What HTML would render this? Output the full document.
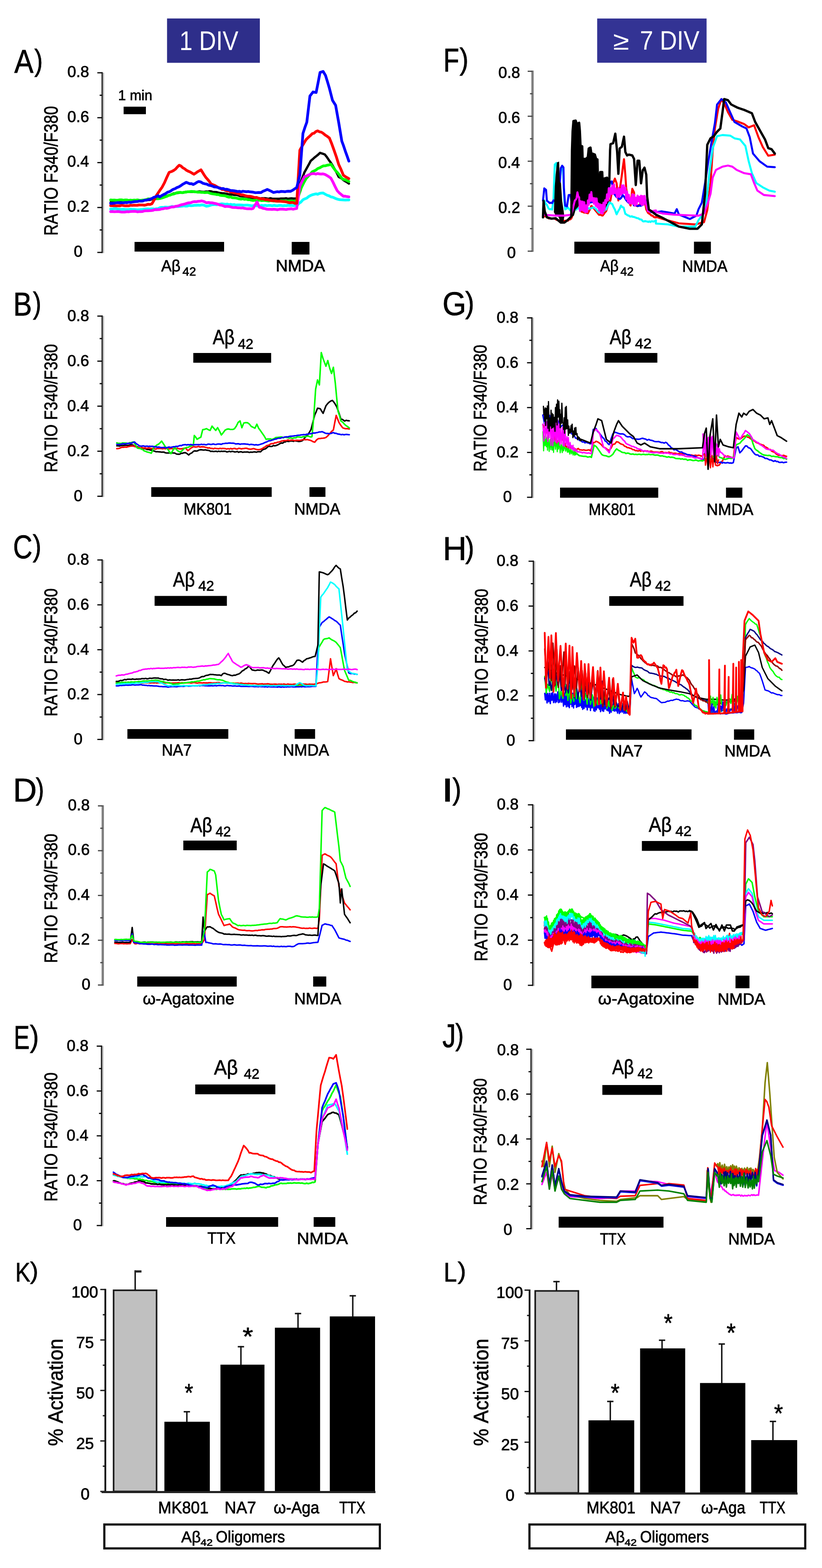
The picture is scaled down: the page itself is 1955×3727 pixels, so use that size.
<!DOCTYPE html>
<html><head><meta charset="utf-8"><title>Figure</title>
<style>html,body{margin:0;padding:0;background:#fff;}svg{display:block;}
text{font-family:"Liberation Sans","DejaVu Sans",sans-serif;font-kerning:none;text-rendering:geometricPrecision;stroke:#000;stroke-width:0.9px;}text[fill="#fff"]{stroke:none;}</style></head>
<body><svg width="1955" height="3727" viewBox="0 0 1955 3727">
<rect width="1955" height="3727" fill="#fff"/>
<polyline points="263.2,480.7 267.5,481.6 271.8,481.2 276.2,480.2 280.5,480.4 284.8,480.1 289.1,480.2 293.4,480.3 297.7,478.9 302.1,478.6 306.2,479.7 310.3,478.9 314.4,479.2 318.5,477.8 322.6,478.3 326.7,478.5 330.8,477.5 335,478.5 339.1,478.2 343.5,476 347.9,475.3 352.4,475.4 356.8,475.3 361.3,473.6 366,472.9 370.6,472.8 375.3,471.7 380,471.5 384.1,470.4 388.2,469.1 392.3,467.2 396.4,465.8 400.6,464.3 404.7,463.3 408.8,461.6 412.9,459.7 417,459.6 421.1,458.7 425.2,458.4 429.3,457.3 433.5,458.2 437.6,457.6 441.7,456 445.8,455.9 449.9,456.1 454,455.7 458,456 462,455.2 466,455.9 470.1,455.6 474.1,455 478.1,455.5 482.1,455.9 486.1,455.9 490.1,455.3 494.1,455.5 498.1,454.6 502.1,454.9 506.4,456.4 510.8,456.4 515.1,456.7 519.4,457.9 523.7,458.7 528,459.3 532.2,459.4 536.3,460.2 540.4,460.9 544.5,461.9 548.6,462.1 552.7,462.6 556.8,463.3 560.9,463.2 565,463.9 569.2,465.5 573.3,466.6 577.4,466.6 581.5,466.9 585.6,467.1 589.7,468.3 593.8,469.7 597.9,469.9 602.1,470.2 606.2,470.9 610.3,470.1 614.4,470.8 618.5,471.7 622.6,471.3 626.7,471.3 630.8,471.2 635,471.9 639.1,472.7 643.2,471.2 647.4,472.4 651.6,472.5 655.7,472.6 659.9,472.4 664,472.5 668.2,472 672.4,472.1 676.5,471.9 680.7,471.3 684.9,472.6 689,472.1 693.2,471.5 697.4,472 701.5,472 705.7,471.8 713.1,438.4 718.6,423.9 724.2,409.3 729.1,400.6 734.1,391.7 739,382.4 743.4,378.7 747.9,374.5 752.3,371.1 756.8,367.5 761.2,363.3 766.8,365.1 772.3,367 777.2,372.9 782.2,380.6 787.1,387.1 791.7,394.5 796.4,402.7 801,411.1 805.6,420.6 809.6,422.5 813.6,425.1 817.6,428.7 821.6,431 825.7,433.4 829.7,436.3" fill="none" stroke="#000000" stroke-width="5.5" stroke-linejoin="round" stroke-linecap="round"/>
<polyline points="263.2,496.8 267.5,497 271.8,495.7 276.2,496 280.5,497.4 284.8,497.4 289.1,497.5 293.4,497.2 297.7,497.9 302.1,498.1 306.2,498 310.3,497.3 314.4,497.8 318.5,497.7 322.6,498.2 326.7,498.7 330.8,498.6 335,498 339.1,497.8 343.2,497.3 347.3,496.7 351.4,496.5 355.5,497 359.6,496.6 363.7,496.5 367.9,497.1 372,496.3 376.1,496.1 380,493.8 384.1,493 388.2,493.1 392.3,492.4 396.4,492.6 400.6,492.9 404.7,492 408.8,490.8 412.9,491.5 417,491 421.1,490.7 425.2,490.7 429.3,490.3 433.5,490.1 437.6,489.2 441.7,490 445.8,489.8 449.9,488.3 454,489 458.2,488.7 462.5,488 466.7,487.9 470.9,487.6 475.2,488 479.4,487.1 483.6,487.3 491,490.3 496.6,489.3 502.1,487.4 506.4,486.4 510.8,486.3 515.1,486.5 519.4,485.9 523.7,485.2 528,484.5 532.2,484.9 536.3,485.7 540.4,485 544.5,486.4 548.6,485.6 552.7,486.8 556.8,486.1 560.9,487.3 565,487.1 569.2,487 573.3,487.2 577.4,487.6 581.5,487.8 585.6,487.5 589.7,487.6 593.8,488.2 597.9,489.1 602.1,488.8 606.2,488 610.3,489.2 614.4,489 618.5,489.3 622.6,488.1 626.7,489 630.8,487.9 635,488.9 639.1,488.3 643.2,488.2 647.4,489.2 651.6,488 655.7,488.7 659.9,489.2 664,488.2 668.2,488.2 672.4,489.2 676.5,488.5 680.7,489 684.9,487.9 689,488.4 693.2,488.1 697.4,488.9 701.5,488 705.7,489.4 710.6,483.6 715.6,480.4 720.5,474.9 724.9,472.7 729.4,471 733.8,467.4 738.3,464.8 742.7,463 747,461.9 751.3,460.8 755.6,461.7 760,459.7 764.3,458.9 768.6,458.8 773.2,461.5 777.9,464 782.5,465.4 787.1,468 791.7,468.9 796.4,471 801,472.9 805.6,474.2 809.6,474.8 813.6,474.9 817.6,475.3 821.6,475.4 825.7,475.3 829.7,475.2" fill="none" stroke="#00ffff" stroke-width="6.5" stroke-linejoin="round" stroke-linecap="round"/>
<polyline points="263.2,475.3 267.5,475.8 271.8,475.5 276.2,475.9 280.5,475.9 284.8,475 289.1,474.9 293.4,476.2 297.7,475.3 302.1,475.3 306.2,476.5 310.3,475.6 314.4,476.2 318.5,475.6 322.6,475.9 326.7,475.1 330.8,475.9 335,476.3 339.1,475.7 343.5,475.3 347.9,474.5 352.4,472.8 356.8,473.1 361.3,472.1 366,471.7 370.6,471.2 375.3,472.6 380,471.9 384.1,470.9 388.2,469.7 392.3,468 396.4,466.9 400.6,464.6 404.7,463.8 408.8,461.8 412.9,461.2 417,459.6 421.1,458 425.2,457.6 429.3,457.3 433.5,458.1 437.6,456.9 441.7,456.8 445.8,455.8 449.9,455.8 454,455.1 458.1,455.3 462.2,455.9 466.4,456.1 470.5,456.8 474.6,456.6 478.7,457.2 482.8,457.3 486.9,457.8 491,457.5 495.1,457.5 499.3,459.4 503.4,460.4 507.5,461.1 511.6,461.4 515.7,462.5 519.8,462.5 523.9,464.3 528,464.7 532.2,465.1 536.3,465.5 540.4,467.6 544.5,468.7 548.6,468 552.7,470 556.8,470.2 560.9,470.6 565,471.7 569.2,472.8 573.3,473.4 577.4,472.5 581.5,473.8 585.6,473.3 589.7,474.8 593.8,474.6 597.9,475.9 602.1,476.5 606.2,475.9 610.3,476.9 614.4,476 618.5,475.8 622.6,476.9 626.7,476.2 630.8,476.6 635,477.2 639.1,477.7 643.2,477 647.4,476.8 651.6,478.1 655.7,477.2 659.9,478.3 664,478.2 668.2,477.3 672.4,477.5 676.5,477.6 680.7,477.8 684.9,477.7 689,477.6 693.2,477.7 697.4,478.2 701.5,477.5 705.7,477.4 711.2,462.2 716.8,445.7 722.3,434.7 727.9,424.6 732.8,419 737.8,414.1 742.7,408.3 747.1,406.3 751.6,404 756,400.5 760.5,398.9 764.9,396.3 769.3,394.3 773.8,394.1 778.2,392.7 782.7,392 787.1,390.3 792.7,398.3 798.2,405.7 803.1,410.8 808.1,417 813,424.2 817.2,426.5 821.3,427.2 825.5,429.4 829.7,431.4" fill="none" stroke="#00ff00" stroke-width="6.5" stroke-linejoin="round" stroke-linecap="round"/>
<polyline points="263.2,503 267.5,502.8 271.8,503.3 276.2,502.9 280.5,502.7 284.8,503.3 289.1,504.1 293.4,503.9 297.7,503.9 302.1,503 306.2,503.4 310.3,502.8 314.4,502.5 318.5,502.3 322.6,502.4 326.7,503.4 330.8,503.1 335,502.9 339.1,502.8 343.2,501.3 347.3,501 351.4,501.1 355.5,500.7 359.6,500.4 363.7,500 367.9,498.2 372,498.6 376.1,498.2 380,497.9 384.1,496.6 388.2,496.2 392.3,494.8 396.4,495.3 400.6,494.4 404.7,493 408.8,491.8 412.9,492 417,490.6 421.1,490.1 425.2,489 429.3,487.4 433.5,486.2 437.6,485.5 441.7,484.2 445.8,482.8 449.9,482 454,481.7 458.3,479.9 462.7,479.3 467,479.6 471.3,478.4 475.6,478.2 479.9,477.5 485.5,479.1 491,482 495.7,481.2 500.3,482 504.9,482.1 509.5,483.3 513.9,484 518.2,485.3 522.5,487.2 526.8,487.7 531.1,489.3 535.4,491.1 539.7,490.4 543.9,490.8 548.1,491.6 552.4,493 556.6,493.3 560.8,493.2 565,493.9 569.2,493.9 573.3,494.5 577.4,494.1 581.5,495.3 585.6,495.9 589.7,496.2 593.8,496 597.9,496.6 602.1,495.3 606.7,487.4 611.3,480.1 616.9,492.8 621.3,493.3 625.7,495.3 630.2,495.9 634.6,497.3 639.1,497.6 643.2,497.4 647.3,497.8 651.4,497.3 655.5,497.7 659.6,498.6 663.7,497.6 667.9,497.1 672,497.2 676.1,497.4 680.3,498.1 684.5,497.1 688.8,496.8 693,496.2 697.2,497.3 701.5,496.2 705.7,495.6 713.1,441.7 718.6,430.6 724.2,419.6 728.8,418.6 733.4,415.9 738.1,413.9 742.7,412.8 746.9,412.5 751.2,413.8 755.4,412.5 759.6,413.2 763.8,413.7 768.1,413.3 772.3,414.3 777.2,416.9 782.2,420 787.1,423.7 792,433 797,443.5 801.9,453.1 806.8,458.4 811.8,462.6 816.7,466.4 821,466.3 825.3,467.3 829.7,467.9" fill="none" stroke="#ff00ff" stroke-width="6.5" stroke-linejoin="round" stroke-linecap="round"/>
<polyline points="263.2,488.8 267.5,489 271.8,489.1 276.2,489.3 280.5,489 284.8,489.3 289.1,487.9 293.4,488.6 297.7,489.3 302.1,488.9 306.2,489.2 310.3,487.8 314.4,488.2 318.5,487.7 322.6,488.1 326.7,488 330.8,487 335,487.2 339.1,487.2 343.5,487.7 347.9,486.9 352.4,485.4 356.8,485.9 361.3,484.4 366.8,474.9 372.4,464 380,452.7 385.6,444.8 391.1,434.5 396.7,421.6 402.2,409.8 407.8,407.8 413.3,405 417.6,401.8 421.9,396.8 426.3,392.7 430.4,394.7 434.6,398.7 438.8,401 442.9,404.3 447.5,406.9 452.2,408.7 456.8,411.6 461.4,414.1 465.6,411.3 469.7,408.4 473.9,406 478.1,403.7 485.5,415.7 489.6,421.8 493.8,426.4 498,431.4 502.1,437.3 506.4,439 510.8,440.8 515.1,443.3 519.4,445.8 523.7,446.9 528,450.5 532.2,450.2 536.3,452.6 540.4,454 544.5,453.9 548.6,456.4 552.7,457 556.8,458.5 560.9,458.9 565,460.2 569.2,461.2 573.3,463.3 577.4,462.9 581.5,464.6 585.6,465.7 589.7,466.5 593.8,466.4 597.9,467.2 602.1,468.3 606.2,469.5 610.3,469.3 614.4,471.1 618.5,472 622.6,473 626.7,472.5 630.8,474.8 635,474.2 639.1,475.4 643.2,476.3 647.4,477.3 651.6,476.8 655.7,478.2 659.9,478.1 664,478.2 668.2,478.6 672.4,478.9 676.5,479.2 680.7,479.7 684.9,481.1 689,482 693.2,481.2 697.4,481.4 701.5,483.4 705.7,483.1 713.1,357.1 718,348.2 723,340.1 727.9,331.9 732.8,327 737.8,322.6 742.7,317.7 747,316.6 751.3,312.7 755.6,311 760,313.4 764.3,314.1 768.6,316.9 773.5,321 778.5,324.2 783.4,328.1 789,341.8 794.5,357.1 800.1,373.3 805.6,391.1 811.2,403.2 816.7,416.4 821,419.7 825.3,422 829.7,424.6" fill="none" stroke="#ff0000" stroke-width="6.5" stroke-linejoin="round" stroke-linecap="round"/>
<polyline points="263.2,483.6 267.5,483.4 271.8,482.7 276.2,482.1 280.5,481.5 284.8,482.3 289.1,481.8 293.4,482.1 297.7,481.2 302.1,481.7 306.2,480.5 310.3,480.9 314.4,480.4 318.5,479.5 322.6,479.2 326.7,479.1 330.8,477.9 335,478 339.1,478 343.5,476 347.9,475.8 352.4,474.5 356.8,473.6 361.3,471.7 366.2,468.9 371.1,467.5 376.1,465.1 380,468.2 384.6,464.9 389.3,462.2 393.9,460.2 398.5,456.8 402.9,455.7 407.4,452.9 411.8,450 416.3,448.5 420.7,445.9 425.2,444.2 429.6,441.6 434,438.3 438.5,435.9 442.9,433.4 447.1,435 451.2,436.7 455.4,436.5 459.6,438.5 463.9,436.4 468.2,433.4 472.5,431.4 477.5,432.5 482.4,435.6 487.3,436.9 491.8,437.7 496.2,440 500.7,441 505.1,442.3 509.5,444.2 513.9,444.6 518.2,445.6 522.5,447.6 526.8,448.2 531.1,448.1 535.4,450.2 539.7,449.8 543.9,451.1 548.1,452.8 552.4,453.1 556.6,453.4 560.8,454.3 565,455.2 569.3,454.7 573.5,456.1 577.7,454.6 582,455.2 586.2,455.7 590.4,455.2 594.7,456.1 602.1,456.8 606.7,457.9 611.3,457.8 615.9,457.5 620.6,457.8 625.5,454.6 630.4,452.8 635.4,450.3 640.3,452.3 645.2,454.7 650.2,457.5 654.8,456.6 659.4,455.6 664,456.2 668.7,455 673.1,455.3 677.6,455.8 682,454.8 686.4,454.6 690.9,454.7 695.8,452.4 700.8,448.9 705.7,445.7 713.1,416.4 720.5,317.2 725.1,303.2 729.7,290.5 737.1,228.3 744.5,218.6 751.9,219.9 756.6,196.2 761.2,172.2 768.6,169.8 774.2,179.4 778.8,194.1 783.4,209.7 790.8,238.5 798.2,250.2 805.6,291.4 813,335.7 817.2,346.9 821.3,359.3 825.5,370.8 829.7,383" fill="none" stroke="#0000ff" stroke-width="6.5" stroke-linejoin="round" stroke-linecap="round"/>
<polyline points="277.8,1059.7 281,1059.7 284.2,1060.3 287.5,1059.1 290.7,1059 293.9,1059 297.1,1058 300.4,1058.4 303.6,1058.5 306.8,1058.6 310.1,1057 313.3,1057.2 316.8,1058.1 320.4,1060.9 324,1062 327.5,1062 331.1,1065.2 334.1,1065.9 337.2,1065.9 340.3,1066.5 343.4,1066.3 346.4,1066.7 349.5,1068.4 352.6,1068.2 355.7,1069.1 358.7,1069.9 361.8,1070.1 364.9,1071.7 368,1072.3 371,1073.8 374.2,1073.5 377.4,1074 380.5,1074.1 383.7,1074.7 386.9,1074.6 390.1,1074.6 393.2,1076.3 396.4,1076.7 399.6,1076.7 402.8,1076.7 405.9,1076.3 409.1,1076.4 412.3,1076.8 415.4,1076.7 419.9,1079.2 424.3,1079.6 427.7,1079.4 431,1077.3 434.3,1077.4 437.6,1076 441.3,1076.1 445,1078.3 448.7,1081.5 452.5,1078.1 456.2,1076.6 459.9,1072.9 463,1071.6 466.2,1072.1 469.4,1071.8 472.5,1070.1 475.7,1069.1 478.9,1069 482.1,1069.6 485.2,1069.8 488.4,1069.2 491.6,1070.1 494.7,1070.4 497.9,1071 501.1,1073.1 504.3,1072.5 507.4,1073.2 510.6,1073 513.8,1072.5 517,1073.6 520.1,1072.4 523.3,1073.4 526.5,1072.4 529.6,1073 532.8,1072.6 536,1072.7 539.2,1074.1 542.3,1073.7 545.5,1072.7 548.7,1073.9 551.8,1072.7 555,1073.2 558.2,1074.3 561.4,1074 564.5,1073.1 567.7,1075.1 570.9,1073.7 574.1,1073.9 577.2,1075.1 580.4,1074.4 583.6,1074.5 586.7,1074.2 589.9,1074.4 593.1,1075.5 596.4,1074.6 599.7,1075 603.1,1074.3 606.4,1074.1 609.7,1074.9 613.1,1073.7 616.4,1073.6 619.7,1073.9 623.3,1070.3 626.8,1068 630.4,1067.3 633.9,1064.9 637.5,1061.5 640.7,1060.8 643.8,1061.2 647,1061 650.2,1058.9 653.4,1059.8 656.5,1059 659.7,1057.8 662.9,1056.2 666,1054.3 669.2,1052.9 672.4,1053.4 675.6,1050.7 678.7,1050.4 681.9,1048.2 685.1,1049.4 688.3,1048.9 691.4,1048.3 694.6,1048.1 697.8,1049.1 700.9,1047.8 704.1,1048.2 707.4,1048.8 710.8,1049.4 714.1,1048.9 717.4,1048.3 720.8,1046.2 724.1,1041.5 727.4,1037.7 730.8,1034.9 735.2,1028.6 739.6,1021.2 744.1,1003.6 748.5,986.3 751.9,978.9 755.2,970.2 758.5,970.7 761.9,971.8 765.2,977.5 768.5,982.4 771.8,973.6 775.2,964.5 778.5,960.3 781.8,956.7 786.3,953.4 790.7,951.8 794,955.8 797.4,960.8 800.7,966.7 804,975.7 807.4,985.4 810.7,995.9 815.1,997.3 819.6,1000.9 823.3,999 827,999.9 830.7,1000.3" fill="none" stroke="#000000" stroke-width="3.6" stroke-linejoin="round" stroke-linecap="round"/>
<polyline points="277.8,1066.4 281,1066.2 284.2,1065.6 287.5,1063.9 290.7,1063.1 293.9,1063.2 297.1,1062.4 300.4,1062.9 303.6,1062 306.8,1061.2 310.1,1060.5 313.3,1060.1 316.8,1060 320.4,1061.5 324,1061.8 327.5,1064.2 331.1,1063.4 334.1,1065.1 337.2,1063.7 340.3,1065.1 343.4,1064.6 346.4,1064.9 349.5,1066 352.6,1064.5 355.7,1064.7 358.7,1066.6 361.8,1066 364.9,1065.3 368,1067.3 371,1067.4 374.2,1065.7 377.4,1066.3 380.5,1065.7 383.7,1066.1 386.9,1066.7 390.1,1065.8 393.2,1066.9 396.4,1065.6 399.6,1065.8 402.8,1067.1 405.9,1066.3 409.1,1066.3 412.3,1066.7 415.4,1066.4 418.8,1066.1 422.1,1065.3 425.4,1066.6 428.8,1067 432.1,1066.9 435.4,1066.1 438.8,1065.4 442.1,1065.3 446.5,1071.3 449.9,1069 453.2,1065.7 456.5,1063.7 459.9,1061.8 463,1062.1 466.2,1062.6 469.4,1062 472.5,1061.1 475.7,1062.7 478.9,1061.9 482.1,1062.1 485.2,1062.1 488.4,1063.2 491.6,1063.7 494.7,1065.1 497.9,1064.4 501.1,1065.9 504.3,1065.8 507.4,1066.9 510.6,1065.5 513.8,1066 517,1066.2 520.1,1066.7 523.3,1065.6 526.5,1066.4 529.6,1065.9 532.8,1066 536,1066.4 539.2,1067.4 542.3,1066.4 545.5,1067.4 548.7,1065.8 551.8,1067.3 555,1066.2 558.2,1065.8 561.4,1067 564.5,1067.3 567.7,1065.5 570.9,1066 574.1,1067 577.2,1066.2 580.4,1066 583.6,1065.5 586.7,1065.5 589.9,1066.7 593.1,1067.4 596.4,1067.7 599.7,1067 603.1,1066.3 606.4,1067.2 609.7,1068.4 613.1,1068.8 616.4,1068.7 619.7,1068.1 623.3,1066.5 626.8,1064.2 630.4,1062.3 633.9,1059.3 637.5,1058.5 640.7,1057.4 643.8,1055 647,1054.3 650.2,1054.5 653.4,1052.4 656.5,1052.8 659.7,1051 662.9,1050.7 666,1050.1 669.2,1048.5 672.4,1048 675.6,1047.3 678.7,1047.5 681.9,1046.9 685.1,1045.7 688.3,1047.3 691.4,1046.3 694.6,1046 697.8,1046.4 700.9,1047.4 704.1,1046.6 707.4,1046.5 710.8,1046.8 714.1,1046.6 717.4,1045.9 720.8,1044.9 724.1,1045 727.4,1045.3 730.8,1044.8 734.3,1045.8 737.9,1046.6 741.4,1048 745,1050.1 748.5,1051.1 753,1045.5 757.4,1042.5 761,1042.4 764.5,1041.8 768.1,1041.5 771.6,1041.1 775.2,1039.9 779.6,1036 784.1,1030.7 788.5,1025.7 792.9,1021.8 796.3,1003.9 799.6,987.4 802.9,995.8 806.3,1004.4 810.7,1011.2 815.1,1016.9 818.3,1018.1 821.4,1018.9 824.5,1018.7 827.6,1018.9 830.7,1019.7" fill="none" stroke="#ff0000" stroke-width="3.6" stroke-linejoin="round" stroke-linecap="round"/>
<polyline points="277.8,1052.6 281.1,1053.7 284.4,1053.8 287.8,1054.3 291.1,1052.8 294.4,1053.1 297.7,1053 301.1,1053.3 304.4,1054.6 307.7,1052.4 311.1,1052.6 314.4,1051 317.7,1050.4 322.2,1057.4 326.6,1065.1 329.8,1065.8 333,1065.6 336.1,1067.5 339.3,1068.5 342.5,1071.5 345.7,1072.6 348.8,1073.9 352.5,1075 356.2,1075.8 359.9,1077.3 363.3,1069.8 366.6,1061.4 369.9,1060.6 373.2,1057.6 376.6,1056 379.9,1053.3 384.4,1048.5 388.8,1055 393.2,1061.9 396.6,1065.5 399.9,1068.9 403.2,1074.5 406.6,1078.3 411,1071 415.4,1062.5 419.9,1068.8 424.3,1072.6 428.8,1074.5 433.2,1071.3 437.6,1066.3 441,1064.6 444.3,1063.5 447.6,1063.2 451,1061.4 455.4,1059.7 459.9,1057.8 462.1,1035.1 465.4,1038.9 468.7,1044.2 473.2,1041.4 477.6,1039.2 482.1,1021.3 486.5,1020.6 490.9,1018.8 495.4,1021.3 499.8,1023.1 504.3,1012.9 508.7,1018.1 513.1,1023.1 517.6,1016.5 522,1024.5 526.5,1033.9 530.9,1028.4 535.4,1022.4 539.8,1020.1 544.2,1019.6 547.6,1020.7 550.9,1020.8 554.2,1020.6 557.6,1019.1 562,1012.9 566.4,1004 570.9,1000.4 575.3,1016.7 579.8,1005.4 584.2,1004.5 588.6,1004.8 593.1,1008 597.5,1013.5 602,1015.6 606.4,1017.8 610.9,1008.4 615.3,1018.2 619.7,1023.9 624.2,1030.4 628.6,1036.8 633.1,1044.7 636.4,1043.3 639.7,1043.6 643,1043.2 646.4,1044.6 649.7,1043.3 653,1042.1 656.4,1039.8 659.7,1039.7 663.3,1039.4 666.8,1038.8 670.4,1038.6 673.9,1041 677.5,1038.9 681,1039.8 684.6,1040.2 688.1,1041.4 691.7,1040.6 695.2,1042 699.7,1040.6 704.1,1040.6 707.3,1038.3 710.5,1038.8 713.6,1038.9 716.8,1039.7 720,1038.3 723.1,1037.9 726.3,1038 729.4,1037.1 732.5,1036.5 735.6,1037.6 738.8,1038.6 741.9,1038.2 746.3,990.4 750.7,924.8 755.2,903 759.6,914.9 764.1,838 768.5,852.9 771.8,861.6 775.2,870.5 779.6,857 784.1,875.1 788.5,887.7 792.9,873 797.4,910 800.7,945 804,977.9 807.4,987.6 810.7,1000.5 815.1,1003.6 819.6,1008.7 823.3,1011.8 827,1014.3 830.7,1017.1" fill="none" stroke="#00ff00" stroke-width="3.6" stroke-linejoin="round" stroke-linecap="round"/>
<polyline points="277.8,1056.1 281,1056.7 284.2,1056.3 287.5,1056.4 290.7,1055 293.9,1054.7 297.1,1055.1 300.4,1054.7 303.6,1053.8 306.8,1054.1 310.1,1053.3 313.3,1053.6 316.6,1051.4 320,1050.5 323.7,1054.5 327.4,1056.6 331.1,1059.4 334.1,1060.5 337.2,1060.4 340.3,1059.8 343.4,1060.6 346.4,1060.9 349.5,1060.3 352.6,1061.2 355.7,1060.6 358.7,1061.1 361.8,1060.8 364.9,1061.2 368,1062.6 371,1061.9 374.2,1063.1 377.4,1062.6 380.5,1063.2 383.7,1063.9 386.9,1063.9 390.1,1063.3 393.2,1064.4 396.4,1064.1 399.6,1063.1 402.8,1062.6 405.9,1063.6 409.1,1062.7 412.3,1061.9 415.4,1062 418.6,1060.9 421.8,1061.2 425,1060.1 428.1,1058.9 431.3,1059.4 434.5,1057.6 437.6,1057.2 440.8,1056.8 444,1057.8 447.2,1056.8 450.3,1057.4 453.5,1056.6 456.7,1057.2 459.9,1057.4 463,1057.1 466.2,1056.9 469.4,1056.9 472.5,1056.8 475.7,1057 478.9,1056.1 482.1,1056.7 485.2,1056.2 488.4,1057.1 491.6,1057.1 494.7,1055.6 497.9,1055.7 501.1,1056.5 504.3,1056.1 507.4,1055.2 510.6,1056.2 513.8,1056.5 517,1055.5 520.1,1055.3 523.3,1055.6 526.5,1056.1 530,1054.5 533.6,1054.2 537.1,1053.5 540.7,1053.8 544.2,1053.1 547.6,1053 550.9,1053.5 554.2,1053.2 557.6,1054 560.9,1055.3 564.2,1054.9 567.5,1054.7 570.9,1056.1 574.1,1055.3 577.2,1055.3 580.4,1055.1 583.6,1055.4 586.7,1055.7 589.9,1055.9 593.1,1057.1 596.3,1056.3 599.4,1056.4 602.6,1057.1 605.8,1057.8 608.9,1056.9 612.1,1057.8 615.3,1057.4 618.5,1056.4 621.6,1055.2 624.8,1054.5 628,1052.9 631.2,1051.3 634.3,1050.5 637.5,1048.5 640.7,1047.6 643.8,1047.5 647,1045.9 650.2,1045.3 653.4,1043.6 656.5,1043.7 659.7,1042.2 662.9,1041.2 666,1041.8 669.2,1040.6 672.4,1039.9 675.6,1039.3 678.7,1038.6 681.9,1038.2 685.1,1038.5 688.3,1037.2 691.4,1036.9 694.6,1036.7 697.8,1036.4 700.9,1035.7 704.1,1035.8 707.3,1034.7 710.5,1034.5 713.6,1034.3 716.8,1033.5 720,1033.4 723.1,1032.9 726.3,1033.5 729.5,1032 732.7,1032.2 735.8,1030.8 739,1030.9 742.2,1030.2 745.4,1029.1 748.5,1029.4 752.1,1028.5 755.6,1027.9 759.2,1026.7 762.7,1026.8 766.3,1026.1 769.6,1027.6 773,1029.4 776.3,1030.4 779.6,1030.2 782.9,1030.7 786.3,1030.5 789.6,1029.3 792.9,1028.1 796.1,1029.9 799.3,1029.9 802.5,1031.4 805.6,1031.9 808.8,1032.4 812,1033.2 815.1,1032.5 818.3,1033.6 821.4,1032.8 824.5,1032.6 827.6,1033 830.7,1033.3" fill="none" stroke="#0000ff" stroke-width="3.6" stroke-linejoin="round" stroke-linecap="round"/>
<polyline points="276.5,1622.7 279.6,1623.3 282.8,1623.2 285.9,1623 289,1622.7 292.2,1623.4 295.3,1623.4 298.5,1623.1 301.6,1623.1 304.8,1622.7 307.9,1622.5 311.1,1622.9 314.2,1623.2 317.4,1622.5 320.5,1623.4 323.6,1622.7 326.8,1622.7 329.9,1622.5 333.1,1623.7 336.1,1623.4 339.1,1623.5 342.2,1623.2 345.2,1622.5 348.2,1622.9 351.3,1623.1 354.3,1622.6 357.3,1623.6 360.3,1622.9 363.4,1622.7 366.4,1623.4 369.4,1622.6 372.5,1623.6 375.5,1623 378.5,1623.1 381.5,1622.9 384.6,1623 387.6,1622.7 390.6,1622.5 393.6,1623.5 396.7,1622.7 399.7,1623.4 402.7,1622.7 405.8,1623.6 408.8,1623.5 411.8,1623.4 414.8,1623.4 417.9,1623.2 420.9,1623.3 423.9,1622.6 427,1623 430,1623.5 433,1622.7 436,1623.6 439.1,1623.5 442.1,1623 445.1,1622.9 448.2,1623 451.2,1622.9 454.2,1623.7 457.2,1622.9 460.3,1622.5 463.3,1622.6 466.3,1623.3 469.3,1623.7 472.4,1623.1 475.4,1623.1 478.4,1623.1 481.5,1623.4 484.5,1622.7 487.5,1623.2 490.5,1623.1 493.6,1623.2 496.6,1622.7 499.6,1622.7 502.7,1622.9 505.7,1623.6 508.7,1622.9 511.7,1623.2 514.8,1622.8 517.8,1622.6 520.8,1622.5 523.9,1623.4 526.9,1623.4 529.9,1622.9 532.9,1623.3 536,1623.4 539,1623.7 542,1623.9 545.1,1623.3 548.1,1624.1 551.1,1624.2 554.1,1623.8 557.2,1624.3 560.2,1623.9 563.2,1623.8 566.2,1623.8 569.3,1624.6 572.3,1623.8 575.3,1623.8 578.4,1624.8 581.4,1624.8 584.4,1624.6 587.4,1625.1 590.5,1624.3 593.5,1624.6 596.5,1624.7 599.6,1625 602.6,1624.7 605.6,1624.7 608.6,1625.1 611.7,1625.8 614.7,1625.9 617.7,1625.7 620.8,1625.5 623.8,1625.3 626.8,1626.2 629.8,1625.7 632.9,1626 635.9,1625.2 638.9,1625.5 641.9,1626.3 645,1626.3 648,1626.5 651,1626.2 654.1,1626.1 657.1,1626.3 660.1,1626.7 663.1,1626.1 666.2,1626.4 669.2,1626.1 672.3,1626.7 675.3,1625.8 678.4,1626.6 681.4,1626.9 684.4,1625.8 687.5,1626.5 690.5,1626.6 693.6,1626.8 696.6,1626.5 699.7,1626.1 702.7,1626.3 705.8,1626.9 708.8,1626.9 711.9,1626 714.9,1625.9 717.9,1625.9 721,1625.8 724,1626.3 727.1,1626 730.1,1626.8 733.2,1626.6 736.2,1625.9 739.3,1626.4 742.3,1626.2 745.4,1626.4 748.4,1626.1 751.4,1626 755.4,1624.4 759.4,1622.9 762.8,1622.8 766.1,1622 769.4,1620.9 772.8,1621.1 776.1,1620.7 779.4,1620.1 782.8,1593.4 786.1,1565.8 789.4,1586.4 792.7,1605.9 796.1,1598.4 799.4,1589.4 802.7,1601.7 806.1,1612.8 809.4,1615 812.7,1616.2 816.1,1617.5 819.4,1619.6 822.7,1619.9 826.1,1621 829.4,1620.6 832.7,1621.2 836,1621.6 839.4,1622.5 842.7,1621.8 846,1622.8 849.4,1623.1" fill="none" stroke="#ff0000" stroke-width="3.5" stroke-linejoin="round" stroke-linecap="round"/>
<polyline points="276.5,1623.6 279.6,1622.4 282.8,1622.1 285.9,1623.1 289,1621.9 292.2,1621.7 295.3,1622.1 298.5,1621.6 301.6,1622.1 304.8,1621.1 307.9,1621.8 311.1,1620.8 314.2,1621 317.4,1621.2 320.5,1620.7 323.6,1620.8 326.8,1620.4 329.9,1619.4 333.1,1620.2 336.2,1619.6 339.2,1619 342.3,1618.6 345.4,1619.1 348.5,1618.6 351.5,1618.7 354.6,1618.3 357.7,1618.2 360.8,1617.5 363.8,1617.4 366.9,1617 370,1616.4 373.1,1617 376.1,1616.9 379.2,1618.3 382.3,1619.3 385.4,1619.7 388.4,1619.8 391.5,1621.4 394.6,1622 397.7,1622.2 400.7,1622.8 403.8,1624.1 406.9,1624.3 410,1626.1 413,1626.4 416.2,1626 419.3,1625.5 422.4,1625.4 425.6,1625.3 428.7,1624.2 431.8,1623.9 435,1623.8 438.1,1623 441.2,1623 444.4,1622.5 447.5,1622 450.6,1621.9 453.8,1621.3 456.9,1620.4 460.1,1621.1 463.2,1620 466.3,1619.7 469.3,1619 472.4,1619 475.4,1618.5 478.4,1617.3 481.5,1616.6 484.5,1615.6 487.5,1616 490.5,1614.5 493.6,1614.3 496.6,1613.5 499.6,1612.9 503,1613.3 506.3,1613.5 509.6,1613.8 513,1614.8 516.3,1615.5 519.6,1615.7 522.9,1615.6 526.3,1616.6 529.6,1617 532.9,1618.5 536.3,1620.1 539.6,1621.3 542.9,1621.9 546.3,1623.5 549.4,1623.5 552.5,1623.9 555.7,1624.3 558.8,1625.2 561.9,1625.3 565.1,1625.4 568.2,1626.1 571.3,1626.4 574.5,1626.4 577.6,1627.3 580.7,1627.8 583.9,1627.9 587,1628.7 590.2,1628 593.3,1628.9 596.4,1629.5 599.6,1629.5 602.6,1629.3 605.6,1630 608.6,1629.6 611.7,1629.4 614.7,1629.2 617.7,1630.3 620.8,1629.5 623.8,1629.3 626.8,1629.4 629.8,1629.4 632.9,1630.2 635.9,1629.3 638.9,1629.5 641.9,1629.2 645,1629.7 648,1629.4 651,1629.5 654.1,1630 657.1,1630.2 660.1,1630.1 663.1,1629.2 666.2,1629.6 669.2,1630.1 672.3,1629.2 675.3,1629.4 678.4,1629.7 681.4,1629.6 684.4,1630 687.5,1630 690.5,1629.7 693.6,1629.4 696.6,1629.4 699.7,1629.4 702.7,1629.2 705.8,1629.9 708.8,1629.3 711.9,1630.2 714.9,1629.9 717.9,1629.2 721,1629.7 724,1629.9 727.1,1629.2 730.1,1629.7 733.2,1629.2 736.2,1630 739.3,1629.1 742.3,1629.9 745.4,1630.3 748.4,1630.1 751.4,1629.4 754.8,1584.8 758.1,1539.4 761.9,1532.9 765.7,1526.9 769.4,1520.2 772.8,1518.4 776.1,1518 779.4,1517.5 782.8,1516.1 786.1,1518.8 789.4,1520.9 792.7,1522.5 796.1,1524.3 799.4,1526.9 802.7,1530.9 806.1,1535 809.4,1539.5 812.7,1557.1 816.1,1575.7 819.4,1593.1 822.7,1601.1 826.1,1609 829.4,1617 832.7,1617.1 836,1618.5 839.4,1620.2 842.7,1621.2 846,1621.8 849.4,1623.3" fill="none" stroke="#00ff00" stroke-width="3.5" stroke-linejoin="round" stroke-linecap="round"/>
<polyline points="276.5,1630.2 279.6,1630.2 282.8,1630 285.9,1628.9 289,1629.4 292.2,1629.1 295.3,1629.1 298.5,1628.5 301.6,1628.5 304.8,1628.7 307.9,1628.3 311.1,1628.5 314.2,1627.8 317.4,1627.8 320.5,1628.4 323.6,1628 326.8,1628 329.9,1628.1 333.1,1627.6 336.1,1627.4 339.1,1628.6 342.2,1628.6 345.2,1628.9 348.2,1629.1 351.3,1629.7 354.3,1629.3 357.3,1630 360.3,1629.8 363.4,1630.2 366.4,1630.6 369.4,1630.4 372.5,1630.4 375.5,1631.1 378.5,1631.6 381.5,1631.7 384.6,1631.8 387.6,1632.3 390.6,1631.9 393.6,1632.2 396.7,1632.6 399.7,1633.4 402.7,1632.5 405.8,1632.3 408.8,1632.1 411.8,1631.9 414.8,1632 417.9,1632.2 420.9,1632.4 423.9,1631.6 427,1631.5 430,1631.3 433,1631.2 436,1631.6 439.1,1631.1 442.1,1630.6 445.1,1630.3 448.2,1631 451.2,1630.7 454.2,1630.7 457.2,1629.9 460.3,1630.1 463.3,1630.4 466.3,1629.8 469.3,1630.3 472.4,1629.3 475.4,1630.3 478.4,1629.2 481.5,1629.6 484.5,1629.2 487.5,1630.1 490.5,1630 493.6,1630.3 496.6,1630.1 499.6,1630.3 502.7,1629.8 505.7,1630.3 508.7,1630 511.7,1629.5 514.8,1630.3 517.8,1629.6 520.8,1629.4 523.9,1629.2 526.9,1629.7 529.9,1629.4 532.9,1630.2 536,1630.4 539,1629.6 542,1629.5 545.1,1630.1 548.1,1629.8 551.1,1630.3 554.1,1630.7 557.2,1630.2 560.2,1630.4 563.2,1631.1 566.2,1630.7 569.3,1630.6 572.3,1631.4 575.3,1631.4 578.4,1631.6 581.4,1631.4 584.4,1631.2 587.4,1631.6 590.5,1631.8 593.5,1631.7 596.5,1631.3 599.6,1631.5 602.6,1631.7 605.6,1632.2 608.6,1632 611.7,1632 614.7,1632.4 617.7,1631.6 620.8,1632.3 623.8,1632 626.8,1632.3 629.8,1632.7 632.9,1632.1 635.9,1633 638.9,1632 641.9,1632.6 645,1632.7 648,1632.4 651,1632.8 654.1,1632.8 657.1,1632.8 660.1,1633.2 663.1,1632.4 666.2,1632.9 669.2,1633.4 672.3,1632.5 675.3,1633.4 678.4,1632.5 681.4,1633 684.4,1632.4 687.5,1632.7 690.5,1632.6 693.6,1632.1 696.6,1632.8 699.7,1632.5 702.7,1632.7 705.8,1632.5 708.8,1632.5 711.9,1632.4 714.9,1632.1 717.9,1632.7 721,1631.7 724,1632.6 727.1,1632.5 730.1,1632.1 733.2,1632.3 736.2,1632.2 739.3,1632 742.3,1631.6 745.4,1631.6 748.4,1631.6 751.4,1631.5 754.8,1563 758.1,1493 762.1,1486.4 766.1,1479.7 769.4,1477.6 772.8,1474.5 776.1,1471.9 779.4,1468.9 782.8,1466.2 786.1,1468 789.4,1470.2 792.7,1472.2 796.1,1474.9 799.4,1476.5 802.7,1479.4 806.1,1483.1 809.4,1486 812.7,1508.8 816.1,1530.8 819.4,1553.5 822.7,1568.4 826.1,1584.6 829.4,1599.4 832.7,1600.9 836,1601 839.4,1600.9 842.7,1602.3 846,1602.3 849.4,1602.9" fill="none" stroke="#0000ff" stroke-width="3.5" stroke-linejoin="round" stroke-linecap="round"/>
<polyline points="276.5,1626.7 279.6,1626.6 282.8,1625.6 285.9,1626.4 289,1625.3 292.2,1625.7 295.3,1624.8 298.5,1625.4 301.6,1624.5 304.8,1625 307.9,1624.8 311.1,1624.7 314.2,1624.1 317.4,1624.4 320.5,1624.4 323.6,1623.2 326.8,1623.5 329.9,1623.8 333.1,1623.4 336.2,1622.7 339.2,1622.3 342.3,1622.8 345.4,1621.5 348.5,1622.1 351.5,1621.9 354.6,1620.9 357.7,1620.8 360.8,1620.5 363.8,1620.6 366.9,1620.1 370,1620.5 373.1,1620.2 376.4,1620.8 379.7,1622.7 383,1623 386.4,1624.2 389.7,1626.2 393,1627.6 396.4,1628.9 399.7,1630.3 402.7,1630.2 405.8,1629.4 408.8,1630 411.8,1630.2 414.8,1629.2 417.9,1629.7 420.9,1629.3 423.9,1629.3 427,1629.7 430,1629.9 433,1630.3 436,1629.3 439.1,1629.7 442.1,1630.3 445.1,1630 448.2,1629.8 451.2,1629.4 454.2,1629.9 457.2,1629.4 460.3,1629.9 463.3,1629.9 466.3,1629.6 469.3,1629.8 472.4,1629 475.4,1628.8 478.4,1628.9 481.5,1627.9 484.5,1627.5 487.5,1627.7 490.5,1627.2 493.6,1627.4 496.6,1626.4 499.6,1626.2 502.7,1625.6 505.7,1625.7 508.7,1625.3 511.7,1625.1 514.8,1625.2 517.8,1624 520.8,1624.9 523.9,1624.2 526.9,1624 529.9,1623.4 532.9,1623.2 536,1623.3 539,1623.5 542,1623.6 545.1,1624 548.1,1624.3 551.1,1624.7 554.1,1625.7 557.2,1625.8 560.2,1626 563.2,1625.5 566.2,1626.1 569.3,1626.7 572.3,1627.2 575.3,1627.2 578.4,1627.8 581.4,1628.4 584.4,1627.9 587.4,1628.4 590.5,1629.1 593.5,1628.9 596.5,1629.7 599.6,1629.6 602.6,1629.1 605.6,1629.7 608.6,1629.2 611.7,1630.1 614.7,1630.1 617.7,1629.8 620.8,1630.2 623.8,1629.4 626.8,1629.7 629.8,1629.3 632.9,1629.2 635.9,1630.1 638.9,1629.2 641.9,1630.2 645,1629.8 648,1630 651,1629.2 654.1,1630.2 657.1,1630.1 660.1,1629.3 663.1,1629.3 666.2,1629.3 669.2,1629.7 672.2,1629.2 675.3,1630.1 678.3,1629.7 681.3,1630 684.3,1629.4 687.4,1629.9 690.4,1629.7 693.4,1629.9 696.5,1629.6 699.5,1630.3 702.8,1628.5 706.1,1626.8 709.5,1624.5 712.8,1622.7 716.1,1624.3 719.5,1626 722.8,1628.6 726.1,1629.5 729.3,1630.2 732.5,1629.4 735.6,1629.9 738.8,1629.4 742,1629.5 745.1,1630 748.3,1629.9 751.4,1630.3 756.1,1579.4 759.4,1499.5 762.8,1419.4 766.1,1414.9 769.4,1411.1 772.8,1406 776.1,1401.2 779.4,1396.4 782.8,1390.2 786.1,1383.5 789.4,1385 792.7,1387.1 796.1,1389.5 799.4,1393.6 802.7,1396.8 806.1,1399.6 809.4,1430.7 812.7,1461.8 816.1,1493.4 819.4,1526.8 822.7,1559.5 826.1,1592.9 829.4,1595 832.7,1598.1 836,1599.8 839.4,1601.1 842.7,1601.1 846,1602.4 849.4,1603.2" fill="none" stroke="#00ffff" stroke-width="3.5" stroke-linejoin="round" stroke-linecap="round"/>
<polyline points="276.5,1619.5 279.8,1619.8 283.1,1619 286.5,1617.3 289.8,1617.7 293.1,1616.6 296.4,1615 299.8,1615.8 302.9,1614.5 306,1614.5 309.1,1614.5 312.2,1614.7 315.3,1613.8 318.4,1614.6 321.5,1614.7 324.6,1614 327.8,1614.3 330.9,1613.9 334,1614.1 337.1,1613 340.2,1613.1 343.3,1613.2 346.4,1612.4 349.7,1613.7 353.1,1613 356.4,1611.9 359.7,1612.5 363.1,1612.1 366.4,1611.6 369.7,1611.4 373.1,1611.7 376.4,1611.6 379.7,1613 383,1613.5 386.4,1613.5 389.7,1615.3 393,1614.5 396.4,1615.3 399.7,1616.9 402.7,1616 405.8,1616.3 408.8,1616.5 411.8,1616.3 414.8,1616.4 417.9,1616.4 420.9,1616.4 423.9,1615.7 427,1616.9 430,1616.1 433,1615.7 436,1616 439.1,1616.3 442.1,1615.7 445.1,1615.1 448.2,1614.9 451.2,1614.1 454.2,1614.5 457.2,1613.7 460.3,1613 463.3,1612.8 466.3,1612.4 469.3,1612.5 472.4,1611.9 475.4,1610.8 478.4,1609 481.5,1608 484.5,1608.3 487.5,1606.5 490.5,1605.3 493.6,1605 496.6,1604.2 499.6,1603.1 503,1603.3 506.3,1603.3 509.6,1603.8 513,1604 516.3,1604.6 519.6,1604.5 522.9,1604.6 526.3,1605.9 529.6,1601.8 532.9,1600.2 536.3,1600.7 539.6,1602.5 542.9,1603.4 546.3,1604.3 549.6,1605.5 552.9,1606 556.3,1604.8 559.6,1605.1 562.9,1603.5 566.2,1602.5 569.6,1601.1 572.9,1598.2 576.2,1594.8 579.6,1593.1 582.9,1590.1 586.2,1588.7 589.6,1585.2 592.9,1583.8 596.2,1588.3 599.6,1592.4 602.9,1592.9 606.2,1593.8 609.5,1593.4 612.9,1592.5 616.2,1592.9 619.5,1592.7 622.9,1592.4 626.2,1593.2 629.5,1595.1 632.9,1596 636.2,1598.2 639.5,1600.3 642.9,1594.5 646.2,1587.6 649.5,1581.6 652.8,1577.1 656.2,1571.7 659.5,1567 662.8,1563.6 666.2,1568.3 669.5,1574.6 672.8,1580.1 676.2,1582.8 679.5,1586.4 682.8,1585.3 686.2,1585.2 689.5,1583.6 692.8,1582.7 696.2,1582 699.5,1579.4 702.8,1574.7 706.1,1569.8 709.5,1569 712.8,1569.4 716.1,1571.8 719.5,1573.9 722.8,1570.6 726.1,1568.6 729.5,1565.7 732.8,1565.3 736.1,1564 739.5,1563.1 742.8,1561.7 746.1,1560.6 749.4,1560.4 752.8,1546.9 756.1,1532.9 759.4,1359.2 762.8,1360 766.1,1360.9 769.4,1361.8 772.8,1363.4 776.1,1365 779.4,1366 782.8,1363.9 786.1,1360.2 789.4,1356.9 792.7,1352.8 796.1,1347.4 799.4,1343.9 802.7,1347.4 806.1,1350.6 809.4,1352.5 812.7,1373.8 816.1,1394 819.4,1419.3 822.7,1447.1 826.1,1473.7 829.4,1469.1 832.7,1466.8 836,1463.6 839.4,1461.1 842.7,1457.5 846,1456.4 849.4,1452.5" fill="none" stroke="#000000" stroke-width="3.5" stroke-linejoin="round" stroke-linecap="round"/>
<polyline points="276.5,1606.7 279.8,1605.6 283.1,1605.1 286.5,1605.1 289.8,1604 293.1,1604.4 296.4,1603.9 299.8,1602.5 302.9,1602.4 306,1601.3 309.1,1600.6 312.2,1600.1 315.3,1599.2 318.4,1597.6 321.5,1597.3 324.6,1596.3 327.8,1595.7 330.9,1593.6 334,1593.8 337.1,1592.1 340.2,1591.1 343.3,1590.8 346.4,1590.2 349.5,1590.2 352.7,1589.4 355.8,1589.8 358.9,1588.7 362.1,1589.7 365.2,1588.8 368.4,1589 371.5,1588.4 374.6,1588.2 377.8,1588 380.9,1588.6 384,1588.4 387.2,1588.6 390.3,1588.5 393.4,1587.9 396.6,1588.3 399.7,1587.4 402.7,1588.1 405.8,1587.2 408.8,1587.9 411.8,1587.1 414.8,1587.1 417.9,1587.1 420.9,1586.4 423.9,1586.3 427,1586.7 430,1586.8 433,1585.9 436,1586.2 439.1,1586 442.1,1586.4 445.1,1586.5 448.2,1585.3 451.2,1585.8 454.2,1585.1 457.2,1585.8 460.3,1585.9 463.3,1585.5 466.3,1585.2 469.5,1584.2 472.6,1584 475.7,1583.8 478.9,1583.3 482,1583.1 485.1,1583.8 488.3,1582.7 491.4,1583.1 494.5,1582.6 497.7,1582.3 500.8,1582.1 503.9,1581.6 507.1,1580.8 510.2,1580.7 513.3,1580.3 516.5,1579.5 519.6,1579.2 522.9,1576.5 526.3,1573.1 529.6,1570.3 532.9,1566.6 536.3,1562.4 539.6,1557.5 542.9,1553.2 546.3,1560.2 549.6,1565.9 552.9,1572.5 556.3,1575.2 559.6,1577.3 562.9,1579.7 566.2,1581.5 569.6,1583.8 572.9,1585.9 576.2,1584.9 579.6,1582.5 582.9,1580.9 586.2,1580 589.6,1581.3 592.9,1582.5 596.2,1585.3 599.6,1586.4 602.6,1587.1 605.6,1586.8 608.6,1586.8 611.7,1586.8 614.7,1586.6 617.7,1587.7 620.8,1587.2 623.8,1587.2 626.8,1587.1 629.8,1587.8 632.9,1588.3 635.9,1587.8 638.9,1588.5 641.9,1588.5 645,1588.5 648,1588.8 651,1589.1 654.1,1589.5 657.1,1588.7 660.1,1589 663.1,1589.3 666.2,1589.2 669.2,1589.6 672.2,1589.8 675.3,1589.6 678.3,1590 681.3,1589.5 684.3,1590.6 687.4,1590.4 690.4,1589.8 693.4,1590 696.5,1590.7 699.5,1590 702.5,1590.8 705.5,1590 708.6,1590.7 711.6,1590.9 714.6,1590.8 717.7,1591.1 720.7,1591.4 723.7,1591.5 726.7,1590.4 729.8,1591 732.8,1590.6 735.8,1591.4 738.8,1590.7 741.9,1590.7 744.9,1590.6 747.9,1590.5 751,1590.8 754,1590.7 757,1591.1 760,1591.5 763.1,1591.4 766.1,1590.9 769.1,1590.8 772.2,1591.4 775.2,1590.8 778.2,1591.3 781.2,1591.7 784.3,1591.2 787.3,1591.1 790.3,1590.5 793.4,1590.8 796.4,1591.6 799.4,1590.6 802.5,1590.6 805.7,1591.2 808.8,1590.9 811.9,1591.2 815,1590.8 818.1,1590.8 821.3,1590.8 824.4,1591.3 827.5,1591.3 830.6,1590.5 833.8,1591.3 836.9,1591.4 840,1591 843.1,1590.6 846.2,1590.5 849.4,1591.7" fill="none" stroke="#ff00ff" stroke-width="3.5" stroke-linejoin="round" stroke-linecap="round"/>
<polyline points="273.1,2242.5 276.2,2242.6 279.2,2242.9 282.3,2243.2 285.3,2242.7 288.4,2242.6 291.5,2242.8 294.5,2243.3 297.6,2242.7 300.6,2243.3 303.7,2243.2 306.7,2242.7 309.8,2243.1 314.4,2233 319.8,2242.9 322.8,2243.5 325.9,2242.6 329,2242.6 332.1,2243.5 335.1,2242.9 338.2,2242.7 341.3,2242.9 344.4,2242.9 347.4,2243.5 350.5,2242.7 353.6,2242.8 356.7,2243.1 359.7,2243.1 362.8,2243.5 365.9,2243.4 369,2242.9 372,2242.7 375.1,2243.4 378.2,2243.5 381.3,2242.6 384.3,2243.3 387.4,2243.4 390.5,2243.2 393.6,2242.8 396.6,2243.3 399.7,2243.3 402.8,2242.7 405.9,2243.2 408.9,2242.8 412,2242.6 415.1,2242.9 418.2,2242.9 421.2,2242.9 424.3,2243.2 427.4,2243.4 430.5,2243.5 433.5,2243.5 436.6,2243.5 439.7,2243.3 442.7,2242.8 445.8,2242.7 448.9,2243.2 452,2243.1 455,2243.2 458.1,2242.6 461.2,2242.7 464.3,2243.5 467.3,2243.1 470.4,2243.2 473.5,2242.6 476.6,2242.9 479.6,2243.4 483,2238.2 486.3,2233.5 489.6,2179.4 493,2126.4 496.3,2125.1 499.6,2123.1 503,2125.6 506.3,2127.6 509.6,2129.4 513,2143.8 516.3,2159.1 519.6,2172.7 522.9,2179.4 526.3,2186.2 529.6,2193.3 532.9,2200.1 536.3,2198.9 539.6,2198.1 542.9,2197.5 546.3,2196.2 549.6,2199.6 552.9,2203.2 556.3,2204.9 559.6,2205.9 562.9,2207.7 566.2,2209.4 569.3,2210.3 572.3,2210.5 575.3,2211.1 578.4,2211.2 581.4,2211 584.4,2211.8 587.4,2212.3 590.5,2212 593.5,2212 596.5,2212.6 599.6,2212.8 602.7,2212.4 605.9,2211.9 609,2211.6 612.2,2212 615.3,2210.9 618.5,2211.1 621.6,2210.3 624.8,2209.9 628,2210.2 631.1,2209.3 634.3,2208.9 637.4,2208.8 640.6,2208.7 643.7,2208.2 646.9,2208.2 650,2207.3 653.2,2207.1 656.4,2207 659.5,2206.4 662.8,2204.9 666.2,2203 669.2,2202.7 672.2,2202.7 675.3,2203.3 678.3,2203.3 681.3,2203.5 684.3,2203.3 687.4,2203.1 690.4,2202.7 693.4,2203.4 696.5,2202.7 699.5,2203 702.8,2203.3 706.1,2204.1 709.5,2204.5 712.8,2205.2 716.1,2206.1 719.5,2206.4 722.8,2206.1 726.1,2206.7 729.5,2206.6 732.8,2206.7 736.1,2205.9 739.5,2206.5 742.8,2206.8 746.1,2206.2 749.4,2206.1 752.8,2206.7 756.1,2206.3 759.4,2186.3 762.8,2110.1 766.1,2033.1 769.4,2031.2 772.8,2029.6 776.1,2031.4 779.4,2033.4 782.8,2034.7 786.1,2036.8 789.4,2040.3 792.7,2044.6 796.1,2049.1 799.4,2053.2 802.7,2079.8 806.1,2106.9 809.4,2116.2 812.7,2126.1 816.1,2136 819.4,2146.4 822.7,2150.4 826.1,2154.7 829.4,2158.4 832.7,2162.6" fill="none" stroke="#ff0000" stroke-width="3.5" stroke-linejoin="round" stroke-linecap="round"/>
<polyline points="273.1,2239.3 276.2,2239.4 279.2,2239.5 282.3,2240.1 285.3,2239.7 288.4,2239.9 291.5,2239.3 294.5,2239.7 297.6,2240 300.6,2239.7 303.7,2240.1 306.7,2240.1 309.8,2239.6 314.4,2204.6 318.4,2240 321.4,2239.3 324.5,2239.2 327.5,2239.9 330.5,2240 333.5,2240 336.5,2240.2 339.5,2239.4 342.5,2239.3 345.5,2239.3 348.5,2240.2 351.5,2239.3 354.6,2239.4 357.6,2239.2 360.6,2239.3 363.6,2239.2 366.6,2239.6 369.6,2239.4 372.6,2239.5 375.6,2240.1 378.6,2239.4 381.6,2240 384.7,2239.9 387.7,2239.8 390.7,2239.8 393.7,2240 396.7,2239.8 399.7,2239.4 402.8,2239.5 405.9,2239.3 408.9,2239.5 412,2240 415.1,2239.4 418.2,2239 421.2,2239.3 424.3,2239.6 427.4,2239.2 430.5,2239.4 433.5,2238.7 436.6,2238.7 439.7,2239.2 442.7,2238.5 445.8,2238.7 448.9,2238.8 452,2238.5 455,2238.3 458.1,2238.2 461.2,2239.1 464.3,2238.8 467.3,2239 470.4,2238.5 473.5,2238.9 476.6,2238.8 479.6,2238.5 483,2179.8 486.3,2213.1 489.6,2207.8 493,2202.9 496.3,2203.3 499.6,2202.8 503,2205.1 506.3,2206.4 509.6,2209 513,2211.7 516.3,2214 519.6,2216 522.9,2217 526.3,2217.6 529.6,2218.4 532.9,2220.2 536,2220 539,2220.6 542,2220.5 545.1,2220.3 548.1,2221.1 551.1,2221.2 554.1,2220.9 557.2,2220.8 560.2,2221.2 563.2,2221.2 566.2,2221.6 569.3,2221.4 572.3,2222.2 575.3,2222.6 578.4,2221.9 581.4,2222.6 584.4,2222.5 587.4,2222.5 590.5,2223.1 593.5,2222.7 596.5,2223.2 599.6,2222.6 602.6,2223.7 605.6,2223 608.6,2223 611.7,2224 614.7,2224 617.7,2224.1 620.8,2224.4 623.8,2224.1 626.8,2224 629.8,2224.4 632.9,2225.2 635.9,2225.3 638.9,2224.7 641.9,2225.1 645,2225.3 648,2225.9 651,2225.1 654.1,2226.1 657.1,2225.7 660.1,2226.1 663.1,2225.9 666.2,2226 669.2,2226.5 672.3,2225.9 675.4,2226.1 678.5,2225.7 681.5,2225.4 684.6,2224.4 687.7,2224.7 690.8,2224.8 693.8,2224.1 696.9,2223.4 700,2223.2 703.1,2223.8 706.1,2223.5 709.5,2222 712.8,2221.2 716.1,2220.8 719.5,2219.7 722.8,2220.2 726.1,2221.9 729.5,2222.3 732.8,2222.9 736.1,2222.6 739.5,2223.1 742.8,2223.3 746.1,2222.7 749.4,2222.6 752.8,2223.3 756.1,2223.5 759.4,2164.6 762.8,2106.4 766.1,2080 769.4,2053.2 772.8,2055 776.1,2057.4 779.4,2059.5 782.8,2061.5 786.1,2063.4 789.4,2065.7 792.7,2067.6 796.1,2070.2 799.4,2079.6 802.7,2090.3 806.1,2100.1 809.4,2146.2 812.7,2112.8 816.1,2143.2 819.4,2173.1 822.7,2178.1 826.1,2182.7 829.4,2188.1 832.7,2193.3" fill="none" stroke="#000000" stroke-width="3.5" stroke-linejoin="round" stroke-linecap="round"/>
<polyline points="273.1,2235.1 276.2,2235.2 279.2,2235.4 282.3,2234.8 285.3,2235.2 288.4,2235.4 291.5,2235.4 294.5,2234.7 297.6,2235.2 300.6,2235.2 303.7,2235 306.7,2235.5 309.8,2235.1 314.4,2219.7 318.4,2240.1 322.1,2240.7 325.8,2241.2 329.4,2242 333.1,2243 336.1,2242.7 339.1,2243.4 342.2,2243.7 345.2,2243.6 348.2,2244.1 351.3,2244.4 354.3,2244.2 357.3,2244.4 360.3,2244 363.4,2244.1 366.4,2245.2 369.4,2244.6 372.5,2244.7 375.5,2245.6 378.5,2245.6 381.5,2245.1 384.6,2245.4 387.6,2245.5 390.6,2245.7 393.6,2245.6 396.7,2246.2 399.7,2246.2 402.8,2246.3 405.9,2246.1 408.9,2246 412,2245.9 415.1,2246.7 418.2,2246.6 421.2,2246.4 424.3,2246 427.4,2246 430.5,2246 433.5,2246.2 436.6,2245.9 439.7,2246.1 442.7,2246.1 445.8,2246.1 448.9,2246.5 452,2246.3 455,2246.3 458.1,2246.2 461.2,2246.4 464.3,2246.7 467.3,2246.2 470.4,2245.9 473.5,2246.3 476.6,2246.2 479.6,2246.6 485,2212.7 489.6,2240.1 493,2239.9 496.3,2241.1 499.6,2241.6 503,2242.2 506.3,2243.4 509.6,2243.5 513,2243.2 516.3,2243.8 519.6,2244.1 522.9,2243.8 526.3,2244.1 529.6,2244.9 532.9,2245.3 536,2245.1 539,2245.2 542,2245.4 545.1,2245.3 548.1,2246 551.1,2246.2 554.1,2245.9 557.2,2245.5 560.2,2246 563.2,2246.5 566.2,2246.2 569.3,2246.1 572.3,2246.3 575.3,2246.9 578.4,2247 581.4,2246.8 584.4,2247.2 587.4,2247.5 590.5,2247.8 593.5,2247.8 596.5,2247.5 599.6,2248 602.6,2248.2 605.6,2248.2 608.6,2248.2 611.7,2248.1 614.7,2248.2 617.7,2248.6 620.8,2248.5 623.8,2248.6 626.8,2248.2 629.8,2248.2 632.9,2248.5 635.9,2248.9 638.9,2249 641.9,2248.7 645,2248.7 648,2249.6 651,2248.8 654.1,2249.8 657.1,2249.7 660.1,2249.6 663.1,2250.1 666.2,2249.9 669.2,2249.2 672.2,2250.1 675.3,2249.6 678.3,2250.1 681.3,2250 684.3,2249.3 687.4,2249.2 690.4,2249.2 693.4,2250 696.5,2250 699.5,2249.4 702.8,2247.1 706.1,2245.1 709.5,2243.3 712.8,2243.1 716.1,2243.1 719.5,2243.1 722.8,2242.7 726.1,2242.6 729.5,2241.7 732.8,2241.5 736.1,2242.2 739.5,2241.8 742.8,2241.1 746.1,2240.5 749.4,2240.3 752.8,2239.9 756.1,2239.7 759.4,2226.3 762.8,2212.8 766.1,2199.3 769.4,2197.8 772.8,2196 776.1,2196.7 779.4,2197.6 782.8,2198 786.1,2199.4 789.4,2199.8 792.7,2204.7 796.1,2209.9 799.4,2216.1 802.7,2222.6 806.1,2229.3 809.4,2230.4 812.7,2231.2 816.1,2232 819.4,2232.8 822.7,2234.5 826.1,2234.9 829.4,2236.5 832.7,2237.6" fill="none" stroke="#0000ff" stroke-width="3.5" stroke-linejoin="round" stroke-linecap="round"/>
<polyline points="273.1,2233.1 276.2,2233.1 279.2,2233.4 282.3,2233.4 285.3,2233.4 288.4,2232.9 291.5,2233.5 294.5,2233 297.6,2232.8 300.6,2232.6 303.7,2233.1 306.7,2232.7 309.8,2232.8 314.4,2223.2 318.4,2236.6 322.1,2237.5 325.8,2237.6 329.4,2238.4 333.1,2239.5 336.1,2239.8 339.1,2240 342.2,2240 345.2,2240.1 348.2,2239.8 351.3,2239.8 354.3,2239.5 357.3,2239.5 360.3,2239.4 363.4,2239.7 366.4,2239.8 369.4,2239.8 372.5,2239.6 375.5,2239.6 378.5,2239.5 381.5,2240 384.6,2239.8 387.6,2240 390.6,2240 393.6,2239.5 396.7,2239.3 399.7,2239.5 402.8,2240.1 405.9,2240 408.9,2239.6 412,2240 415.1,2239.5 418.2,2240.1 421.2,2239.3 424.3,2239.9 427.4,2240.2 430.5,2239.6 433.5,2239.7 436.6,2239.3 439.7,2239.5 442.7,2239.4 445.8,2239.5 448.9,2239.3 452,2239.5 455,2239.3 458.1,2239.7 461.2,2239.6 464.3,2239.4 467.3,2240.1 470.4,2239.5 473.5,2239.7 476.6,2240.1 479.6,2240 483,2226.8 486.3,2213.2 489.6,2143.5 493,2072.7 496.3,2070.1 499.6,2066.3 503,2067.4 506.3,2069 509.6,2070.1 513,2079.7 516.3,2109.7 519.6,2139.6 522.9,2156.9 526.3,2173.2 529.6,2179.5 532.9,2186.4 536.3,2185.1 539.6,2184.5 542.9,2183.9 546.3,2183.6 549.6,2188.4 552.9,2193.1 556.3,2195 559.6,2196.2 562.9,2198.3 566.2,2200.2 569.3,2199.4 572.3,2200.2 575.3,2200.2 578.4,2199.6 581.4,2200 584.4,2200.2 587.4,2199.4 590.5,2199.7 593.5,2199.8 596.5,2200 599.6,2199.5 602.7,2199.6 605.9,2199.2 609,2199 612.2,2198.6 615.3,2198.3 618.5,2197.7 621.6,2197.3 624.8,2196.9 628,2196.5 631.1,2196.2 634.3,2195.9 637.4,2195.4 640.6,2194.8 643.7,2194.7 646.9,2194.9 650,2193.9 653.2,2194.3 656.4,2193.8 659.5,2193 662.8,2187.8 666.2,2183.5 669.5,2184.4 672.8,2184.6 676.2,2185.7 679.5,2186.7 682.8,2185.3 686.2,2183.5 689.5,2182.4 692.8,2181.6 696.2,2180.3 699.5,2179.1 702.8,2177.4 706.1,2176.8 709.5,2177.5 712.8,2178.1 716.1,2179.3 719.5,2179.6 722.8,2179.8 726.1,2179.8 729.5,2180.2 732.8,2180.2 736.1,2179.6 739.5,2180 742.8,2179.5 746.1,2180.1 749.4,2180.1 752.8,2179.9 756.1,2179.3 759.4,2159.6 762.8,2042.9 766.1,1926.6 769.4,1922.8 772.8,1919.5 776.1,1920.7 779.4,1922.5 782.8,1923.4 786.1,1925.3 789.4,1927 792.7,1928.3 796.1,1930.3 799.4,1957.6 802.7,1985.6 806.1,2012.9 809.4,2046.5 812.7,2052.8 816.1,2059.8 819.4,2073.6 822.7,2087 826.1,2093.4 829.4,2099.4 832.7,2107" fill="none" stroke="#00ff00" stroke-width="3.5" stroke-linejoin="round" stroke-linecap="round"/>
<polyline points="269.8,2792.9 273.1,2793.4 276.5,2794 279.8,2795.9 283.1,2796.1 286.5,2797.1 289.8,2797.6 293.1,2798.1 296.4,2799.3 299.8,2799.8 302.8,2800.5 305.8,2800.6 308.9,2801.2 311.9,2800.8 314.9,2800.7 317.9,2801 321,2802.2 324,2801.6 327,2802.7 330.1,2802.9 333.1,2802.3 336.1,2804.1 339.1,2803.5 342.2,2805.5 345.2,2806 348.2,2805.6 351.3,2807 354.3,2807.7 357.3,2807.3 360.3,2808.8 363.4,2808.5 366.4,2810.4 369.4,2810.3 372.5,2811.1 375.5,2809.9 378.5,2810.6 381.5,2811.4 384.6,2811.7 387.6,2811.3 390.6,2812.8 393.6,2813 396.7,2812.4 399.7,2812.5 402.7,2813.6 405.8,2813.5 408.8,2814.2 411.8,2814.2 414.8,2814.4 417.9,2814.1 420.9,2814.6 423.9,2815.4 427,2816.1 430,2816 433,2816.8 436,2816.7 439.1,2817.6 442.1,2817.5 445.1,2817.3 448.2,2817.3 451.2,2817.5 454.2,2817.8 457.2,2819.4 460.3,2819.7 463.3,2819.8 466.3,2819.1 469.3,2820.6 472.4,2820.3 475.4,2822.1 478.4,2822.4 481.5,2823.1 484.5,2823.5 487.5,2823.8 490.5,2825.1 493.6,2825.9 496.6,2825.3 499.6,2826.3 502.7,2826.7 505.7,2826.7 508.7,2826.2 511.7,2826.3 514.8,2827.1 517.8,2826 520.8,2825.9 523.9,2826.7 526.9,2826 529.9,2827 532.9,2826.1 536,2827 539,2826.2 542,2827 545.1,2826.8 548.1,2826.7 551.1,2825.9 554.1,2825.8 557.2,2825.6 560.2,2825.9 563.2,2826.6 566.2,2825.7 569.3,2825.6 572.3,2825.9 575.3,2824.9 578.4,2824.9 581.4,2824.4 584.4,2824.8 587.4,2823.6 590.5,2824.7 593.5,2823.8 596.5,2823.7 599.6,2823.1 602.9,2822.2 606.2,2822.1 609.5,2821.2 612.9,2820.2 616.2,2819.5 619.5,2821 622.9,2822.1 626.2,2822.1 629.5,2822.5 632.9,2823.3 635.9,2821.6 638.9,2821.6 641.9,2820.8 645,2818.7 648,2818.5 651,2817.7 654.1,2816.4 657.1,2816.1 660.1,2815.5 663.1,2814.6 666.2,2812.7 669.2,2812.4 672.2,2813.4 675.3,2812.9 678.3,2813.1 681.3,2813 684.3,2812 687.4,2812.3 690.4,2811.8 693.4,2812.4 696.5,2812.1 699.5,2811.3 702.5,2811.8 705.5,2812.1 708.6,2811.6 711.6,2811.7 714.6,2812.3 717.7,2811.8 720.7,2812.5 723.7,2813.4 726.7,2813.3 729.8,2812.2 732.8,2813.6 736.1,2812.7 739.5,2812 742.8,2810.3 746.1,2810.8 749.4,2809.2 752.8,2765.2 756.1,2719.5 759.4,2692.9 762.8,2666 766.1,2640.4 769.4,2633.8 772.8,2629.3 776.1,2623.2 779.4,2617.1 782.8,2612.3 786.1,2606.6 789.4,2599.1 792.7,2593.7 796.1,2586.2 799.4,2579.1 802.7,2589.2 806.1,2598 809.4,2606.3 812.7,2628.2 816.1,2651 819.4,2673.3 822.7,2703.4 826.1,2733.1" fill="none" stroke="#00ff00" stroke-width="3.9" stroke-linejoin="round" stroke-linecap="round"/>
<polyline points="269.8,2806.6 273.1,2806.7 276.5,2808.2 279.8,2809.3 283.1,2811.2 286.5,2812.2 289.8,2813.7 293.1,2813.5 296.4,2815.1 299.8,2815.6 302.8,2815 305.8,2814.6 308.9,2812.9 311.9,2812.3 314.9,2812.1 317.9,2811 321,2809.6 324,2809.2 327,2808.7 330.1,2806.5 333.1,2806.9 336.4,2807.8 339.7,2808.3 343.1,2809.2 346.4,2811.6 349.7,2811.7 353.1,2812.4 356.2,2812.6 359.3,2814 362.4,2813.9 365.5,2814.4 368.6,2814.5 371.7,2814.4 374.8,2815.4 377.9,2814.6 381.1,2815.1 384.2,2815.8 387.3,2815.7 390.4,2816.3 393.5,2816.1 396.6,2816.5 399.7,2815.6 402.7,2816 405.8,2816.2 408.8,2816 411.8,2816.3 414.8,2816.2 417.9,2816.6 420.9,2817.2 423.9,2816.9 427,2817 430,2816.8 433,2817 436,2818.2 439.1,2817.8 442.1,2817.8 445.1,2817.2 448.2,2818.2 451.2,2817.4 454.2,2817.8 457.2,2818.9 460.3,2818.4 463.3,2818.4 466.3,2818.7 469.7,2819.5 473,2820 476.3,2819.7 479.6,2820 483,2821 486.3,2821.5 489.6,2822 493,2823.7 496.3,2824.5 499.6,2824.4 503,2825.8 506.3,2826.2 509.6,2826.6 513,2825.5 516.3,2824.7 519.6,2824.3 522.9,2824.4 526.3,2823.5 529.6,2823.6 532.9,2823.7 536.3,2821.2 539.6,2819.3 542.9,2818.8 546.3,2816.4 549.6,2814.1 552.9,2812.3 556.3,2809.1 559.6,2806.6 562.9,2803.5 566.2,2799.6 569.6,2795.7 572.9,2792.9 576.2,2793.4 579.6,2792.3 582.9,2792.6 586.2,2792 589.6,2790.2 592.9,2790.9 596.2,2790.4 599.6,2789.8 602.9,2788.8 606.2,2788.8 609.5,2787.4 612.9,2787.4 616.2,2786.9 619.5,2787.1 622.9,2788.1 626.2,2788.2 629.5,2789.7 632.9,2790.3 636.2,2792.6 639.5,2793.6 642.9,2794 646.2,2795.8 649.5,2797 652.8,2797.5 656.2,2799.7 659.5,2800.6 662.8,2802.2 666.2,2803.1 669.2,2802.3 672.2,2802.8 675.3,2802.3 678.3,2803.7 681.3,2803.7 684.3,2803.6 687.4,2802.7 690.4,2802.3 693.4,2803.7 696.5,2803.8 699.5,2802.4 702.5,2803 705.5,2802.4 708.6,2803.5 711.6,2803.5 714.6,2802.5 717.7,2803 720.7,2803.1 723.7,2802.7 726.7,2803.6 729.8,2802.9 732.8,2802.6 736.1,2803.1 739.5,2803.4 742.8,2802.6 746.1,2802.7 749.4,2803.8 752.8,2761.7 756.1,2719.7 759.4,2702 762.8,2683.6 766.1,2666 769.4,2662.1 772.8,2658.3 776.1,2653.6 779.4,2649.4 782.8,2647.5 786.1,2646.7 789.4,2644.4 792.7,2643.8 796.1,2645.4 799.4,2645.8 802.7,2647.7 806.1,2650.1 809.4,2661.6 812.7,2673.7 816.1,2687.2 819.4,2699.9 822.7,2713.1 826.1,2726.9" fill="none" stroke="#000000" stroke-width="3.9" stroke-linejoin="round" stroke-linecap="round"/>
<polyline points="269.8,2792.3 273.1,2794.1 276.5,2794 279.8,2795.2 283.1,2796.3 286.5,2797.2 289.8,2797.4 293.1,2798.2 296.4,2798.2 299.8,2799.6 302.9,2799.3 306,2799.8 309.1,2799.1 312.2,2799.2 315.3,2798.5 318.4,2797.9 321.5,2798.7 324.6,2798.5 327.8,2797.5 330.9,2796.9 334,2797.3 337.1,2797 340.2,2797.3 343.3,2796.8 346.4,2796.4 349.7,2798.2 353.1,2799.5 356.4,2800.7 359.7,2802.3 363.1,2805.4 366.4,2806.9 369.7,2807.7 373.1,2810.3 376.4,2809.7 379.7,2809.1 383,2810.3 386.4,2809.8 389.7,2810.4 393,2810 396.4,2809.1 399.7,2809.9 402.7,2810.5 405.8,2811 408.8,2810.3 411.8,2811 414.8,2811.5 417.9,2811 420.9,2812.4 423.9,2812.6 427,2811.7 430,2812.9 433,2812.8 436,2812.5 439.1,2813.2 442.1,2813.8 445.1,2813.1 448.2,2812.4 451.2,2813 454.2,2813.5 457.2,2813.8 460.3,2813.4 463.3,2812.3 466.3,2813.8 469.3,2813.8 472.4,2813.6 475.4,2814.3 478.4,2814.8 481.5,2816.3 484.5,2816.1 487.5,2817.8 490.5,2817.3 493.6,2818.5 496.6,2819 499.6,2819 502.7,2818.9 505.7,2820.3 508.7,2820.5 511.7,2819.1 514.8,2820.1 517.8,2820.5 520.8,2820.4 523.9,2820.3 526.9,2819.4 529.9,2820.1 532.9,2819.7 536.3,2819.2 539.6,2817.5 542.9,2816.5 546.3,2815.3 549.6,2813.3 552.9,2812.5 556.3,2810.3 559.6,2809.2 562.9,2807.1 566.2,2802.9 569.6,2800 572.9,2796.5 576.2,2795.2 579.6,2794.9 582.9,2794.5 586.2,2792.8 589.6,2792 592.9,2790.9 596.2,2790 599.6,2790.2 602.6,2790.4 605.6,2791.1 608.6,2790.9 611.7,2791.7 614.7,2790.8 617.7,2791 620.8,2791.4 623.8,2792 626.8,2793.2 629.8,2792.3 632.9,2793 635.9,2793.1 638.9,2793.8 641.9,2795.3 645,2796.1 648,2796.7 651,2798.1 654.1,2798.7 657.1,2799.6 660.1,2799.7 663.1,2799.9 666.2,2800.5 669.2,2801.7 672.2,2800.9 675.3,2800.8 678.3,2802.1 681.3,2801.4 684.3,2802.3 687.4,2801.8 690.4,2802.4 693.4,2801.9 696.5,2802.7 699.5,2802.8 702.5,2802.7 705.5,2802.5 708.6,2803.2 711.6,2803.4 714.6,2802.6 717.7,2802.3 720.7,2802.7 723.7,2803.4 726.7,2802.7 729.8,2803.3 732.8,2802.4 736.1,2803.4 739.5,2802.5 742.8,2802.6 746.1,2803.4 749.4,2803 752.8,2761.6 756.1,2719.4 759.4,2700.1 762.8,2679.5 766.1,2659.8 769.4,2651.4 772.8,2643.8 776.1,2635.2 779.4,2626.6 782.8,2626.4 786.1,2625.4 789.4,2624.9 792.7,2623.9 796.1,2623.3 799.4,2628.3 802.7,2635 806.1,2640.1 809.4,2655.3 812.7,2670 816.1,2684 819.4,2699.2 822.7,2722.1 826.1,2743.4" fill="none" stroke="#00ffff" stroke-width="3.9" stroke-linejoin="round" stroke-linecap="round"/>
<polyline points="269.8,2786.2 273.1,2788.7 276.5,2791.4 279.8,2792.5 283.1,2794.3 286.5,2795.6 289.8,2797.4 293.1,2798.9 296.4,2798.6 299.8,2798.6 303.1,2798.8 306.4,2797.8 309.8,2796.7 313.1,2796.2 316.4,2796.1 319.8,2794.9 323.1,2794 326.4,2794.6 329.8,2793.7 333.1,2792.3 336.4,2791.6 339.7,2791.1 343.1,2794.5 346.4,2795.1 349.7,2797.9 353.1,2800.5 356.2,2799.6 359.3,2800.9 362.4,2801.7 365.5,2803.1 368.6,2802.6 371.7,2803.3 374.8,2804 377.9,2804.3 381.1,2806 384.2,2806.9 387.3,2806.9 390.4,2807 393.5,2808.7 396.6,2809.4 399.7,2810 402.7,2809.7 405.8,2810.8 408.8,2810.8 411.8,2811.1 414.8,2811.3 417.9,2811.1 420.9,2811.8 423.9,2812.6 427,2812.7 430,2812.5 433,2813.6 436,2814.2 439.1,2813.5 442.1,2814.3 445.1,2815 448.2,2815.3 451.2,2817.1 454.2,2817.5 457.2,2818 460.3,2819.3 463.3,2818.9 466.3,2819.2 469.7,2819.5 473,2820.3 476.3,2821.5 479.6,2821.5 483,2821.1 486.3,2822.1 489.6,2821.9 493,2823.2 496.3,2820.8 499.6,2819.2 503,2818.3 506.3,2816.9 509.6,2818.2 513,2819.4 516.3,2821.6 519.6,2822.7 522.9,2823.9 526.3,2826 529.6,2825 532.9,2823.2 536.3,2820.9 539.6,2820.2 542.9,2819.7 546.3,2818.2 549.6,2818.8 552.9,2817.1 556.3,2816.2 559.6,2816.4 562.9,2816.5 566.2,2815.7 569.6,2815.2 572.9,2814.7 576.2,2813.9 579.6,2813.6 582.9,2813.3 586.2,2813.1 589.6,2812.9 592.9,2810.7 596.2,2810.1 599.6,2810.4 602.9,2811.6 606.2,2812.4 609.5,2814.6 612.9,2816.6 616.2,2816.5 619.5,2814.6 622.9,2815.4 626.2,2814.6 629.5,2813.2 632.9,2813.1 636.2,2813.6 639.5,2812.6 642.9,2813.4 646.2,2813.1 649.5,2812.4 652.8,2812.7 656.2,2810.9 659.5,2808.5 662.8,2807.8 666.2,2804.6 669.2,2804.4 672.2,2804.8 675.3,2804.5 678.3,2804 681.3,2803.9 684.3,2804 687.4,2804.4 690.4,2802.9 693.4,2804.1 696.5,2803.9 699.5,2803.3 702.5,2803.5 705.5,2802.9 708.6,2803.8 711.6,2803.4 714.6,2803.3 717.7,2803 720.7,2802.6 723.7,2803.4 726.7,2803.4 729.8,2802.3 732.8,2802.7 736.1,2802.4 739.5,2801.3 742.8,2800.5 746.1,2799.9 749.4,2798.9 752.8,2759.1 756.1,2719.6 759.4,2690.9 762.8,2662.3 766.1,2632.9 769.4,2624.3 772.8,2617.2 776.1,2608.4 779.4,2600.2 782.8,2594.3 786.1,2587.9 789.4,2582.5 792.7,2576.3 796.1,2575.1 799.4,2573.7 802.7,2582.4 806.1,2593.7 809.4,2612.6 812.7,2632.4 816.1,2652.5 819.4,2678.8 822.7,2704.8 826.1,2730.5" fill="none" stroke="#0000ff" stroke-width="3.9" stroke-linejoin="round" stroke-linecap="round"/>
<polyline points="269.8,2809.3 273.1,2810.4 276.5,2810.5 279.8,2811.7 283.1,2812 286.5,2812.6 289.8,2813.8 293.1,2814.3 296.4,2815.3 299.8,2816.8 302.8,2815 305.8,2815.4 308.9,2814 311.9,2814.4 314.9,2813.7 317.9,2812.3 321,2812.7 324,2811.9 327,2810.2 330.1,2810.2 333.1,2810 336.4,2812.1 339.7,2812.5 343.1,2814.3 346.4,2816.8 349.7,2818.8 353.1,2819.1 356.2,2819 359.3,2820.1 362.4,2819.4 365.5,2819.5 368.6,2820.3 371.7,2820.1 374.8,2820 377.9,2820.3 381.1,2820.1 384.2,2820.2 387.3,2819.9 390.4,2819.9 393.5,2819 396.6,2820.4 399.7,2820.4 402.7,2819.5 405.8,2819.9 408.8,2818.9 411.8,2819.7 414.8,2819.9 417.9,2819.4 420.9,2819.6 423.9,2820.2 427,2819.1 430,2819.6 433,2819 436,2819.5 439.1,2820.3 442.1,2819.9 445.1,2819 448.2,2820.3 451.2,2820 454.2,2819.7 457.2,2819.4 460.3,2819.4 463.3,2819.2 466.3,2819.9 469.7,2820.2 473,2822.9 476.3,2822.8 479.6,2824.9 483,2826.1 486.3,2827 489.6,2828.1 493,2829.6 496.3,2828.9 499.6,2829.3 503,2828.3 506.3,2827.5 509.6,2827.2 513,2826.4 516.3,2825.8 519.6,2825.6 522.9,2827.1 526.3,2826.9 529.6,2825.7 532.9,2826.5 536.3,2825.7 539.6,2824.8 542.9,2822.3 546.3,2821.3 549.6,2820.6 552.9,2819.9 556.3,2815.7 559.6,2813.4 562.9,2810.1 566.2,2806.3 569.6,2803.6 572.9,2799.5 576.2,2799.8 579.6,2798.7 582.9,2798.3 586.2,2797.9 589.6,2798 592.9,2797.8 596.2,2796.1 599.6,2796.5 602.9,2797.8 606.2,2798.4 609.5,2798.5 612.9,2799.5 616.2,2798.7 619.5,2795.9 622.9,2795.4 626.2,2792.9 629.5,2794.8 632.9,2796.7 636.2,2798.3 639.5,2799.9 642.9,2800.3 646.2,2799.9 649.5,2800.4 652.8,2800 656.2,2799.9 659.5,2799 662.8,2800.4 666.2,2799.3 669.2,2799.6 672.2,2799.6 675.3,2800.8 678.3,2800.7 681.3,2801.5 684.3,2802 687.4,2802.5 690.4,2802.6 693.4,2803 696.5,2802.6 699.5,2802.3 702.5,2803.5 705.5,2803.8 708.6,2803 711.6,2803.7 714.6,2803.2 717.7,2802.9 720.7,2803.6 723.7,2802.3 726.7,2802.8 729.8,2803.4 732.8,2802.4 736.1,2803.1 739.5,2802.9 742.8,2802.6 746.1,2802.9 749.4,2803.4 752.8,2761.7 756.1,2719.9 759.4,2700.2 762.8,2679.7 766.1,2660 769.4,2652.5 772.8,2646.8 776.1,2640.1 779.4,2633.4 782.8,2632 786.1,2630.6 789.4,2628.5 792.7,2627.3 796.1,2620.1 799.4,2612.8 802.7,2623.8 806.1,2633.4 809.4,2651.1 812.7,2668.1 816.1,2686.6 819.4,2701.8 822.7,2717.7 826.1,2733.8" fill="none" stroke="#ff00ff" stroke-width="3.9" stroke-linejoin="round" stroke-linecap="round"/>
<polyline points="269.8,2790.3 273.1,2790.9 276.5,2792.5 279.8,2794.3 283.1,2794.6 286.5,2796.4 289.8,2796 293.1,2796 296.4,2794 299.8,2793.5 303.1,2793.3 306.4,2793.6 309.8,2793.2 313.1,2791.6 316.4,2792.5 319.8,2791.4 323.1,2791.7 326.4,2791.3 329.8,2789.5 333.1,2790.5 336.4,2789.7 339.7,2789.2 343.1,2789.7 346.4,2789 349.7,2790.1 353.1,2793.1 356.4,2795.8 359.7,2799.3 362.8,2799.7 365.9,2800.2 369,2799.4 372,2799.1 375.1,2799.5 378.2,2799 381.3,2799.5 384.3,2800.3 387.4,2799.2 390.5,2799.4 393.6,2800.2 396.6,2799.2 399.7,2799.1 402.7,2799.2 405.8,2799.7 408.8,2799.7 411.8,2799.5 414.8,2798.4 417.9,2798.6 420.9,2798.3 423.9,2798.8 427,2798.4 430,2798.9 433,2798.5 436.3,2798.3 439.7,2797.4 443,2797.7 446.3,2796.7 449.7,2796.5 453,2797.5 456.3,2796.1 459.7,2795.6 463,2798.4 466.3,2799.2 469.7,2800.1 473,2801.2 476.3,2802.4 479.6,2801.6 483,2803.3 486.3,2803 489.6,2804.8 493,2804.8 496.3,2804.4 499.6,2804.9 503,2805.3 506.3,2804.5 509.6,2804.9 513,2805.5 516.3,2805.6 519.6,2805.4 522.9,2805.2 526.3,2805.8 529.6,2805.1 532.9,2805.6 536.3,2805.7 539.6,2805.6 542.9,2805.6 546.3,2800.1 549.6,2796 552.9,2789.5 556.3,2781.9 559.6,2775 562.9,2767.6 566.2,2760.4 569.6,2751.2 572.9,2740.7 576.2,2731.9 579.6,2722.9 582.9,2726.1 586.2,2729.9 589.6,2734.4 592.9,2740.4 596.2,2740 599.6,2741.5 602.9,2742.1 606.2,2742.2 609.5,2742.2 612.9,2742.4 616.2,2745 619.5,2746 622.9,2746.4 626.2,2746.8 629.5,2749.1 632.9,2749.4 635.9,2750.9 638.9,2752.9 641.9,2754.1 645,2755.2 648,2755.1 651,2757.3 654.1,2758.4 657.1,2759.8 660.1,2759.9 663.1,2762.5 666.2,2762.5 669.5,2764.4 672.8,2767.5 676.2,2769.7 679.5,2771.8 682.8,2772.8 686.2,2775.1 689.5,2777.7 692.8,2779.9 696.2,2781.4 699.5,2781.6 702.8,2784 706.1,2784.6 709.2,2784.9 712.2,2784.8 715.2,2785.4 718.3,2785.2 721.3,2785.9 724.3,2785.4 727.3,2785.3 730.4,2785.8 733.4,2785.8 736.4,2785.9 739.5,2787.2 743.4,2784.9 747.4,2783.6 752.8,2686.7 756.1,2651.7 759.4,2615.4 762.8,2579.8 766.1,2568.4 769.4,2557.3 772.8,2547.2 776.1,2535.4 779.4,2524.6 782.8,2514 786.1,2514.4 789.4,2515 792.7,2516.9 796.1,2512.1 799.4,2507.3 802.7,2526.5 806.1,2546 809.4,2563.5 812.7,2580.3 816.7,2609.1 820.7,2640.3 826.1,2683.7" fill="none" stroke="#ff0000" stroke-width="3.9" stroke-linejoin="round" stroke-linecap="round"/>
<polyline points="1291.4,514.5 1294,514.2 1296.6,514.3 1299.3,514.8 1302.1,516.5 1304.9,519.2 1307.6,519 1310.4,519.1 1313.2,519.5 1315.9,519.7 1318.7,519.6 1321.5,521.1 1324.6,522.8 1327.7,523.3 1330.8,524.2 1333.9,524.5 1336.8,524.8 1339.7,524.1 1342.6,525.5 1345.5,524.4 1348.4,524.4 1351,524.5 1353.6,521.4 1356.2,521.4 1358.8,519 1362.9,509 1367,496.2 1371.2,488.9 1374.3,493.3 1377.4,495.3 1380.5,499.8 1383.6,503.3 1386.4,503.8 1389.2,505.3 1391.9,505.1 1395,506 1398.1,507.1 1402.3,499.2 1406.4,489.5 1409.5,491.9 1412.6,495.5 1416.8,501.1 1419.6,504.2 1422.3,507.9 1425.1,510.7 1427.8,510 1430.6,511.8 1433.4,512.3 1436.1,508.8 1438.9,504.7 1441.7,501.9 1445.8,488.7 1448.9,482.9 1452,475.5 1455.1,455.8 1458.2,435.6 1462.4,424.5 1466.5,435.5 1470.7,476.5 1474.8,445.9 1479,416.1 1481.6,395.6 1484.1,378.4 1487.3,416.1 1489.3,447 1493.5,477.2 1496.6,482.3 1499.7,488.5 1503.8,448.7 1508,457.3 1510.1,486.8 1513.2,488.9 1516.3,490.3 1519,487.7 1521.8,486.2 1524.6,486.4 1528.7,469.1 1532.8,472.9 1537,497.9 1541.1,505.7 1543.9,507.7 1546.7,509.5 1549.4,512.3 1552.1,512.7 1554.7,515.5 1557.4,516.7 1560,516.9 1559.8,515.3 1575.9,520.5 1614.8,530.8 1653.6,533.4 1674.4,528.2 1682.1,499.7 1689.9,435 1695.1,357.3 1700.3,305.4 1708,258.8 1715.8,235.5 1723.6,248.4 1731.3,266.6 1741.7,284.7 1757.3,289.9 1770.2,295.1 1780.6,302.8 1793.5,297.7 1803.9,326.2 1814.2,349.5 1827.2,370.2 1842.7,367.6" fill="none" stroke="#ff0000" stroke-width="4.8" stroke-linejoin="round" stroke-linecap="round"/>
<polyline points="1291.4,499 1294.5,476.5 1297.6,483.6 1300.7,487 1304.9,495.8 1307.6,497.6 1310.4,496.9 1313.2,498 1316.3,476.4 1319.4,391.3 1323.5,387.2 1326.6,414.3 1330.8,434.9 1334.9,398.4 1339.1,402.7 1342.2,477.9 1344.2,497.6 1347.4,496.1 1350.5,493 1354.1,497.3 1357.7,501.1 1359.8,498.1 1363.4,498.1 1367,498.3 1370.2,498 1373.3,495.4 1376.4,494.5 1379.5,493.7 1382.2,495.3 1385,494.1 1387.8,494.4 1390.5,495 1393.3,496 1396.1,495.4 1398.8,494.8 1401.6,495.8 1404.4,495.1 1407.1,494.7 1409.9,493 1412.6,493.2 1415.8,495.5 1418.9,498.7 1422,502.6 1425.1,505.4 1427.8,504.3 1430.6,502.5 1433.4,502.3 1436.1,501.7 1438.9,499 1441.7,497.7 1445.8,488.1 1449.9,481 1453.1,483.4 1456.2,485.2 1459.3,492.5 1462.4,498 1466.5,509.4 1470.7,501 1473.8,496.2 1476.9,488.8 1480,492.2 1483.1,493.2 1487.3,508.4 1489.8,509.5 1492.4,511.8 1495,512.1 1497.6,514.3 1500.2,514.9 1502.8,514 1505.4,515.7 1508,515.7 1510.6,516.7 1513.2,517.7 1515.8,518.7 1518.3,518.9 1520.9,521.1 1523.5,521.6 1526.1,522.3 1528.7,525.9 1531.3,526.4 1533.9,525.4 1536.5,526.2 1539.1,526.4 1541.7,527.5 1544.2,526.2 1546.8,527.7 1549.4,525.9 1552.1,526.2 1554.7,526.6 1557.4,525.4 1560,524.1 1559.8,531.3 1588.9,533.4 1614.8,538.6 1653.6,538.6 1661.4,523.1 1669.2,512.7 1679.5,486.8 1687.3,409.1 1695.1,352.1 1705.4,323.6 1718.4,321 1736.5,322.3 1746.9,328.8 1759.8,331.3 1772.8,346.9 1780.6,383.2 1788.3,411.7 1798.7,435 1814.2,445.3 1829.8,453.1 1842.7,455.7" fill="none" stroke="#00ffff" stroke-width="4.8" stroke-linejoin="round" stroke-linecap="round"/>
<polyline points="1291.4,477.1 1294.5,447.7 1298.7,451.3 1300.7,477.2 1304.9,480.4 1307.6,482.7 1310.4,481.8 1313.2,482.8 1316.3,476.2 1318.9,477.6 1321.5,478.1 1324.2,470.6 1327,462.8 1329.7,457.4 1333.9,399.4 1337,393.9 1340.1,398 1341.1,446.6 1344.2,488.8 1348.4,490.7 1352.5,463.7 1356.7,463.3 1358.8,476.6 1361.5,480.3 1364.3,482.6 1367,485.9 1369.8,485.5 1372.6,484.8 1375.3,486.5 1378.1,484.4 1380.9,485.2 1383.6,485.1 1386.2,486.1 1388.8,483.6 1391.4,484.2 1394,484.5 1396.6,483.2 1399.2,483.5 1401.8,481.7 1404.4,481.2 1406.9,480.6 1409.5,480 1412.1,479.5 1414.7,478.3 1417.3,480 1419.9,478.9 1422.5,478.2 1425.1,477.3 1428,474.9 1430.9,473.3 1433.8,473.4 1436.7,471.4 1439.6,468.9 1443.7,465.4 1447.9,451.4 1451,432.6 1455.1,431.3 1458.2,456.3 1461,460.3 1463.8,464.9 1466.5,468.5 1469.3,469.4 1472.1,472.6 1474.8,472.9 1477.9,469.7 1481,463.9 1485.2,468.5 1488.3,474.1 1491.4,478.2 1494.5,481.2 1497.6,482.7 1501.8,479.1 1504.9,483 1508,488.3 1510.6,488.2 1513.2,488.1 1515.8,489.4 1518.3,489.6 1520.9,488.5 1523.5,489.3 1526.1,488.3 1528.7,486.4 1531.5,484.3 1534.2,480.5 1537,476.3 1541.1,499.1 1543.9,500.3 1546.7,503.3 1549.4,504.1 1552.1,504 1554.7,503.4 1557.4,504.6 1560,504.2 1559.8,504.4 1573.3,502.3 1588.9,504.9 1604.4,507.5 1609.6,497.2 1614.8,510.1 1640.7,520.5 1656.2,512.7 1661.4,497.2 1669.2,481.6 1676.9,435 1684.7,383.2 1692.5,336.5 1700.3,292.5 1705.4,248.4 1715.8,235.5 1726.2,243.3 1736.5,266.6 1746.9,289.9 1765,300.3 1775.4,305.4 1783.2,326.2 1790.9,365 1806.5,383.2 1824.6,396.1 1842.7,397.4" fill="none" stroke="#0000ff" stroke-width="4.8" stroke-linejoin="round" stroke-linecap="round"/>
<polygon points="1317.3,504.2 1319.4,444.1 1321.5,415.1 1324.6,386.1 1329.7,384 1331.8,431.7 1334.3,435.8 1337,477.3 1340.1,498 1342.2,514.6 1340.1,527 1333.9,529.1 1327.7,514.6 1321.5,512.5" fill="#000000"/>
<polygon points="1358.8,512.5 1360.4,357 1361.9,311.5 1363.9,287.6 1369.1,286.6 1372.2,294.9 1377.4,291.8 1379.1,311.5 1380.7,346.7 1384.7,347.7 1385.7,377.8 1393,377.8 1398.1,373.6 1400.2,352.9 1404.4,350.8 1406.8,367.4 1409.5,365.3 1414.7,367.4 1417.8,377.8 1420.9,378.8 1423,454.5 1425.1,452.4 1427.6,408.9 1432.3,408.9 1434.4,454.5 1437.1,424.4 1443.7,422.3 1445.8,435.8 1448.9,442 1448.9,477.3 1443.7,487.6 1439.6,495.9 1434.4,498 1429.2,493.8 1425.1,495.9 1420.9,481.4 1414.7,475.2 1408.5,473.1 1404.4,477.3 1398.1,489.7 1391.9,489.7 1383.6,485.5 1377.4,487.6 1373.3,493.8 1369.1,498 1365,512.5 1360.8,514.6" fill="#000000"/>
<polyline points="1291.4,510.4 1321.5,512.5 1342.2,512.5 1358.8,510.4 1367,477.3 1371.2,471.9 1373.3,457.2 1375.3,467.1 1377.4,469 1379.5,501.7 1381.6,478.3 1383.6,498.8 1385.7,479.1 1387.8,501.4 1389.8,480.7 1391.9,504.4 1394,488.1 1396.1,503.9 1398.1,476.3 1400.2,487 1402.3,462.4 1404.4,477.3 1406.4,456.5 1408.5,477.4 1410.6,470.5 1412.6,484.3 1414.7,471.1 1416.8,489.3 1418.9,471.7 1420.9,493 1423,483.6 1425.1,500.4 1427.2,485.7 1429.2,506.5 1431.3,486.8 1433.4,507.3 1435.4,481.6 1437.5,499.6 1439.6,475.4 1441.7,482.6 1443.7,461.8 1445.8,476.7 1447.9,447.3 1449.9,467.8 1452,447.2 1454.1,460.9 1456.2,440.8 1458.2,461 1460.3,438.2 1462.4,458.9 1464.5,448 1467.6,469.4 1470.7,446.7 1472.7,468.1 1474.8,449.6 1476.9,462.7 1479,440.6 1481,459.7 1483.1,440.4 1485.2,458.7 1487.3,446.2 1489.3,472.9 1491.4,455.5 1493.5,479.3 1495.5,463 1497.6,483.8 1499.7,470.8 1501.8,483.3 1503.8,462 1505.9,484.7 1508,462.9 1510.1,489 1512.1,469.9 1514.2,486.2 1516.3,464.8 1518.3,478.5 1520.4,467.6 1522.5,483.5 1524.6,465.1 1526.6,487.3 1528.7,466.2 1530.8,486.5 1532.8,465.6 1537,487.6 1541.1,502.1 1549.4,502.1 1560,500.1 1559.8,503.6 1575.9,507.5 1601.8,510.1 1627.7,511.4 1661.4,512.7 1674.4,507.5 1682.1,486.8 1689.9,460.9 1695.1,422 1702.8,403.9 1718.4,396.1 1731.3,393.5 1741.7,396.1 1752.1,403.9 1770.2,411.7 1785.8,414.2 1793.5,435 1801.3,453.1 1816.8,463.5 1842.7,466.1" fill="none" stroke="#ff00ff" stroke-width="4.8" stroke-linejoin="round" stroke-linecap="round"/>
<polyline points="1291.4,516.6 1292.8,477.3 1295.5,502.1 1300.7,516.6 1311.1,519.7 1321.5,518.7 1333.9,529.1 1342.2,529.1 1350.5,522.8 1358.8,514.6 1360.4,357 1361.9,311.5 1363.9,287.6 1369.1,286.6 1372.2,294.9 1377.4,291.8 1379.1,311.5 1380.7,346.7 1384.7,347.7 1385.7,377.8 1393,377.8 1398.1,373.6 1400.2,352.9 1404.4,350.8 1406.8,367.4 1409.5,365.3 1414.7,367.4 1417.8,377.8 1420.9,378.8 1423,454.5 1425.1,452.4 1427.6,408.9 1432.3,408.9 1434.4,454.5 1437.1,424.4 1443.7,422.3 1445.8,435.8 1448.9,442 1451,357 1452,342.5 1458.2,340.5 1463.4,317.7 1467.6,359.1 1470.7,413 1473.8,352.9 1479,348.8 1484.1,324.9 1487.3,361.2 1491.4,369.5 1495.5,367.4 1503.8,369.5 1508,377.8 1512.1,439.9 1516.3,381.9 1520.4,381.9 1524.6,435.8 1528.7,404.7 1532.8,398.5 1537,415.1 1539.1,466.9 1543.2,498 1549.4,502.1 1560,510.4 1559.8,510.1 1575.9,517.9 1614.8,538.6 1640.7,543.8 1658.8,543.8 1669.2,533.4 1676.9,460.9 1682.1,344.3 1689.9,328.8 1697.7,323.6 1705.4,313.2 1713.2,305.4 1718.4,266.6 1722.3,235.5 1731.3,238.1 1739.1,248.4 1754.7,256.2 1770.2,261.4 1788.3,269.2 1796.1,289.9 1809.1,313.2 1819.4,331.3 1827.2,352.1 1835,354.7 1842.7,365" fill="none" stroke="#000000" stroke-width="5.5" stroke-linejoin="round" stroke-linecap="round"/>
<polyline points="1291.1,1026 1292.9,1071.7 1294.7,1036.2 1296.5,1059.7 1298.4,1041.5 1299.7,1062 1301,1038.7 1302.1,1070.1 1303.7,1033.2 1306.1,1073.2 1308.3,1044.6 1310.1,1069 1311.9,1041.9 1313.6,1070.2 1315.3,1046.8 1316.6,1075.4 1318.6,1039.4 1321.1,1068 1323.1,1042.5 1325.3,1073.9 1327.1,1047.8 1328.3,1067.4 1330.3,1047 1332.3,1076.4 1334.8,1056 1337.2,1076 1339,1051.6 1340.5,1071.7 1343,1059.3 1345.5,1072.5 1347.9,1060.8 1349.5,1075.2 1350.7,1064 1352,1074.5 1353.2,1066.2 1355.1,1079.5 1357.4,1064.7 1358.9,1078.7 1361.2,1071.2 1363,1081.6 1365.2,1070 1366.7,1082.3 1368.5,1072.4 1369.6,1081.1 1371.6,1076.6 1373.8,1081" fill="none" stroke="#00ff00" stroke-width="2.6" stroke-linejoin="round" stroke-linecap="round"/>
<polyline points="1291.1,1009.9 1294.8,1016.3 1298.5,1022.5 1302.2,1029.9 1306.6,1023.8 1311.1,1018.8 1314.4,1027.9 1317.7,1035 1321.1,1044.2 1324.4,1053.1 1328.9,1045.6 1333.3,1035.3 1336.6,1041.6 1340,1048.8 1343.3,1054 1346.6,1062.2 1349.8,1061.6 1353,1064.4 1356.1,1063.8 1359.3,1066 1362.5,1065 1365.7,1065.2 1368.8,1068 1372.1,1068.1 1375.3,1065.9 1378.5,1069.2 1381.7,1069.3 1385,1069.9 1388.2,1069.2 1391.4,1070.1 1394.7,1070.4 1397.9,1069.7 1401.1,1069.2 1404.4,1071.6 1407.7,1063.5 1411,1052.1 1414.3,1051.6 1417.7,1048.8 1422.1,1050.7 1426.6,1053.8 1431,1058 1435.4,1063 1438.8,1064.1 1442.1,1066.4 1445.4,1069.1 1448.8,1070.2 1453.2,1065.6 1457.6,1056.3 1462.1,1055.4 1466.5,1049.9 1471,1051.1 1475.4,1054.7 1478.7,1055.9 1482.1,1057 1485.4,1060.5 1488.7,1061.5 1491.9,1064 1495.1,1064.1 1498.3,1065.5 1501.4,1066 1504.6,1068.7 1507.8,1068.8 1510.9,1071.1 1514.2,1070.9 1517.4,1072.1 1520.6,1070.8 1523.9,1072.5 1527.1,1070.8 1530.3,1073.4 1533.5,1071.3 1536.8,1072.6 1540,1071.7 1543.2,1074 1546.5,1072.6 1549.6,1072.3 1552.8,1074.1 1556,1074.6 1559.2,1074.2 1562.3,1074.4 1565.5,1074.7 1568.7,1075.6 1571.8,1073.9 1575,1073.4 1578.2,1076.2 1581.4,1075.5 1584.5,1075.7 1587.7,1076.4 1590.9,1074.5 1594.1,1076.2 1597.2,1076 1600.4,1077.8 1603.6,1077.2 1606.7,1077.2 1609.9,1078.5 1613.1,1078.4 1616.3,1078 1619.4,1079 1622.6,1077.9 1625.8,1079.1 1628.9,1079 1632.1,1079.8 1635.3,1080.9 1638.5,1081.6 1641.8,1081.6 1645,1081.6 1648.2,1082.7 1651.4,1082.6 1654.7,1082 1657.9,1083 1661.1,1082 1664.4,1082.5 1667.6,1084.2 1670.8,1083.3 1675.3,1078.7 1679.7,1074.7 1684.1,1111.8 1688.6,1081.3 1693,1047.8 1697.5,1076.3 1701.9,1105.6 1706.4,1106.9 1710.8,1105.3 1714.1,1100.1 1717.5,1096.5 1720.8,1090.7 1724.1,1082.9 1727.4,1085.7 1730.8,1083.9 1734.1,1085.1 1737.4,1086.3 1740.8,1087.5 1744.1,1087.9 1747.4,1062.6 1750.8,1039.4 1755.2,1042.8 1759.6,1043.7 1763,1041.7 1766.3,1039 1769.6,1036.7 1773,1036.5 1777.4,1038.7 1781.9,1040 1785.2,1043.2 1788.5,1044.2 1791.8,1047.3 1795.2,1048.6 1798.7,1051.9 1802.3,1052.9 1805.8,1054.9 1809.4,1056.2 1812.9,1057.5 1816.1,1058.2 1819.3,1062.1 1822.5,1063.3 1825.6,1065 1828.8,1068.5 1832,1068.2 1835.1,1072.3 1838.7,1073.8 1842.3,1075.1 1845.8,1078.9 1849.4,1081.1 1852.9,1082.6 1856.5,1082.1 1860,1083.5 1863.6,1082.1 1867.1,1083.7 1870.7,1084.8" fill="none" stroke="#ff0000" stroke-width="3.6" stroke-linejoin="round" stroke-linecap="round"/>
<polyline points="1291.1,986.5 1295.5,1008.6 1298.9,1005.2 1302.2,1005.2 1306.6,987.1 1310,998.2 1313.3,1008.7 1317,1004.9 1320.7,1001.1 1324.4,996.1 1328.9,1003.9 1333.3,1014.5 1336.6,1011.6 1340,1009.8 1343.3,1009.2 1346.6,1008.8 1351.1,1018.8 1355.5,1026.1 1358.8,1030.4 1362.2,1032.6 1365.5,1035.2 1368.8,1041.3 1372.2,1042.3 1375.5,1044.2 1378.8,1047.1 1382.1,1047.7 1385.2,1050.8 1388.3,1049.9 1391.3,1052.7 1394.4,1051.1 1397.4,1052.8 1400.5,1053.2 1403.5,1055 1406.6,1054.1 1411,1020.8 1414.3,1020.5 1417.7,1018.6 1421,1025.3 1424.3,1027.7 1428.8,1033.8 1433.2,1040 1436.3,1042.3 1439.4,1048.4 1442.5,1049.9 1445.7,1054.3 1448.8,1056.8 1453.2,1043.6 1457.6,1031.4 1462.1,1027.2 1466.5,1028.6 1471,1030.2 1474.5,1031.4 1478.1,1031.3 1481.6,1031.4 1485.2,1033.1 1488.7,1036.6 1491.9,1038.2 1495.1,1038.2 1498.3,1037.8 1501.4,1039.9 1504.6,1042.5 1507.8,1042.1 1510.9,1043.6 1514.5,1043.7 1518,1044.1 1521.6,1043.8 1525.2,1042.3 1528.7,1041.7 1532.3,1043.1 1535.8,1043.8 1539.4,1046.2 1542.9,1044.5 1546.5,1046.2 1549.8,1046.6 1553.1,1047.7 1556.5,1049.3 1559.8,1049.7 1563.1,1049.7 1566.5,1049.5 1569.8,1050.8 1573.1,1052 1576.4,1051.8 1579.8,1053.3 1583.1,1051.3 1586.4,1053.2 1589.8,1057.8 1593.1,1060.1 1596.4,1064.1 1599.8,1066.1 1603.3,1069.4 1606.9,1068.3 1610.4,1070.6 1614,1072.7 1617.5,1074.7 1621.1,1074.3 1624.6,1076.8 1628.2,1077.7 1631.7,1079.3 1635.3,1080.9 1638.6,1080.8 1642,1081.7 1645.3,1084 1648.6,1083.9 1651.9,1084.4 1655.3,1085.7 1658.6,1087.6 1661.9,1088.8 1665.3,1088.9 1668.6,1092.3 1671.9,1091 1675.3,1094.1 1679.7,1052.8 1684.1,1076.5 1688.6,1083.2 1693,1087.9 1697.5,1091.7 1701.9,1097.7 1705.1,1099.1 1708.3,1099.2 1711.4,1099.1 1714.6,1098.3 1717.8,1100.7 1720.9,1099.2 1724.1,1100.4 1727.4,1100.3 1730.8,1099.4 1734.1,1100.6 1737.4,1100.4 1740.8,1100.9 1744.1,1099.5 1747.4,1082.6 1750.8,1065.5 1755.2,1061.8 1759.6,1076.3 1764.1,1071.8 1768.5,1065.6 1773,1059.9 1776.3,1060.1 1779.6,1063.9 1783,1064.9 1786.3,1067.7 1790.7,1074 1795.2,1079.4 1798.7,1081.3 1802.3,1081.2 1805.8,1084.6 1809.4,1084.3 1812.9,1085.6 1816.5,1086.8 1820,1089.8 1823.6,1089.6 1827.2,1091.5 1830.7,1093.3 1833.9,1093.2 1837,1095.1 1840.2,1096.6 1843.4,1094.9 1846.6,1097.1 1849.7,1096.7 1852.9,1098.9 1856.5,1099.1 1860,1098.4 1863.6,1099.9 1867.1,1098.8 1870.7,1098.5" fill="none" stroke="#0000ff" stroke-width="3.6" stroke-linejoin="round" stroke-linecap="round"/>
<polyline points="1373.3,1079.6 1377.7,1083 1382.1,1083.7 1385.2,1084.2 1388.3,1084.7 1391.3,1084.6 1394.4,1085 1397.4,1086.4 1400.5,1086 1403.5,1085.4 1406.6,1087.2 1409.9,1071.6 1413.2,1058.3 1417.7,1061.2 1422.1,1066.9 1426.6,1073.4 1431,1080.1 1434.6,1082.2 1438.1,1083 1441.7,1083.5 1445.2,1085.1 1448.8,1085.7 1453.2,1083.5 1457.6,1079.7 1462.1,1072.4 1466.5,1066.8 1471,1070.4 1475.4,1072.4 1478.7,1074.8 1482.1,1075.8 1485.4,1075.8 1488.7,1078.1 1492.1,1077.1 1495.4,1077.3 1498.7,1079.1 1502.1,1079.6 1505.4,1079 1508.7,1080.3 1512.1,1079.8 1515.4,1080.6 1518.5,1079.8 1521.6,1079.8 1524.7,1080.7 1527.8,1080 1530.9,1079.8 1534,1080.6 1537.1,1080.4 1540.3,1080.4 1543.4,1079.6 1546.5,1080.8 1549.6,1080.5 1552.8,1080.2 1556,1081.5 1559.2,1081.9 1562.3,1081.5 1565.5,1082 1568.7,1083.4 1571.8,1083.9 1575,1083.3 1578.2,1084.7 1581.4,1084.9 1584.5,1086.1 1587.7,1086.5 1590.9,1085.6 1594.1,1087.1 1597.2,1086.6 1600.4,1087.1 1603.6,1087.9 1606.7,1089.7 1609.9,1090 1613.1,1090.1 1616.3,1090 1619.4,1091.3 1622.6,1090.5 1625.8,1091.8 1628.9,1091.4 1632.1,1091.8 1635.3,1094.1 1638.5,1093 1641.8,1092.8 1645,1093.7 1648.2,1094.8 1651.4,1094.5 1654.7,1093.6 1657.9,1094.5 1661.1,1095.8 1664.4,1094.8 1667.6,1095.1 1670.8,1095.7 1675.3,1093 1679.7,1089.4 1684.1,1090.6 1688.6,1093.5 1691.9,1089.9 1695.2,1086 1698.6,1082.4 1701.9,1079.3 1705.2,1081.5 1708.6,1083.9 1711.9,1087.1 1715.2,1088.1 1719.7,1089.9 1724.1,1092 1727.4,1091.3 1730.8,1090.1 1734.1,1088.9 1737.4,1089.6 1740.8,1089.5 1744.1,1089 1747.4,1073.7 1750.8,1057.5 1755.2,1055.4 1759.6,1053.6 1764.1,1048.2 1768.5,1044.2 1773,1039.2 1777.4,1033.2 1781.9,1036.5 1786.3,1039.2 1790.7,1054.1 1795.2,1066.2 1798.7,1069.7 1802.3,1071.9 1805.8,1075.1 1809.4,1077.6 1812.9,1079.9 1816.1,1081.4 1819.3,1081.9 1822.5,1082.2 1825.6,1082.7 1828.8,1082.4 1832,1082.8 1835.1,1085 1838.7,1084.3 1842.3,1085.1 1845.8,1085.6 1849.4,1085.7 1852.9,1087.3 1856.5,1087.7 1860,1087.6 1863.6,1090.1 1867.1,1089.3 1870.7,1091.5" fill="none" stroke="#00ff00" stroke-width="3.6" stroke-linejoin="round" stroke-linecap="round"/>
<polyline points="1291.1,1007.5 1293.3,1048.4 1295.6,1004.3 1297.9,1042.3 1300.3,1002.2 1302.7,1049.6 1303.8,997.3 1306,1040.9 1308.2,995.5 1310.3,1058.9 1312.4,1005.6 1314.7,1059.6 1316.6,1008.7 1317.7,1048.8 1320,1010.7 1321.8,1050.9 1323.7,992.7 1324.9,1053 1326.1,997.9 1328.3,1050.3 1329.6,1007.7 1331.4,1057.7 1333.1,1016.6 1335.1,1054.9 1337.3,1015.7 1339.3,1059.9 1340.8,1014.4 1342.3,1060.8 1344.2,1021.1 1346.3,1057.7 1348.7,1037.5 1350.1,1064 1351.9,1039.9 1354.1,1066.5 1356.1,1051.6 1358.2,1066.8 1359.5,1058.9 1361.1,1068.4 1362.9,1058.1 1364.3,1071.9 1366.3,1064.8 1368.4,1072.8 1370.3,1067.8 1372.2,1074.6 1373.3,1071.2" fill="none" stroke="#ff00ff" stroke-width="2.6" stroke-linejoin="round" stroke-linecap="round"/>
<polyline points="1373.3,1073.8 1377.7,1074 1382.1,1074.9 1385.2,1076.4 1388.3,1075.2 1391.3,1076.2 1394.4,1076.7 1397.4,1077.1 1400.5,1076.4 1403.5,1077.6 1406.6,1077.7 1411,1027.3 1414.3,1022.3 1417.7,1020.8 1422.1,1024.8 1426.6,1031.7 1431,1046.6 1435.4,1062.8 1438.8,1064.8 1442.1,1068.4 1445.4,1071.3 1448.8,1076 1453.2,1060 1457.6,1043.8 1462.1,1039.3 1466.5,1034.6 1471,1036 1475.4,1037.8 1478.7,1041.5 1482.1,1045.9 1485.4,1048.5 1488.7,1053.9 1492.3,1056 1495.8,1057.3 1499.4,1059.1 1502.9,1061 1506.5,1061.3 1509.7,1063.3 1512.8,1063.8 1516,1066.5 1519.2,1067.3 1522.4,1067.7 1525.5,1069.6 1528.7,1071.6 1532,1071.7 1535.4,1071.4 1538.7,1073.5 1542,1072.3 1545.4,1074.5 1548.7,1075.3 1552,1075.4 1555.4,1076.3 1558.6,1075.7 1561.8,1075.3 1565,1076 1568.3,1076.7 1571.5,1077 1574.7,1076.4 1578,1077.7 1581.2,1076.1 1584.4,1077.2 1587.7,1076.5 1590.9,1077.4 1594.1,1079.1 1597.2,1077.8 1600.4,1080.1 1603.6,1080.4 1606.7,1080.4 1609.9,1079.6 1613.1,1080.9 1616.3,1081.9 1619.4,1081.1 1622.6,1082 1625.8,1082.1 1628.9,1084.1 1632.1,1084.7 1635.3,1085.2 1638.5,1085.4 1641.8,1085.7 1645,1085.3 1648.2,1086.7 1651.4,1087.9 1654.7,1088.5 1657.9,1087.6 1661.1,1088.2 1664.4,1088.9 1667.6,1091.2 1670.8,1090.2 1675.3,1030.8 1679.7,1075.4 1684.1,1040.7 1688.6,1088 1693,1039.4 1697.5,1071.5 1701.9,1052.4 1706.4,1061.4 1710.8,1070 1714.1,1075.2 1717.5,1077.1 1720.8,1081 1724.1,1084.1 1727.3,1085.9 1730.5,1086 1733.6,1086.4 1736.8,1086.8 1740,1087 1743.1,1088.8 1746.3,1088 1750.8,1026.8 1755.2,1035.1 1759.6,1043.9 1763,1039.3 1766.3,1033.7 1769.6,1029.5 1773,1023.5 1777.4,1026.7 1781.9,1030.3 1786.3,1036.9 1790.7,1045.1 1794.1,1046.6 1797.4,1049.2 1800.7,1051.6 1804.1,1052.6 1807.6,1056.8 1811.2,1058.3 1814.7,1061.1 1818.3,1063.9 1821.8,1066.9 1825.4,1068 1828.9,1067.7 1832.5,1069.9 1836,1070 1839.6,1070.5 1842.9,1073.9 1846.2,1076.2 1849.6,1078.4 1852.9,1079.5 1856.5,1082.5 1860,1084 1863.6,1086.2 1867.1,1087.5 1870.7,1089.8" fill="none" stroke="#ff00ff" stroke-width="3.6" stroke-linejoin="round" stroke-linecap="round"/>
<polyline points="1292.4,965.7 1293.4,985.6 1294.5,972.9 1295.4,1000.8 1296.6,969.4 1297.8,1011.4 1299.4,970.8 1300.8,995.1 1301.8,965 1303.1,1017.9 1304.5,954.4 1306.2,1024.8 1307.6,993.5 1309.4,1012.3 1310.6,975 1311.9,1017.9 1313.1,982.5 1315,1016.5 1315.8,985.4 1316.7,1013.9 1318.3,992.1 1319.9,1025.2 1321.1,968.7 1322.3,1003.1 1323.6,960.7 1325,1010.3 1326.2,950.5 1327.3,991.4 1329.1,953.7 1330.6,1002.6 1331.5,973.8 1332.4,1016.8 1333.5,984.7 1334.8,1006.7 1336.3,958.5 1338.1,1005.4 1339.5,1005.9 1340.5,1021 1341.9,992.9 1342.7,1029.7 1344.6,968.8 1345.8,1020.1 1346.8,965.9 1348.5,1018.8 1350.1,998.1 1351.7,1035 1353,1012.8 1354.4,1029.5 1355.3,1020.8 1356.4,1028.4 1358.2,1011.6 1359.1,1027 1360.8,1008.2 1362.6,1040.2 1363.4,1024.5 1365.2,1036.8 1366.8,1017.3 1368,1033 1369.6,1016.1 1370.6,1033.5 1372.4,1030.6 1373.6,1045.1 1374.7,1037.6 1376.1,1042.9 1377.5,1039.8 1378.9,1045.5 1379.7,1043 1381.4,1047.9 1382.5,1045.5" fill="none" stroke="#000000" stroke-width="3" stroke-linejoin="round" stroke-linecap="round"/>
<polyline points="1671.7,1031.5 1673.7,1073.3 1675.6,1045.6 1678.5,1084.7 1681.4,1052.8 1683.4,1092 1685.1,1039 1687.5,1085.5 1689.2,1033.1 1691.2,1080.4 1694.1,1036.9 1696.4,1081.4 1698.4,1057.7 1700.1,1079.9 1701.7,1044.3 1704.1,1090.9 1706.7,1056.6 1709.2,1084.7 1711.5,1067.1" fill="none" stroke="#ff00ff" stroke-width="3" stroke-linejoin="round" stroke-linecap="round"/>
<polyline points="1676.2,1079.9 1677.8,1105.8 1680.3,1090 1684,1097.9 1687.2,1073.4 1689.7,1112.1 1693.2,1082.6 1695.5,1109.9 1699,1077.3 1701.4,1099.9 1704.1,1083.6 1706.6,1102.4 1709.1,1092.9" fill="none" stroke="#ff0000" stroke-width="3" stroke-linejoin="round" stroke-linecap="round"/>
<polyline points="1382.1,1044.4 1404.4,1053.2 1411,1026.6 1417.7,1008.8 1422.1,995.5 1431,999.9 1437.7,1026.6 1442.1,1044.4 1453.2,1053.2 1459.9,1026.6 1466.5,1008.8 1471,999.9 1479.9,1013.3 1488.7,1022.1 1497.6,1031 1506.5,1037.7 1515.4,1053.2 1524.3,1057.7 1533.1,1053.2 1546.5,1062.1 1568.7,1066.6 1590.9,1066.6 1613.1,1066.6 1670.8,1064.3 1675.3,1031 1679.7,1017.7 1684.1,1115.4 1688.6,1035.5 1695.2,995.5 1699.7,1097.6 1704.1,986.6 1708.6,1062.1 1713,1044.4 1719.7,1057.7 1733,1062.1 1744.1,1064.3 1750.8,1008.8 1757.4,982.2 1764.1,991.1 1768.5,982.2 1775.2,986.6 1781.9,977.7 1790.7,973.3 1799.6,982.2 1808.5,986.6 1817.4,995.5 1826.3,993.3 1830.7,1008.8 1835.1,999.9 1841.8,1017.7 1848.5,1035.5 1857.4,1039.9 1870.7,1048.8" fill="none" stroke="#000000" stroke-width="3.6" stroke-linejoin="round" stroke-linecap="round"/>
<polyline points="1295.5,1648.2 1297.1,1663.7 1298.9,1644.9 1301.1,1670.8 1302.6,1648 1304.9,1668.1 1306.9,1647.7 1308.8,1672.5 1311.2,1647.8 1312.7,1664.6 1314.5,1645.6 1316.5,1670.1 1319,1649.1 1320.6,1670.2 1322.2,1649.7 1324.2,1668.4 1326.7,1644.3 1328.5,1670.2 1329.7,1651.2 1331.8,1668.9 1333.4,1644.4 1335.9,1669.4 1338.3,1648.9 1340.2,1678.3 1342,1647 1343.8,1674.8 1345.2,1646.7 1347,1680.2 1348.7,1645.2 1350.8,1679.1 1352.3,1648.6 1354.1,1682.2 1356.4,1650.4 1357.5,1673.8 1358.7,1647.8 1360.4,1679.4 1362.1,1647.8 1364.2,1682.8 1365.6,1647.1 1367.2,1674.4 1369.5,1647.5 1371,1681.4 1373,1652.1 1374.1,1679.8 1376.1,1656 1377.5,1679.1 1379.7,1659.2 1380.8,1677.2 1382,1656.8 1383.4,1681.4 1384.6,1652.5 1385.9,1686.2 1387.7,1652.8 1389.2,1683.8 1390.7,1661.5 1393.1,1680.9 1395,1656.1 1396.7,1687.5 1398.4,1657.7 1400.6,1681.5 1402.7,1659 1404.4,1689 1406.2,1659.3 1408.2,1682.7 1410.1,1655.2 1412.3,1689.5 1413.6,1657.3 1415.1,1691 1416.5,1663.5 1418.5,1687.4 1419.6,1658.9 1422,1682.6 1423.4,1662.2 1425.5,1685.9 1427.1,1662.2 1428.3,1691.6 1430.3,1668.4 1432.7,1689.6 1433.8,1669.8 1435.6,1690.8 1437.1,1667.9 1439.2,1685.3 1440.9,1667.6 1443.4,1688.4 1445.2,1670.2 1446.5,1689.8 1448.6,1670.7 1449.8,1695.3 1451.9,1667.9 1453.5,1693 1455.9,1673.5 1458.2,1689.1 1459.3,1670.4 1461.7,1690.5 1463.7,1669.6 1465.4,1689.9 1466.6,1677.5 1468.7,1695 1471.1,1672.3 1473,1696.1 1474.3,1675.2 1475.8,1692.9 1478.1,1680.8 1480,1692.7 1481.8,1675.6 1484,1695.7 1485.7,1682.7 1488.1,1695.7 1489.4,1680.7 1491.7,1695.1 1494.1,1683.5 1496.1,1696.9 1497.6,1699.1 1502.1,1614 1505.4,1631 1508.7,1648.6 1512.1,1642.9 1515.4,1636.1 1518.3,1642 1521.3,1650.8 1524.3,1656.9 1527.2,1652.9 1530.2,1648.7 1533.1,1644.4 1535.8,1646.5 1538.5,1648.9 1541.1,1653.1 1543.8,1654.2 1546.5,1656.9 1549.4,1658.1 1552.4,1658.6 1555.4,1659.6 1558.3,1659.9 1561.3,1660.5 1564.2,1662.9 1567.2,1665.4 1570.2,1668 1573.1,1670.2 1576.1,1669.8 1579,1669.5 1582,1669.3 1585,1667.8 1587.9,1666.4 1590.9,1666.6 1593.8,1665.3 1596.8,1664.5 1599.8,1665 1602.7,1663.4 1605.7,1662.8 1608.6,1661.7 1611.6,1662.5 1614.6,1662.7 1617.5,1664.9 1620.5,1665.7 1623.4,1665.3 1626.4,1666.2 1629.1,1666.9 1631.7,1666.5 1634.4,1665.9 1637.1,1666.1 1639.7,1666.6 1642.4,1669 1645.1,1672.5 1647.7,1675.1 1650.4,1678 1653.1,1680.6 1656,1681.9 1659,1682.2 1661.9,1684.8 1664.9,1685.5 1667.9,1687.8 1670.8,1689.3 1673.5,1690.1 1676.2,1690.6 1678.8,1692.8 1681.5,1694 1684.1,1695.5 1686.8,1695.5 1689.5,1694.9 1692.1,1695.7 1694.8,1695 1697.5,1695.4 1700.1,1695.8 1702.8,1695.8 1705.5,1695.5 1708.1,1696 1710.8,1696.1 1713.5,1697 1716.1,1695.9 1718.8,1696.5 1721.5,1695.8 1724.1,1696.5 1726.8,1697.3 1729.4,1696.6 1732.1,1695.8 1734.8,1695 1737.4,1694.9 1740.1,1694.5 1742.8,1694.7 1745.4,1694.3 1748.1,1693.8 1750.8,1693.8 1753.4,1694.1 1756.1,1693.1 1758.8,1692.9 1761.4,1694.1 1764.1,1693.5 1768.5,1671.5 1773,1586.3 1775.9,1586 1778.9,1585.5 1781.9,1584.2 1784.5,1586.2 1787.2,1587.4 1789.8,1587.9 1792.5,1589 1795.2,1590.4 1797.9,1593.2 1800.7,1594.8 1803.5,1598.2 1806.3,1600.3 1809.6,1608.7 1812.9,1618.3 1816.3,1629.3 1819.6,1640 1822.7,1641.1 1825.8,1641.8 1828.9,1643 1832,1645.1 1835.1,1647.2 1837.9,1646.6 1840.6,1647.9 1843.3,1648.9 1846,1650.1 1848.7,1651.1 1851.4,1651 1854.1,1651.3 1856.9,1653.2 1859.6,1653.1" fill="none" stroke="#0000ff" stroke-width="3.2" stroke-linejoin="round" stroke-linecap="round"/>
<polyline points="1295.5,1607.6 1299.2,1647.9 1302.3,1626.6 1306.9,1643.4 1311,1594.1 1314.5,1641.4 1318.2,1605.6 1322.5,1642.8 1326.8,1596.6 1330.5,1660.6 1334.1,1642.5 1338.8,1659.9 1342.5,1605.3 1346,1653 1348.3,1630.2 1350.7,1665 1353.7,1630.2 1357.3,1671.4 1361.4,1650.7 1364.8,1666.9 1368.4,1613 1371,1660.7 1375.3,1650.9 1379.6,1670.5 1384.1,1619.8 1388.8,1664.5 1393,1648.5 1396.4,1673.7 1400.6,1626.3 1404.4,1673.8 1409.1,1651.7 1412.4,1679.3 1417.1,1659.6 1421.7,1674.7 1424.9,1632 1429.2,1673 1433.7,1657.5 1437,1675.9 1439.8,1648.1 1443.8,1683.3 1447,1666 1449.6,1679.5 1452,1660.5 1455.9,1688.2 1460.5,1671.9 1462.7,1683.8 1466.9,1678.1 1471.7,1682.6 1474.9,1682.8 1478.7,1685.2 1481.9,1673.1 1484.2,1687.4 1486.7,1684.8 1491.4,1691.4 1493.8,1684.8 1496.1,1689.4 1497.6,1696.3 1502.1,1586.9 1505,1594.5 1508,1601 1510.9,1609.2 1513.6,1610.5 1516.3,1611.9 1518.9,1610.7 1521.6,1611.5 1524.3,1613.7 1527,1614.6 1529.8,1615.4 1532.6,1617.8 1535.4,1621 1538.1,1621.1 1540.9,1622.8 1543.7,1625 1546.5,1626 1549.2,1627.1 1552,1629.5 1554.8,1629 1557.6,1630.3 1560.3,1631.5 1563.1,1632.5 1565.9,1635 1568.7,1634.7 1571.5,1637.2 1574.2,1637.3 1577,1639.2 1579.8,1639 1582.6,1640.4 1585.3,1642.1 1588.1,1642.3 1590.9,1643.6 1593.8,1645.3 1596.8,1644.6 1599.8,1646.6 1602.7,1646.2 1605.7,1648.6 1608.6,1648.6 1611.6,1649.2 1614.6,1651.4 1617.5,1652 1620.5,1650.4 1623.4,1651.8 1626.4,1652.4 1629.1,1655 1631.7,1655.6 1634.4,1658.5 1637.1,1659.3 1639.7,1662 1642.4,1666 1645.1,1666.4 1647.7,1669.3 1650.4,1673.1 1653.1,1676.7 1656,1677.2 1659,1680.5 1661.9,1683 1664.9,1684.4 1667.9,1686.9 1670.8,1689.5 1673.5,1689.7 1676.2,1691.2 1678.8,1691.5 1681.5,1691.9 1684.1,1693.8 1686.8,1692.5 1689.5,1693.6 1692.1,1691.8 1694.8,1691.9 1697.5,1691.2 1700.1,1691.7 1702.8,1691.5 1705.5,1691.5 1708.1,1691.4 1710.8,1691.2 1713.5,1690.7 1716.1,1690.3 1718.8,1688.4 1721.5,1688 1724.1,1687.4 1726.8,1689 1729.4,1688.5 1732.1,1686 1734.8,1686.8 1737.4,1684.8 1740.1,1685.6 1742.8,1684.5 1745.4,1685.1 1748.1,1682.5 1750.8,1681.5 1753.4,1681.5 1756.1,1680.5 1758.8,1681.7 1761.4,1681.1 1764.1,1680.7 1768.5,1630.5 1773,1484.8 1775.9,1479.1 1778.9,1474.7 1781.9,1470.3 1784.8,1473.4 1787.8,1476.3 1790.7,1478.5 1793.7,1480.4 1796.7,1483.5 1799.6,1484 1802.6,1492.8 1805.5,1502.9 1808.5,1511.2 1811.5,1523.9 1814.4,1537 1817.4,1552.1 1820,1559 1822.7,1564.6 1825.4,1573.6 1828,1578.3 1830.7,1586.1 1833.4,1590.3 1836,1593.4 1838.7,1596.2 1841.4,1601 1844,1604.6 1847.1,1607.5 1850.2,1609.5 1853.4,1609.9 1856.5,1614.1 1859.6,1615.3" fill="none" stroke="#00ff00" stroke-width="3.2" stroke-linejoin="round" stroke-linecap="round"/>
<polyline points="1295.5,1611.4 1299.5,1631.8 1302.7,1567.5 1305.9,1629.3 1308.7,1620.6 1311.3,1641.2 1314.2,1621.5 1319.3,1630.4 1322.3,1600.6 1326.9,1629.3 1331.7,1604.7 1334.9,1641.4 1339.7,1614.3 1345.2,1646.9 1347.8,1626.9 1351.6,1647.2 1354.9,1596.6 1357.7,1649.6 1362.3,1592.1 1365.7,1658.8 1368.9,1609.9 1374.3,1660.5 1378.9,1626.3 1382.5,1655.3 1385.8,1630.8 1389.2,1661.9 1392.2,1631.5 1396.9,1656.8 1400.7,1617.4 1405.2,1664.7 1410,1615.9 1415.5,1657.7 1420.2,1614.3 1423.6,1662.4 1426.6,1653.4 1429.2,1662 1432.8,1619.1 1437.8,1675.6 1440.6,1661.6 1444.1,1668.3 1448.5,1658.9 1453.3,1671.5 1456.9,1652.5 1460,1674.8 1464,1663 1469,1680.4 1473.7,1675.1 1479.3,1686.5 1482.7,1668.1 1486.2,1686.3 1491.6,1666.8 1496.6,1688.2 1497.6,1698.3 1502.1,1581.3 1505,1583.8 1508,1585.3 1510.9,1586.4 1513.6,1586.1 1516.3,1585.7 1518.9,1586.6 1521.6,1587.2 1524.3,1587.3 1527,1588 1529.8,1590.7 1532.6,1592.4 1535.4,1593.8 1538.1,1594.6 1540.9,1596.1 1543.7,1599.1 1546.5,1600.1 1549.4,1600.1 1552.4,1600.8 1555.4,1601.2 1558.3,1602.4 1561.3,1602.7 1564.2,1604.7 1567.2,1605.5 1570.2,1606.5 1573.1,1607.1 1576.1,1607.8 1579,1607.3 1582,1609.2 1585,1610.6 1587.9,1612.6 1590.9,1612.3 1593.8,1615.1 1596.8,1615.3 1599.8,1617.2 1602.7,1618.7 1605.7,1619.9 1608.6,1622.2 1611.6,1623.9 1614.6,1624.7 1617.5,1627.1 1620.5,1628.1 1623.4,1630.7 1626.4,1633 1629.4,1634.7 1632.3,1637.3 1635.3,1639 1638,1642.4 1640.6,1645.4 1643.3,1647.8 1646,1650.8 1648.6,1653.1 1651.6,1655.5 1654.5,1656.8 1657.5,1656.9 1660.5,1659 1663.4,1660.5 1666.4,1662.1 1669.3,1662.9 1672.3,1663.8 1675.3,1665.1 1678.2,1665.5 1681.2,1665.6 1684.1,1666 1686.9,1666.5 1689.7,1668.3 1692.5,1667.7 1695.2,1668.1 1698,1668.9 1700.8,1669.5 1703.6,1670.1 1706.4,1671 1709.3,1670.8 1712.3,1670.1 1715.2,1669.9 1718.2,1669.5 1721.2,1669.4 1724.1,1668.9 1726.9,1668.3 1729.7,1668.4 1732.4,1666.9 1735.2,1666.8 1738,1665.5 1740.8,1665.8 1743.5,1665.6 1746.3,1663.5 1749.3,1663.2 1752.2,1660.9 1755.2,1658.5 1758.2,1657.4 1761.1,1655.6 1764.1,1653.4 1768.5,1617.3 1773,1515.5 1775.7,1510.1 1778.5,1505.3 1781.3,1501.1 1784.1,1496 1786.8,1497 1789.6,1498.5 1792.4,1499.7 1795.2,1502.3 1797.8,1506.1 1800.5,1508.6 1803.2,1512.6 1805.8,1516.3 1808.5,1520.5 1811.2,1523.2 1813.8,1524.7 1816.5,1528.8 1819.2,1530.8 1821.8,1533.6 1824.8,1536.1 1827.7,1537.3 1830.7,1540.4 1833.7,1542.4 1836.6,1543.8 1839.6,1545.8 1842.4,1548.7 1845.3,1549.4 1848.2,1550.7 1851,1551.9 1853.9,1553.8 1856.7,1555.1 1859.6,1556.8" fill="none" stroke="#000080" stroke-width="3.2" stroke-linejoin="round" stroke-linecap="round"/>
<polyline points="1295.5,1586.6 1324.4,1599.9 1368.8,1613.2 1413.2,1626.5 1435.4,1635.4 1457.6,1644.3 1475.4,1651 1495.4,1655.4 1497.6,1653.2 1502.1,1608.8 1515.4,1604.3 1528.7,1617.6 1546.5,1626.5 1568.7,1635.4 1590.9,1639.9 1617.5,1644.3 1639.7,1648.7 1657.5,1657.6 1679.7,1662.1 1701.9,1662.1 1724.1,1664.3 1746.3,1662.1 1764.1,1653.2 1768.5,1639.9 1773,1559.9 1784.1,1537.7 1795.2,1533.3 1804.1,1551 1812.9,1586.6 1826.3,1613.2 1844,1631 1859.6,1642.1" fill="none" stroke="#000000" stroke-width="3.2" stroke-linejoin="round" stroke-linecap="round"/>
<polyline points="1295.5,1542.5 1299.8,1606.3 1305.5,1575.4 1311.1,1617.9 1315.1,1528.6 1320.5,1628.1 1324.4,1543.9 1327.8,1633.9 1332.5,1582.4 1335.4,1631.7 1341.1,1549.7 1343.9,1626.2 1346.7,1574.1 1350.7,1629.9 1355.6,1598.2 1360.8,1638.5 1366.1,1583 1371.2,1636 1374.6,1586.6 1380.7,1637.3 1384.4,1593.9 1389.3,1655.9 1392.8,1600.1 1397.5,1658.1 1402.8,1622.6 1406,1645.9 1412,1615 1417.3,1668.5 1421.6,1594.1 1426.9,1658.2 1430.3,1628.6 1433.5,1679.7 1439.2,1636.2 1442.8,1679 1447.6,1631.1 1452.8,1684.2 1457.1,1614.3 1462.6,1680.5 1468.6,1637.8 1474.9,1686.2 1480.5,1656.2 1486.3,1688.9 1491.5,1679 1495.3,1690.4 1497.6,1697.9 1502.1,1529.7 1505,1535.5 1508,1542.3 1510.9,1552 1513.6,1553.5 1516.3,1556.4 1518.9,1557.9 1521.6,1561.5 1524.3,1565.5 1526.9,1567.7 1529.6,1571 1532.3,1573.3 1534.9,1575.8 1537.6,1576.5 1540.5,1579.6 1543.5,1579 1546.5,1580.7 1549.4,1581.9 1552.4,1581 1555.4,1582.1 1558.3,1582.7 1561.3,1582.8 1564.2,1583 1567.2,1586.4 1570.2,1586 1573.1,1586.8 1576.1,1589.8 1579,1591.2 1582,1593.8 1585,1595.8 1587.9,1598.7 1590.9,1598.6 1593.8,1601 1596.8,1602.5 1599.8,1605.1 1602.7,1605.3 1605.7,1606.6 1608.6,1608.8 1611.6,1608.3 1614.6,1606.1 1617.5,1607.5 1620.5,1606.1 1623.4,1604.1 1626.4,1605.3 1629.1,1607.8 1631.7,1609.4 1634.4,1611.1 1637.1,1614.4 1639.7,1617 1642.4,1623.1 1645.1,1627.5 1647.7,1630.1 1650.4,1634.9 1653.1,1639.2 1655.7,1644.5 1658.4,1649 1661.1,1652.5 1663.7,1657.4 1666.4,1663 1669.3,1663.7 1672.3,1666 1675.3,1665.4 1678.2,1668.4 1681.2,1668.8 1684.1,1672.1 1686.9,1670.5 1689.7,1672.8 1692.5,1673 1695.2,1673.5 1698,1674.8 1700.8,1675.1 1703.6,1673.7 1706.4,1675.1 1709.3,1674.7 1712.3,1672.6 1715.2,1671.9 1718.2,1673.2 1721.2,1672.2 1724.1,1671.7 1726.9,1671.1 1729.7,1669.4 1732.4,1669.6 1735.2,1667.7 1738,1668.7 1740.8,1667.1 1743.5,1667.1 1746.3,1667.2 1749.3,1665 1752.2,1661.3 1755.2,1659 1758.2,1657 1761.1,1655.7 1764.1,1653.5 1768.5,1617.6 1773,1521.1 1775.9,1517 1778.9,1513.8 1781.9,1510 1784.5,1511.6 1787.2,1515.8 1789.8,1515.9 1792.5,1519 1795.2,1520.7 1797.8,1523.8 1800.5,1526.2 1803.2,1526.7 1805.8,1529.9 1808.5,1533.1 1811.2,1536.8 1813.8,1542.6 1816.5,1546.9 1819.2,1551.6 1821.8,1555.2 1824.8,1558 1827.7,1562.5 1830.7,1566.1 1833.7,1571.3 1836.6,1574.7 1839.6,1578.2 1842.4,1580.7 1845.3,1582.8 1848.2,1583.4 1851,1585.7 1853.9,1588.8 1856.7,1589.9 1859.6,1593.2" fill="none" stroke="#8b0000" stroke-width="3.4" stroke-linejoin="round" stroke-linecap="round"/>
<polyline points="1684.1,1667.6 1687.6,1687.6 1689.8,1654.5 1692.3,1679.9 1695.8,1657.5 1698.4,1684.4 1700.2,1665.6 1702.7,1683.1 1705.2,1657.6 1707.2,1674.8 1709.2,1660 1710.8,1676.6 1714.1,1651.7 1716.1,1674.3 1717.9,1667.6 1721,1683.3 1723.7,1657.1 1726.3,1677.6 1729.8,1666.9 1732.6,1673.6 1735.1,1660.4 1738.3,1672 1741.2,1650.5 1743.6,1678.5 1745.3,1670.9 1747.5,1675.3 1749.6,1673.2 1752.3,1669.2 1754.6,1654.8 1757.2,1680.9 1759,1648.9 1760.6,1675.4 1762.8,1670.8" fill="none" stroke="#00ff00" stroke-width="3" stroke-linejoin="round" stroke-linecap="round"/>
<polyline points="1684.1,1672.6 1685.8,1695.1 1688,1672.8 1691.3,1693.6 1693.1,1673.1 1695.7,1693.9 1697.8,1680.1 1699.9,1695.5 1703.6,1689.9 1705.6,1693.5 1708.9,1671.5 1711.2,1695.2 1714.7,1677.9 1716.6,1690.7 1719.2,1668.3 1721,1688.5 1723.1,1683.2 1726.2,1692.9 1728.1,1685.1 1730,1691.2 1732,1674.7 1734.4,1695.1 1736.8,1686.5 1739.4,1687.9 1742.7,1679.6 1745.9,1693.1 1748.7,1669.8 1751.3,1691.8 1754.6,1677.8 1757.2,1686.8 1760.6,1669.9 1764,1693.7" fill="none" stroke="#0000ff" stroke-width="3" stroke-linejoin="round" stroke-linecap="round"/>
<polyline points="1295.5,1504.1 1298.7,1634.9 1304.5,1513.7 1307.9,1611.2 1311.3,1510.2 1316.4,1644.5 1322.1,1504.5 1326.9,1618.4 1333.1,1535.2 1339.6,1654.5 1345.5,1529.6 1349.8,1637.4 1354.4,1534.5 1358.5,1660 1361.5,1537.9 1366,1655.1 1372.1,1552.1 1378.4,1643 1382.2,1571.1 1387.6,1661.8 1390.6,1578.4 1396.1,1650 1399.7,1578.4 1403.9,1659.2 1410.4,1585.7 1416.1,1676.5 1421.4,1595.9 1424.5,1674.1 1428,1586.7 1432.2,1670 1436.2,1595.5 1442.3,1677.6 1448.6,1610.9 1454.7,1677.8 1458.7,1611.5 1463.6,1676.3 1469.4,1625.3 1475.4,1687.1 1481.7,1646.1 1484.7,1686.9 1489,1655.3 1493.9,1694.4 1497.6,1699 1499.8,1605.8 1502.1,1515.9 1504.3,1521.6 1506.5,1527.5 1508.7,1523.5 1510.9,1518.2 1513.2,1542.1 1515.4,1563.3 1517.6,1563.7 1519.8,1560.7 1522,1558.2 1524.3,1557.2 1526.5,1560 1528.7,1566.9 1530.9,1569.5 1533.1,1572.1 1535.4,1573.4 1537.6,1577.1 1539.8,1579.4 1542,1578.3 1544.2,1580.6 1546.5,1581.3 1548.7,1579.3 1550.9,1579.2 1553.1,1577.8 1555.4,1575.1 1557.6,1578.3 1559.8,1581.2 1562,1584.9 1564.2,1587.8 1566.5,1596.7 1568.7,1605.2 1570.9,1617.4 1573.1,1625.5 1575.3,1604.3 1577.6,1581.2 1579.8,1582.6 1582,1587.2 1584.2,1586.5 1586.4,1590.7 1588.7,1614.8 1590.9,1635.5 1593.1,1629.9 1595.3,1621.8 1597.5,1615.5 1599.8,1607.2 1602,1605.3 1604.2,1599.3 1606.4,1597.2 1608.6,1591.8 1610.9,1612.6 1613.1,1630.6 1615.3,1621 1617.5,1610.8 1619.7,1600.8 1622,1592.8 1624.2,1594.5 1626.4,1600.4 1628.6,1605.8 1630.9,1609.9 1633.1,1613.5 1635.3,1619 1637.5,1621.9 1639.7,1627.5 1642,1639.2 1644.2,1649.7 1646.4,1660.5 1648.6,1671.2 1650.8,1659.7 1653.1,1648.7 1655.3,1636.8 1657.5,1649.6 1659.7,1666.2 1661.9,1681.3 1664.2,1684.9 1666.4,1686.9 1668.6,1688.9 1670.8,1692.6 1673,1694.3 1675.3,1693.1 1677.5,1696.5 1679.7,1695.2 1681.9,1694.6 1684.1,1695.8 1683,1696.7 1684.1,1696.7 1686,1696.6 1686.4,1568.8 1687.8,1696.6 1689.6,1696.5 1689.7,1696.5 1691.4,1696.5 1693.2,1696.4 1695,1696.3 1696.9,1696.3 1698.7,1696.2 1700.5,1696.2 1702.3,1696.1 1704.1,1696 1705.9,1696 1707.5,1695.9 1707.8,1695.9 1709.6,1695.9 1710.8,1591 1711.4,1695.8 1713.2,1695.7 1714.1,1695.7 1715,1695.7 1716.8,1695.6 1718.7,1695.5 1720.5,1695.5 1720.8,1695.5 1722.3,1695.4 1724.1,1582.1 1724.1,1695.4 1725.9,1695.2 1727.4,1695 1727.7,1695 1729.6,1694.8 1729.7,1694.7 1731.4,1694.6 1733,1608.8 1733.2,1694.4 1735,1694.2 1736.3,1694 1736.8,1694 1738.7,1693.8 1740.5,1693.5 1740.8,1693.5 1742.3,1693.3 1744.1,1577.7 1744.1,1693.1 1745.9,1692.9 1747.4,1692.8 1747.4,1692.8 1747.7,1692.7 1749.6,1692.5 1750.8,1586.6 1751.4,1692.3 1753.2,1692.1 1754.1,1692 1754.1,1692 1755,1691.9 1756.8,1691.7 1757.4,1573.2 1758.6,1691.5 1759.4,1691.4 1760.5,1691.3 1760.8,1691.3 1762.3,1691.1 1762.8,1568.8 1764.1,1690.9 1766.1,1690.9 1766.3,1573.2 1770.7,1475.5 1779.6,1453.3 1790.7,1462.2 1804.1,1475.5 1808.5,1506.6 1817.4,1551 1826.3,1568.8 1835.1,1573.2 1844,1564.4 1848.5,1573.2 1859.6,1577.7" fill="none" stroke="#ff0000" stroke-width="4.2" stroke-linejoin="round" stroke-linecap="round"/>
<polyline points="1295,2180.7 1298.6,2188.4 1302.2,2198.7 1305.8,2202.7 1309.2,2203.1 1312.6,2198.2 1316.1,2193.3 1319.5,2187.3 1322.9,2185.2 1326.5,2174.5 1330.1,2169.6 1333.7,2161 1337.2,2166 1340.8,2173.1 1344.4,2173 1348,2172.6 1351.6,2169.1 1355.1,2161.4 1358.7,2169 1362.3,2167.9 1365.9,2170.6 1369.1,2170.8 1372.3,2173.9 1375.5,2178 1378.7,2175.9 1382,2179.3 1385.2,2180.7 1388.4,2182.2 1391.6,2182.2 1394.8,2179.1 1398.1,2176.9 1401.3,2175.6 1404.5,2173.9 1407.7,2180.2 1410.9,2183.1 1414.2,2182.6 1417.4,2186.1 1420.6,2189.1 1423.8,2198.7 1427,2197.8 1430.3,2204.1 1433.3,2204.6 1436.4,2206.6 1439.5,2212.9 1442.5,2211.7 1445.6,2214.7 1448.7,2217.7 1451.7,2217.7 1454.8,2220.7 1457.9,2221.7 1460.9,2221.9 1464,2222.9 1467.1,2226 1470.1,2226 1473.2,2225.2 1476.3,2229.8 1479.3,2230.6 1482.4,2232.6 1485.5,2232.1 1488.5,2232 1491.6,2232.7 1494.7,2235.5 1497.7,2233.5 1500.8,2237.4 1503.9,2237.8 1506.9,2239.5 1510,2236.1 1513.1,2238.9 1516.1,2239.4 1519.3,2241.1 1522.6,2241.4 1525.8,2240.4 1529,2247.3 1532.2,2246.2 1535.4,2247.6 1537.6,2260.5 1541.9,2196.1 1545.3,2196.6 1548.7,2197 1552.2,2197.4 1555.6,2197.8 1559.1,2198.3 1562.1,2198.9 1565.2,2199.5 1568.3,2200.1 1571.3,2200.7 1574.4,2201.3 1577.5,2201.9 1580.5,2202.6 1583.6,2203.2 1586.7,2203.8 1589.7,2204.4 1592.8,2205 1595.9,2205.6 1598.9,2206.2 1602,2206.9 1605.1,2207.5 1608.1,2208.1 1611.2,2208.7 1614.2,2209.3 1617.3,2209.9 1620.4,2210.5 1623.4,2211.1 1626.5,2211.5 1629.6,2211.8 1632.6,2212.1 1635.7,2212.4 1638.8,2212.7 1641.8,2213 1644.9,2213.3 1648.1,2217.7 1651.4,2218.1 1654.6,2228.4 1657.8,2227.9 1661.2,2232.9 1664.7,2228.2 1668.1,2231.2 1671.5,2234.4 1675,2236.2 1678.4,2237.1 1681.8,2232.3 1685.3,2230.3 1688.7,2230.1 1692.1,2232.4 1695.6,2233.8 1699,2229.7 1702.4,2234.9 1705.9,2232.8 1709.3,2232.6 1712.4,2236.1 1715.4,2231.6 1718.5,2233.2 1721.6,2230.4 1724.6,2229.8 1727.7,2228.4 1730.8,2233.2 1733.8,2232.2 1736.9,2231.3 1740,2230 1743,2228.4 1746.1,2227.7 1749.2,2227.9 1752.2,2225.7 1755.2,2221.3 1758.3,2221 1761.3,2219.6 1764.3,2220.3 1767.3,2220.3 1769.4,2234.8 1773.7,2101.7 1776.9,2095.2 1780.1,2088.8 1784.4,2093.1 1788.7,2097.4 1792,2114.6 1795.2,2131.7 1799.5,2148.9 1803.8,2166.1 1807,2169.3 1810.2,2172.5 1813.4,2175.7 1816.6,2178.9 1820,2178.9 1823.4,2178.9 1826.7,2178.9 1830.1,2178.9 1833.5,2178.9 1836.8,2178.9" fill="none" stroke="#00ff00" stroke-width="3.5" stroke-linejoin="round" stroke-linecap="round"/>
<polyline points="1295,2193.5 1298.6,2199.4 1302.2,2204.3 1305.8,2209.5 1309.2,2207.4 1312.6,2204.9 1316.1,2199.7 1319.5,2197.1 1322.9,2192.2 1326,2190.4 1329.1,2191.4 1332.1,2191.1 1335.2,2187.4 1338.3,2186.5 1341.3,2181.8 1344.4,2185.4 1347.5,2184.7 1350.5,2185.3 1353.6,2183.1 1356.7,2186.2 1359.7,2186.9 1362.8,2184.9 1365.9,2187 1368.9,2189.6 1372,2190.4 1375.1,2190.7 1378.1,2191 1381.2,2193.3 1384.3,2193 1387.3,2189.2 1390.4,2191.6 1393.5,2190.3 1396.5,2196.1 1399.6,2195.4 1402.7,2193.2 1405.7,2193.6 1408.8,2194.5 1411.9,2198.6 1414.9,2199.7 1418,2198.7 1421.1,2204.4 1424.1,2204 1427.2,2205.9 1430.3,2212 1433.3,2213.3 1436.4,2214.9 1439.5,2216.9 1442.5,2216.8 1445.6,2215.5 1448.7,2219.3 1451.7,2222.5 1454.8,2225.4 1457.9,2222.7 1460.9,2222.1 1464,2228.3 1467.1,2227.8 1470.1,2229.4 1473.2,2228.3 1476.3,2227.7 1479.3,2228.5 1482.4,2228 1485.5,2230 1488.5,2231.8 1491.6,2234.8 1494.7,2235.4 1497.7,2233.4 1500.8,2232.7 1503.9,2238.1 1506.9,2233.3 1510,2234.7 1513.1,2239.2 1516.1,2239.7 1519.3,2244.1 1522.6,2244.4 1525.8,2247.4 1529,2249.9 1532.2,2249.8 1535.4,2251.9 1537.6,2260.5 1541.9,2191.8 1545.3,2192.3 1548.7,2192.7 1552.2,2193.1 1555.6,2193.5 1559.1,2194 1562.1,2194.6 1565.2,2195.2 1568.3,2195.8 1571.3,2196.4 1574.4,2197 1577.5,2197.7 1580.5,2198.3 1583.6,2198.9 1586.7,2199.5 1589.7,2200.1 1592.8,2200.7 1595.9,2201.3 1598.9,2201.9 1602,2202.6 1605.1,2203.2 1608.1,2203.8 1611.2,2204.4 1614.2,2205 1617.3,2205.6 1620.4,2206.2 1623.4,2206.9 1626.5,2207.2 1629.6,2207.5 1632.6,2207.8 1635.7,2208.1 1638.8,2208.4 1641.8,2208.7 1644.9,2209 1648.1,2215 1651.4,2221.2 1654.6,2225 1657.8,2230.4 1661.2,2230.1 1664.7,2234.9 1668.1,2231.1 1671.5,2230.7 1675,2232.1 1678.4,2234.4 1681.8,2236 1685.3,2232.5 1688.7,2227.6 1692.1,2228.5 1695.6,2228.1 1699,2230.7 1702.4,2231.7 1705.9,2237.2 1709.3,2234.6 1712.4,2236.7 1715.4,2236 1718.5,2229.9 1721.6,2229.4 1724.6,2235.2 1727.7,2227.1 1730.8,2230 1733.8,2232.2 1736.9,2227.2 1740,2230.7 1743,2231.1 1746.1,2230.1 1749.2,2225.1 1752.2,2224.3 1755.2,2223.2 1758.3,2219 1761.3,2217.2 1764.3,2217.2 1767.3,2215.1 1769.4,2234.8 1773.7,2123.1 1776.9,2117.8 1780.1,2112.4 1784.4,2117.8 1788.7,2123.1 1792,2138.2 1795.2,2153.2 1799.5,2166.1 1803.8,2178.9 1807,2181.1 1810.2,2183.2 1813.4,2185.4 1816.6,2187.5 1820,2187.5 1823.4,2187.5 1826.7,2187.5 1830.1,2187.5 1833.5,2187.5 1836.8,2187.5" fill="none" stroke="#00ffff" stroke-width="3.5" stroke-linejoin="round" stroke-linecap="round"/>
<polyline points="1295,2214.9 1298.6,2216.1 1302.2,2219.3 1305.8,2221.3 1309.2,2218.6 1312.6,2217.9 1316.1,2215.4 1319.5,2213.5 1322.9,2211.9 1326,2210.2 1329.1,2211.1 1332.1,2208.1 1335.2,2208.9 1338.3,2206.6 1341.3,2207.6 1344.4,2205.3 1347.5,2206.1 1350.5,2205.9 1353.6,2206.6 1356.7,2207.7 1359.7,2208.2 1362.8,2205.2 1365.9,2206 1368.9,2206.3 1372,2206.3 1375.1,2208.8 1378.1,2209.8 1381.2,2206.6 1384.3,2207.4 1387.3,2210.7 1390.4,2209.3 1393.5,2211 1396.5,2216.1 1399.6,2215.5 1402.7,2216.3 1405.7,2220.3 1408.8,2220.6 1411.9,2223.3 1414.9,2224.9 1418,2228.7 1421.1,2231 1424.1,2232.9 1427.2,2232.9 1430.3,2236.5 1433.3,2236.1 1436.4,2236.2 1439.5,2237.2 1442.5,2237.8 1445.6,2239.5 1448.7,2237.5 1451.7,2240.7 1454.8,2241.4 1457.9,2241.3 1460.9,2241.9 1464,2242 1467.1,2245.5 1470.1,2244.3 1473.2,2243.7 1476.3,2248.4 1479.3,2247.8 1482.4,2248 1485.5,2247.2 1488.5,2249.7 1491.6,2252.8 1494.7,2253.7 1497.8,2251.1 1500.9,2252.5 1504.1,2255.9 1507.2,2255.4 1510.3,2255.4 1513.5,2254.4 1516.6,2257.1 1519.8,2255.4 1522.9,2256 1526,2259.4 1529.2,2257.5 1532.3,2259.9 1535.4,2260.5 1537.6,2260.5 1541.9,2226.2 1545.1,2224 1548.3,2221.9 1551.5,2219.7 1554.8,2217.6 1558.2,2217.2 1561.6,2216.7 1565.1,2216.3 1568.5,2215.9 1571.9,2215.4 1575.4,2215.9 1578.8,2216.3 1582.2,2216.7 1585.7,2217.2 1589.1,2217.6 1592.5,2218 1596,2218.4 1599.4,2218.9 1602.8,2219.3 1606.3,2219.7 1609.7,2220.3 1613.1,2220.9 1616.6,2221.5 1620,2222.1 1623.4,2222.7 1626.5,2222.9 1629.6,2223.1 1632.6,2223.3 1635.7,2223.5 1638.8,2223.7 1641.8,2223.8 1644.9,2224 1648.1,2232.4 1651.4,2237.9 1654.6,2239 1657.8,2246 1661.2,2247 1664.7,2250.8 1668.1,2250.2 1671.5,2251.5 1675,2253.5 1678.2,2253 1681.4,2255.1 1684.6,2251.1 1687.8,2254.7 1691.1,2257.4 1694.3,2256 1697.5,2253.4 1700.7,2258.4 1703.9,2259 1707.2,2255 1710.4,2256 1713.6,2255.8 1716.8,2253.8 1720,2256.9 1723.3,2255.2 1726.5,2254.4 1729.7,2256 1732.9,2256.2 1736.1,2253.6 1739.4,2253.6 1742.6,2252 1745.8,2249.8 1749,2251.4 1752.2,2249.3 1755.2,2247.2 1758.3,2245 1761.3,2243.6 1764.3,2246.8 1767.3,2244.7 1769.4,2243.3 1773.7,2153.2 1778,2151 1782.3,2148.9 1786.6,2157.5 1790.9,2166.1 1795.2,2178.9 1799.5,2191.8 1803.8,2199.3 1808.1,2206.9 1811.3,2207.9 1814.5,2209 1817.7,2210.1 1820.9,2211.1 1824.1,2210.3 1827.3,2209.4 1830.5,2208.6 1833.6,2207.7 1836.8,2206.9" fill="none" stroke="#0000ff" stroke-width="3.5" stroke-linejoin="round" stroke-linecap="round"/>
<polyline points="1295,2217.8 1298.6,2218.9 1302.2,2222.4 1305.8,2225.9 1309.2,2222.5 1312.6,2222.7 1316.1,2222.8 1319.5,2219 1322.9,2218.9 1326,2218.2 1329.1,2213.2 1332.1,2212 1335.2,2212.4 1338.3,2213.3 1341.3,2210 1344.4,2210.2 1347.5,2210.3 1350.5,2208.4 1353.6,2210.7 1356.7,2212 1359.7,2210.7 1362.8,2211.2 1365.9,2214 1368.9,2213.1 1372,2215.3 1375.1,2214.2 1378.1,2214.1 1381.2,2215.9 1384.3,2218.1 1387.3,2217 1390.4,2218.1 1393.5,2219.3 1396.5,2217.6 1399.6,2220.3 1402.7,2217.3 1405.7,2219.2 1408.8,2218.7 1411.9,2221.2 1414.9,2226.9 1418,2226.7 1421.1,2231.9 1424.1,2233.4 1427.2,2238.1 1430.3,2240.6 1433.3,2238.3 1436.4,2243.3 1439.5,2243 1442.5,2244.9 1445.6,2243.6 1448.7,2247.3 1451.7,2248.5 1454.8,2250.7 1457.9,2250.5 1460.9,2249.5 1464,2253.2 1467.1,2254.4 1470.1,2253.5 1473.2,2257.5 1476.3,2255 1479.3,2257.8 1482.4,2258.6 1485.5,2260.5 1488.5,2258 1491.6,2258.8 1494.7,2261.2 1497.8,2260.8 1500.9,2262.9 1504.1,2260.1 1507.2,2262.5 1510.3,2261 1513.5,2264.2 1516.6,2262.3 1519.8,2262.8 1522.9,2263.5 1526,2265.5 1529.2,2265.5 1532.3,2264.5 1535.4,2264.8 1537.6,2260.5 1541.9,2183.2 1545.3,2183.2 1548.7,2183.2 1552.2,2183.2 1555.6,2183.2 1559.1,2183.2 1562.1,2183.9 1565.2,2184.5 1568.3,2185.1 1571.3,2185.7 1574.4,2186.3 1577.5,2186.9 1580.5,2187.5 1583.6,2188.5 1586.7,2189.4 1589.7,2190.3 1592.8,2191.2 1595.9,2192.1 1598.9,2193.1 1602,2194 1605.1,2194.6 1608.1,2195.2 1611.2,2195.8 1614.2,2196.4 1617.3,2197 1620.4,2197.7 1623.4,2198.3 1626.5,2198.9 1629.6,2199.5 1632.6,2200.1 1635.7,2200.7 1638.8,2201.3 1641.8,2201.9 1644.9,2202.6 1648.1,2212.4 1651.4,2222.7 1654.6,2235.8 1657.8,2244.7 1661.2,2246.1 1664.7,2242.6 1668.1,2245.4 1671.5,2247.3 1675,2247.4 1678.2,2246 1681.4,2248.2 1684.6,2249.1 1687.8,2252.3 1691.1,2252.7 1694.3,2249.4 1697.5,2252.9 1700.7,2250.5 1703.9,2251.3 1707.2,2249.4 1710.4,2251 1713.6,2252.7 1716.8,2253.2 1720,2252.5 1723.3,2253.5 1726.5,2251.6 1729.7,2252.3 1732.9,2247.9 1736.1,2246.8 1739.4,2247 1742.6,2248.4 1745.8,2244 1749,2245.9 1752.2,2242.7 1755.2,2239.8 1758.3,2240.3 1761.3,2241 1764.3,2238.3 1767.3,2237.3 1769.4,2234.8 1773.7,2131.7 1776.9,2126.4 1780.1,2121 1784.4,2126.4 1788.7,2131.7 1792,2146.8 1795.2,2161.8 1799.5,2174.7 1803.8,2187.5 1807,2189.7 1810.2,2191.8 1813.4,2194 1816.6,2196.1 1820,2196.1 1823.4,2196.1 1826.7,2196.1 1830.1,2196.1 1833.5,2196.1 1836.8,2196.1" fill="none" stroke="#ff00ff" stroke-width="3.5" stroke-linejoin="round" stroke-linecap="round"/>
<polyline points="1295,2207.6 1298.1,2206.7 1301.2,2207.9 1304.3,2206.3 1307.4,2207.2 1310.5,2204.5 1313.6,2205.4 1316.7,2204.1 1319.8,2203.5 1322.9,2203.5 1326,2203.7 1329.1,2203.2 1332.1,2204 1335.2,2203.6 1338.3,2202.3 1341.3,2203.3 1344.4,2202.1 1347.5,2203 1350.5,2201.6 1353.6,2200.6 1356.7,2200.4 1359.7,2202.4 1362.8,2201.1 1365.9,2200.7 1368.9,2200.7 1372,2200.4 1375.1,2199.4 1378.1,2201.1 1381.2,2201 1384.3,2201.5 1387.3,2200.3 1390.4,2200.2 1393.5,2202.5 1396.5,2204.2 1399.6,2205.6 1402.7,2205.9 1405.7,2207.4 1408.8,2208.8 1411.9,2211.4 1414.9,2210.3 1418,2211.6 1421.1,2215.2 1424.1,2215.3 1427.2,2214.9 1430.3,2216.7 1433.3,2218.5 1436.4,2220.1 1439.5,2222.3 1442.5,2223 1445.6,2222.7 1448.7,2225.5 1451.7,2226.8 1454.9,2224.9 1458.2,2222.8 1461.4,2221.6 1464.6,2221.2 1468.9,2222.8 1473.2,2226.1 1476.4,2226.3 1479.6,2224.3 1482.8,2222.3 1486.1,2223.2 1489.5,2224.5 1492.9,2226.4 1496.4,2228.8 1499.8,2231 1503.2,2234.9 1506.5,2231.8 1509.7,2231.6 1512.9,2227.4 1516.1,2227 1519.3,2231.6 1522.6,2237.3 1525.8,2240.8 1529,2245.6 1532.2,2252 1535.4,2256.9 1537.6,2261.5 1541.9,2186.7 1545.1,2184.4 1548.3,2181.4 1551.5,2178.6 1554.8,2174.8 1558.2,2171.9 1561.6,2172.7 1565.1,2170.6 1568.5,2169.3 1571.9,2168.8 1575.4,2168.9 1578.8,2167.4 1582.2,2167.8 1585.7,2167.1 1589.1,2165.9 1592.5,2166.8 1596,2166 1599.4,2167.9 1602.8,2165.4 1606.3,2166.1 1609.7,2165.7 1613.1,2167.7 1616.6,2165.3 1620,2165.2 1623.4,2165.4 1626.5,2164.8 1629.6,2166.5 1632.6,2165.7 1635.7,2166.9 1638.8,2165.2 1641.8,2167.1 1644.9,2166.1 1649.2,2174.3 1653.5,2183.3 1657.8,2193 1662.1,2204.1 1665.3,2202.4 1668.5,2201.4 1671.7,2197.1 1675,2196.1 1678.2,2198.2 1681.4,2200.6 1684.6,2201.3 1687.8,2206 1691.1,2203.5 1694.3,2202.4 1697.5,2200.8 1700.7,2201.1 1705,2205.2 1709.3,2208.5 1712.5,2208.2 1715.8,2205.5 1719,2205.3 1722.2,2203.3 1725.4,2205.2 1728.6,2204.6 1731.9,2206.7 1735.1,2206.3 1738.3,2206 1741.5,2206.5 1744.7,2207.1 1747.9,2209.6 1752.2,2206.5 1756.5,2204.1 1760.1,2204.1 1763.7,2200.7 1767.3,2200.2 1770.5,2170.7 1773.7,2141.4 1778,2138.8 1782.3,2140.5 1786.6,2144.4 1790.9,2149.7 1795.2,2158.3 1799.5,2165.9 1802.7,2167 1805.9,2169.6 1809.1,2170.2 1812.3,2169.2 1815.4,2171.7 1818.5,2169 1821.5,2171.4 1824.6,2168.9 1827.6,2171.2 1830.7,2171.7 1833.8,2170 1836.8,2171.7" fill="none" stroke="#000000" stroke-width="3.5" stroke-linejoin="round" stroke-linecap="round"/>
<polyline points="1295,2199.6 1298.6,2208.6 1302.2,2211.2 1305.8,2215.8 1309.2,2216.1 1312.6,2212.3 1316.1,2208.5 1319.5,2201 1322.9,2199.9 1326.5,2190.7 1330.1,2181.8 1333.7,2173.7 1337.2,2181.9 1340.8,2191.9 1344.4,2197.5 1348.7,2190.1 1353,2181.8 1356.2,2184.2 1359.4,2188.6 1362.6,2196.2 1365.9,2199.5 1370.2,2181.4 1373.4,2186.6 1376.6,2191.5 1379.8,2195.1 1383,2197.6 1387.3,2189.2 1391.6,2182.9 1394.8,2190.6 1398.1,2193.2 1401.3,2202.2 1404.5,2205.2 1407.7,2203.5 1410.9,2207.2 1414.2,2210.8 1417.4,2207.8 1420.6,2216.4 1423.8,2220.7 1427,2223.6 1430.3,2232.3 1433.3,2230.5 1436.4,2233.7 1439.5,2237.6 1442.5,2235.1 1445.6,2241.9 1448.7,2240.6 1451.7,2244.2 1454.8,2244.8 1457.9,2247.5 1460.9,2244.6 1464,2247.2 1467.1,2246.9 1470.1,2245.2 1473.2,2247.4 1476.3,2251.1 1479.3,2251.3 1482.4,2247.8 1485.5,2250.5 1488.5,2249.5 1491.6,2249.7 1494.7,2250 1497.7,2252.1 1500.8,2253.1 1503.9,2251.8 1506.9,2257.3 1510,2252 1513.1,2255.4 1516.1,2257.2 1519.3,2259.6 1522.6,2261.6 1525.8,2262.7 1529,2262.5 1532.2,2265.2 1535.4,2267 1537.6,2267 1539.7,2123.1 1543,2125.3 1546.2,2127.4 1549.4,2130.7 1552.6,2133.9 1555.8,2137.1 1559.1,2140.3 1562.3,2145.7 1565.5,2151 1568.7,2156.4 1571.9,2161.8 1575.4,2164.4 1578.8,2166.9 1582.2,2169.5 1585.7,2172.1 1589.1,2174.7 1592.5,2176.4 1596,2178.1 1599.4,2179.8 1602.8,2181.5 1606.3,2183.2 1609.7,2185 1613.1,2186.7 1616.6,2188.4 1620,2190.1 1623.4,2191.8 1626.9,2193.5 1630.3,2195.3 1633.8,2197 1637.2,2198.7 1640.6,2200.4 1644.9,2204.7 1648.1,2213.6 1651.4,2229.3 1654.6,2242.3 1657.8,2248.5 1661.2,2254.2 1664.7,2258.6 1668.1,2255.9 1671.5,2255.1 1675,2264.3 1678.4,2259 1681.8,2261.2 1685.3,2259.6 1688.7,2256.5 1692.1,2260.1 1695.6,2260.6 1699,2254.5 1702.4,2255.1 1705.9,2263 1709.3,2260.1 1712.4,2256.2 1715.4,2262.9 1718.5,2260.5 1721.6,2260.3 1724.6,2255 1727.7,2257.5 1730.8,2254 1733.8,2258.1 1736.9,2252.9 1740,2253.7 1743,2250.9 1746.1,2254.1 1749.2,2251.9 1752.2,2247.6 1755.2,2249.3 1758.3,2242.9 1761.3,2243.8 1764.3,2237.6 1767.3,2236.4 1769.4,2234.8 1773.7,2002.9 1778,1996.5 1782.3,1990.1 1786.6,1998.6 1790.9,2007.2 1795.2,2045.9 1798.4,2088.8 1801.6,2131.7 1805.2,2143.2 1808.8,2154.6 1812.3,2166.1 1815.8,2168.6 1819.2,2171.2 1822.6,2173.8 1826.1,2176.4 1829.5,2178.9 1833.2,2176.8 1836.8,2174.7" fill="none" stroke="#800080" stroke-width="3.5" stroke-linejoin="round" stroke-linecap="round"/>
<polyline points="1295,2241.5 1298.6,2244.5 1302.2,2241.1 1305.8,2243.3 1309,2252.6 1312.2,2261 1316.5,2243.7 1320.8,2223.4 1324,2237.1 1327.2,2245.2 1331.5,2231.8 1335.8,2219.3 1340.1,2232.2 1344.4,2244.4 1347.6,2232.4 1350.8,2216 1354.1,2225 1357.3,2233.3 1361.6,2225.6 1365.9,2215.7 1370.2,2228.4 1374.4,2233.2 1378.7,2228.6 1383,2219.3 1387.3,2234.1 1391.6,2241 1394.8,2238.6 1398.1,2239.2 1401.3,2239.3 1404.5,2235.5 1407.7,2237.3 1410.9,2236.6 1414.2,2240.8 1417.4,2237.5 1421.7,2231.9 1426,2231 1430.3,2241.2 1434.6,2250.1 1438,2250.3 1441.4,2254.2 1444.9,2253 1448.3,2253.2 1451.7,2259.1 1454.8,2259.7 1457.9,2255.4 1460.9,2255.1 1464,2260.1 1467.1,2259.1 1470.1,2261.4 1473.2,2257.8 1476.3,2263.4 1479.3,2262.5 1482.4,2263.8 1485.5,2259 1488.5,2262.2 1491.6,2264.4 1494.7,2260 1497.7,2263.4 1500.8,2262.3 1503.9,2262.1 1506.9,2261.7 1510,2260.6 1513.1,2262.5 1516.1,2260.2 1519.3,2261.2 1522.6,2262.2 1525.8,2261.1 1529,2259.2 1532.2,2260.5 1535.4,2260.5 1537.6,2260.5 1541.9,2166.1 1545.1,2155.3 1548.3,2144.6 1551.9,2143.9 1555.5,2143.2 1559.1,2142.5 1562.3,2144.1 1565.5,2145.7 1568.7,2147.3 1571.9,2148.9 1576.2,2183.2 1580.5,2161.8 1583.7,2162.8 1587,2163.9 1590.2,2165 1593.4,2166.1 1596.6,2168.2 1599.8,2170.4 1603.1,2172.5 1606.3,2174.7 1610.6,2177.9 1614.9,2181.1 1619.2,2182.2 1623.4,2183.2 1626.7,2185.9 1629.9,2188.6 1633.1,2191.3 1636.3,2194 1639.5,2182.2 1642.8,2170.4 1644.9,2200.4 1649.2,2218.4 1653.5,2231.9 1657.8,2246.9 1662.1,2251.4 1666.4,2245.1 1670.7,2240.1 1675,2249.5 1679.3,2258.6 1683.6,2252.6 1687.8,2241.8 1692.1,2254.7 1696.4,2262.3 1700.7,2251.6 1705,2239.9 1709.3,2249.1 1713.6,2255 1717.9,2246.3 1722.2,2240.1 1726.5,2245.2 1730.8,2254.1 1735.1,2218.4 1739.4,2239 1743.7,2254.2 1747.9,2248.8 1752.2,2239.1 1756.5,2239.6 1760.8,2241.2 1764,2241.1 1767.3,2232.3 1771.6,1994.3 1774.8,1983.6 1778,1972.9 1781.2,1979.3 1784.4,1985.8 1787.7,2002.9 1790.9,2020.1 1795.2,2067.3 1799.5,2114.6 1803.8,2157.5 1808.1,2166.1 1812.3,2174.7 1816.6,2176.8 1820.9,2178.9 1825.2,2172.5 1829.5,2166.1 1833.8,2140.3 1836.8,2153.2" fill="none" stroke="#ff0000" stroke-width="3.5" stroke-linejoin="round" stroke-linecap="round"/>
<polyline points="1294.9,2190.9 1295.7,2213 1296.5,2189.4 1297.2,2229.1 1298.2,2206.3 1299.1,2232.5 1299.7,2193.1 1300.5,2213.4 1301.4,2199.2 1302,2222.9 1303.4,2210.1 1304.1,2224.2 1305.3,2207.6 1306.7,2245 1307.3,2226.7 1308.6,2241.7 1309.8,2210.2 1311,2236.7 1312.3,2219.6 1313.4,2224.4 1314,2209.5 1315,2233.6 1316.1,2200.7 1317.3,2215.6 1318.2,2193.6 1318.9,2222.6 1319.9,2195.5 1321.3,2231.3 1322.4,2196.6 1323.3,2223.6 1324.7,2183.9 1326.1,2230.5 1327.1,2181.1 1328,2216.4 1329.2,2193.3 1330.3,2228 1331.1,2196.2 1332,2202.4 1332.7,2178.2 1333.6,2216.7 1334.4,2193 1335.6,2202.7 1336.6,2174.9 1337.4,2207.7 1338.1,2180.1 1339.2,2203.9 1340.4,2195.7 1341.6,2213.6 1342.5,2190.5 1343.8,2218.4 1344.6,2189 1345.7,2212.4 1346.5,2189.7 1347.8,2214.9 1348.7,2194 1349.4,2202.6 1350.5,2187.4 1351.5,2221.7 1352.6,2171.4 1353.5,2221.4 1354.6,2183.1 1355.8,2221.5 1356.4,2196.4 1357.6,2219.2 1358.7,2193.5 1360,2214.1 1360.6,2187.3 1361.8,2206.8 1363.2,2184.4 1364,2217.5 1364.7,2198 1365.6,2223.5 1366.3,2198.7 1367.2,2204 1368.3,2193.9 1369,2213.8 1370.1,2182.2 1371,2228.8 1372.2,2184.2 1373.6,2225.6 1375,2180.2 1375.7,2223.8 1376.6,2191.6 1377.3,2228.8 1378.1,2187.9 1379,2209.5 1380.4,2198.6 1381.8,2221.4 1382.7,2202 1383.8,2229.9 1385.1,2209.2 1386.4,2220.6 1387,2193.4 1388.3,2215 1389.3,2205.1 1390.3,2219.9 1391.3,2196.2 1392.1,2210.1 1393.1,2196.7 1394.5,2216.9 1395.2,2184.6 1396.2,2227.7 1397.3,2204 1398.7,2223.1 1400.1,2183.4 1401.4,2226.9 1402.2,2179.5 1402.9,2213.7 1404.1,2188 1405.3,2210.2 1406.4,2192.1 1407.4,2210.9 1408.5,2193.7 1409.2,2220.9 1410.6,2199.7 1411.5,2215.6 1412.6,2193.5 1413.7,2216.8 1414.8,2204.4 1415.8,2224.5 1417.2,2198.9 1418.3,2210.4 1419,2198.5 1419.7,2220.1 1420.3,2204.1 1421.5,2215.8 1422.3,2206 1423.6,2215.7 1424.8,2208.6 1426.2,2221.6 1427.5,2210.6 1428.9,2224.4 1429.7,2217.5 1430.4,2232.2 1431.9,2209.6 1433.3,2231.8 1434.7,2215.6 1435.9,2235.6 1437.1,2226.6 1438.4,2232.5 1439.1,2217.5 1440.2,2231 1441.6,2223.9 1442.8,2239.6 1443.5,2222.3 1444.3,2243.6 1445.1,2221.7 1446.5,2239.1 1447.5,2225.8 1448.9,2248 1449.8,2231.5 1450.9,2238 1451.8,2224.2 1453.2,2240 1454.7,2234.2 1455.9,2245.3 1456.8,2229 1457.8,2243 1458.8,2234.5 1459.6,2248.4 1460.5,2234.8 1461.6,2244.7 1462.3,2229.4 1463.6,2244.3 1465,2234.1 1466.1,2241.4 1466.9,2230.7 1467.8,2248.2 1468.7,2233.8 1469.7,2240.2 1471.2,2239.2 1471.9,2249.2 1473.1,2234.4 1474,2248.1 1475.2,2233.5 1476.6,2246.8 1477.8,2241 1478.6,2246.1 1479.7,2232.6 1481,2247.4 1482.5,2235.8 1483.5,2253.4 1484.4,2242.3 1485.4,2254.5 1486.8,2245.3 1488.2,2256.7 1489.5,2243.9 1490.4,2254.3 1491.4,2246.1 1492.2,2249.8 1493.5,2240.7 1494.7,2253.4 1495.4,2241.3 1496,2252.2 1497.4,2240.6 1498.2,2250.5 1498.9,2241 1499.9,2249.4 1500.8,2241.7 1501.6,2254.5 1502.9,2241.1 1503.6,2250.4 1504.7,2246.2 1505.5,2251.6 1506.3,2246 1507.2,2257.4 1507.9,2244.7 1509.1,2252.5 1510.3,2249.7 1511.4,2250.4 1512.1,2243.3 1513,2256.4 1514.2,2247.1 1515,2252.3 1516.1,2244.3 1517,2255 1518.2,2244.8 1519.4,2253.6 1520.1,2250.9 1521.2,2251.8 1522,2250.6 1522.9,2253.1 1524.2,2250.3 1525.6,2256.1 1526.7,2248 1527.5,2255 1528.2,2251.2 1529.6,2253.9 1530.5,2252.1 1531.7,2255.7 1532.8,2253.3 1534.2,2259.2" fill="none" stroke="#800080" stroke-width="3.2" stroke-linejoin="round" stroke-linecap="round"/>
<polyline points="1294.9,2189.7 1295.7,2201.8 1296.6,2183.7 1297.9,2199 1298.7,2188.4 1300.4,2200.8 1301.2,2188.3 1302.7,2203.7 1304.4,2203 1305.5,2215.1 1306.7,2204.2 1308.1,2217.9 1309.2,2204 1310.3,2221.6 1311.1,2206.3 1311.9,2213.8 1312.8,2201.3 1314.5,2213.3 1316,2198.4 1317.2,2204.5 1318.6,2193.7 1320.3,2205.8 1321.8,2187.8 1322.9,2198.4 1324.2,2182.9 1325.1,2196.8 1326.8,2176.4 1328.2,2187.6 1329.1,2175.9 1330.3,2186.3 1331.4,2167.5 1332.5,2182.6 1334.1,2167.7 1335,2182.2 1336.7,2170.3 1338.3,2184 1339.8,2176.4 1341,2187.3 1342.2,2176.7 1343.9,2190.9 1345.5,2174.5 1346.8,2189.8 1348,2175.1 1349,2194.4 1349.8,2174 1350.8,2185.6 1351.7,2173.3 1353.2,2181.3 1354,2174.1 1355.6,2185.4 1357.3,2168.6 1358.4,2180.2 1360,2170.3 1360.9,2179.2 1361.9,2167 1363.3,2184.8 1364.2,2172.5 1365,2184.6 1366.6,2174.8 1367.5,2188.3 1368.8,2178.7 1370.1,2190.2 1370.9,2177.8 1372.3,2190.2 1373.9,2180.8 1375.2,2196.9 1376.7,2181 1377.8,2195.7 1379.4,2181.1 1381,2197.7 1381.8,2186.5 1382.8,2203.8 1384.5,2194.4 1385.7,2210.1 1387,2195.6 1387.8,2204.3 1388.9,2188.3 1390,2199.2 1391.1,2192.1 1392.3,2204.5 1393.5,2190.6 1395,2199.3 1396,2183.9 1397.4,2193.5 1398.9,2182.5 1399.8,2192.5 1401.5,2179.1 1403.1,2188.5 1403.9,2182.3 1404.8,2191.3 1406.3,2181.3 1407.4,2192.4 1408.1,2180.1 1409.3,2201.1 1410.9,2181.8 1412.4,2202.4 1413.5,2192.3 1414.8,2204.7 1415.6,2189 1417.3,2207.2 1418.1,2191.4 1419.6,2209.2 1420.9,2198 1422.1,2213.5 1423,2197 1424.5,2216.4 1426.2,2198.4 1427.3,2214.6 1428.4,2208.6 1429.8,2220.4 1430.7,2210.7 1432.4,2228.1 1433.7,2210.3 1435.2,2230.1 1436,2212 1437.5,2228.2 1438.8,2220.5 1439.9,2232.1 1440.8,2217.8 1441.9,2229.3 1442.8,2221 1444.4,2234.4 1445.9,2219.1 1447.6,2239 1449.3,2225.7 1450.8,2239.7 1452.4,2227.4 1453.5,2238.2 1454.7,2229 1456.1,2243.8 1456.9,2224.4 1457.8,2237.6 1459.5,2231.7 1460.7,2242 1462.1,2225 1463.6,2243.2 1464.8,2233.5 1466.3,2241.8 1467.1,2226.4 1467.9,2239.5 1468.7,2230.8 1470.2,2241.9 1471.7,2233.1 1472.7,2248.1 1474.2,2233.6 1475.7,2244.6 1477,2231.5 1477.9,2245.2 1478.9,2237.1 1480.4,2250 1481.8,2238.1 1482.6,2252.7 1484,2239.9 1485.2,2246.7 1486.3,2240.7 1487.3,2248.1 1488.5,2238.6 1490.2,2252 1491.1,2238.2 1492.2,2250.3 1493.6,2242.4 1494.6,2249.9 1496.2,2244.1 1497,2255.3 1497.9,2240.9 1499.2,2254.8 1500.8,2237 1502.5,2253.4 1503.7,2242.5 1504.5,2251 1505.4,2239.5 1506.8,2252.8 1507.7,2239.1 1509.1,2256.7 1510.2,2240.7 1511.5,2254.3 1513.2,2247.9 1514.7,2255.1 1515.5,2242.8 1516.4,2258.6 1517.9,2246.2 1519.3,2256 1520.2,2242 1521.3,2261.9 1522.5,2244 1524.1,2262.7 1525.3,2246.1 1526.5,2265.3 1528.2,2248.7 1529.7,2266.2 1530.7,2247.6 1531.7,2262.8 1533,2255.3 1534.3,2273.1 1535.1,2255.8" fill="none" stroke="#00ffff" stroke-width="3" stroke-linejoin="round" stroke-linecap="round"/>
<polyline points="1294.9,2180.5 1296.1,2187.6 1297.2,2179.5 1298.9,2184.5 1300,2176.8 1301,2187 1302,2182.6 1303.7,2197.5 1304.7,2191.5 1306.2,2207.9 1307,2201.7 1307.9,2209 1309.1,2199.5 1310,2207.5 1311.5,2194.2 1313,2203.3 1313.9,2192.8 1315.5,2199.5 1316.5,2187.8 1317.5,2195.4 1318.7,2183.5 1320.1,2191.8 1321,2181.8 1322.3,2184.7 1324,2174 1325.3,2181.8 1326.3,2171.7 1327.3,2177.3 1328.8,2165.1 1329.7,2172.5 1331,2161.8 1332.6,2168.3 1333.6,2160.9 1334.4,2169.2 1335.6,2161.7 1336.5,2174.2 1337.5,2165.9 1339.3,2174.7 1340.2,2168.3 1341,2174.7 1342.2,2168 1343.4,2176.6 1344.2,2167 1345.8,2177.5 1346.7,2168.7 1347.8,2177.2 1349.4,2167.5 1350.7,2174.1 1351.9,2165 1352.8,2168.9 1354.3,2162.2 1356,2168.5 1357,2162.9 1357.9,2168 1359.5,2160.4 1360.7,2169.4 1361.5,2161.1 1363,2169.1 1364.3,2165.9 1365.8,2176.5 1367.6,2169.7 1369.2,2182.4 1370.9,2171.6 1371.7,2182.9 1373.3,2172.5 1374.5,2178.6 1375.9,2171.2 1377.2,2180.2 1378.2,2172.6 1379.1,2178.7 1380.7,2177.2 1381.5,2190.6 1383,2186.6 1383.9,2197.4 1385.4,2186.4 1386.7,2192.7 1387.5,2184.9 1388.7,2193.1 1389.7,2183 1390.9,2190 1392.3,2179.6 1393.6,2187.7 1394.4,2179.9 1395.9,2183.7 1396.8,2177.9 1398.4,2185 1399.8,2174.9 1401.1,2180.2 1402.3,2171.4 1403.7,2181.6 1404.4,2171.7 1406,2179.2 1407.8,2176.3 1409.1,2185.4 1410.7,2178 1411.6,2187.6 1413.3,2182.2 1414.8,2189.3 1415.6,2182.2 1416.8,2193.2 1418,2187.4 1419.6,2196.6 1420.6,2190.7 1421.4,2195.4 1422.7,2190.4 1423.9,2200.2 1425.4,2192.9 1426.8,2205.4 1427.7,2198.2 1429.4,2208.9 1431.1,2202.5 1432.4,2211.4 1433.6,2206 1434.9,2215.6 1436.7,2207.8 1438,2218.1 1439,2208.3 1440.6,2220.7 1441.7,2212.8 1442.5,2217.7 1443.4,2214.4 1445,2221.5 1446.6,2213.8 1447.4,2221.6 1448.8,2217.6 1449.9,2222.9 1451.4,2219.2 1452.2,2224.9 1453.4,2218.3 1454.2,2225.2 1455.3,2220.3 1456.3,2226.1 1458,2219.2 1459.7,2227.1 1460.8,2220.2 1461.9,2231.1 1463,2220.2 1464.5,2232.2 1466.1,2222.3 1467.3,2228.5 1468.3,2224.5 1469.9,2231.9 1470.9,2224.6 1472.2,2232.4 1473.9,2224.4 1475.2,2231.6 1476.9,2223.2 1478.1,2232.6 1479.5,2225 1480.8,2235.5 1482.2,2226.8 1483.2,2234.7 1484.2,2227.9 1485.4,2235.2 1486.2,2228.4 1487.5,2241.2 1488.9,2230 1489.7,2239.9 1490.9,2233.2 1492.6,2241 1493.4,2232.4 1495.1,2240.5 1495.9,2231.7 1497,2241.8 1498.6,2234.6 1499.7,2241.4 1501.3,2234.7 1502.6,2242.9 1504,2233.2 1505.7,2242.7 1506.9,2234.6 1508.1,2243.4 1509.5,2235.7 1510.6,2243.7 1511.9,2236.8 1513.5,2245.6 1514.9,2237.8 1515.7,2247.5 1516.9,2236.4 1518.5,2246.5 1519.5,2238.1 1520.5,2248.5 1521.8,2237.4 1522.9,2245.9 1524,2239.7 1525.6,2250.5 1526.6,2241.4 1527.8,2247 1528.8,2242.7 1529.6,2250.3 1530.5,2244.4 1531.9,2253.9 1533.6,2248 1534.9,2257.4" fill="none" stroke="#00ff00" stroke-width="3" stroke-linejoin="round" stroke-linecap="round"/>
<polyline points="1294.9,2209 1295.7,2217.3 1297.2,2206 1298.6,2220.5 1299.7,2206.1 1301,2229.6 1302.2,2216.2 1303.1,2225 1304.1,2216.4 1304.9,2236.9 1306.6,2225.3 1308.2,2235.4 1309.3,2223.7 1310.7,2233.4 1311.8,2222.3 1313.2,2232.6 1314.5,2214.4 1316,2229.6 1317.2,2214.4 1318.7,2228.6 1320,2208.3 1321.4,2223.9 1322.7,2210.3 1323.6,2216.3 1324.8,2200.7 1325.6,2220.9 1327,2199.4 1328.6,2216.6 1329.7,2192.1 1331.3,2212.4 1332.9,2197.9 1334.4,2218.2 1336.1,2201.3 1337.8,2217.4 1338.9,2201.2 1339.8,2213.9 1341,2195.7 1342.5,2209.7 1343.3,2200.3 1344.9,2216.1 1345.9,2201.8 1347.3,2211.1 1348.1,2200 1349.8,2213.8 1351,2197.2 1352.5,2211.4 1354.3,2195 1355.9,2215.5 1357.2,2196.1 1358,2206 1358.9,2191.3 1360.3,2210.1 1361.9,2193.5 1363.6,2206.5 1365.2,2200.5 1366.8,2211.2 1368.3,2202.5 1369.1,2218.1 1370.2,2204.2 1371.9,2218.3 1373.1,2196.8 1374.6,2213 1376,2198.8 1377.3,2221.7 1378.9,2198.1 1380.4,2216.6 1381.2,2204.8 1382.4,2221.3 1384.1,2209.8 1385.4,2220.5 1386.3,2210.5 1387.1,2224.5 1388,2208.4 1389.2,2222.5 1390.6,2210.3 1392,2219.5 1393.2,2205.9 1394.1,2219.1 1395.7,2200.6 1396.7,2221.2 1397.5,2202.5 1399.1,2219.7 1400.6,2198.3 1402,2211.8 1403.4,2204.2 1404.2,2215 1405.3,2199.6 1406.8,2213.5 1407.6,2200.3 1408.5,2218.1 1409.5,2206.6 1410.3,2216.3 1412,2200.2 1413,2213.6 1414.2,2202.8 1415,2221.7 1416.7,2209.5 1418,2217.9 1419.3,2206.6 1420.7,2220.8 1422,2208 1423,2216 1423.8,2212.4 1425.1,2218.9 1426.1,2213.2 1427.1,2222.1 1428,2214.4 1429.3,2225.6 1430.7,2215.2 1431.5,2229.7 1432.7,2217.9 1433.8,2230.3 1435.2,2226.7 1436.2,2236.6 1437.2,2227.2 1438.1,2237 1439.3,2224.5 1440.4,2237.2 1441.7,2227.5 1442.7,2239.8 1444.5,2228.2 1445.8,2237.2 1447,2232.9 1448,2241.5 1449.1,2232.1 1449.9,2242.1 1451.6,2235.8 1452.6,2243.7 1453.3,2233.9 1454.1,2244.6 1455.8,2235.6 1456.8,2247.2 1457.8,2235.2 1458.9,2247.5 1460,2238.1 1461.2,2246 1462.3,2235.9 1463.5,2241.9 1465,2234.4 1465.8,2243.4 1466.9,2234.6 1468.5,2246 1469.9,2237.8 1471.5,2247.4 1472.6,2235.8 1473.8,2247.5 1475.1,2236.2 1476.3,2244.2 1477.6,2239.2 1478.9,2247.6 1480.1,2241.3 1481.7,2250 1482.8,2243.2 1484.2,2249.8 1485.1,2243.5 1486.3,2248.7 1487.1,2244.3 1488.3,2253.4 1489.1,2241.4 1490.2,2249.8 1491.1,2244.5 1492,2251.5 1492.9,2245.4 1494.1,2251.9 1495.3,2246.8 1496.5,2253 1498.3,2242.9 1499.5,2252.9 1501.1,2244.1 1501.9,2252.3 1502.9,2245.9 1503.7,2253.2 1505,2247.7 1506.1,2253.2 1507.5,2244.5 1508.7,2252.8 1509.6,2245.9 1511,2253.6 1511.8,2244.8 1513.5,2252.2 1514.4,2246.5 1515.9,2253.1 1516.8,2246.2 1518.1,2251.6 1519.8,2247.2 1520.7,2254.1 1521.8,2247.8 1523,2254.1 1524.1,2248.3 1525.3,2252.2 1526.6,2249.9 1528.1,2254.2 1528.9,2248.2 1529.8,2254.4 1530.8,2249.5 1531.9,2256.5 1533.6,2254 1534.9,2257.5" fill="none" stroke="#800080" stroke-width="3" stroke-linejoin="round" stroke-linecap="round"/>
<polyline points="1294.9,2210.6 1296.3,2224.4 1297.4,2210.2 1299.4,2232 1300.8,2213.5 1301.7,2233.7 1302.9,2217.5 1304.1,2232.8 1305.8,2226.5 1307,2240.9 1308,2227.8 1309.6,2240.6 1311.1,2224.5 1312,2238.5 1313.4,2223.9 1314.6,2235.6 1315.5,2218.5 1316.6,2232.3 1318.1,2219.8 1319.8,2225.3 1320.9,2216.8 1322.3,2223.7 1323.5,2213.4 1324.5,2222.2 1325.4,2212.7 1326.3,2219.2 1327.4,2207.6 1328.4,2225.1 1329.4,2207 1331,2220.8 1332.1,2208 1333.2,2223.7 1334.9,2206.2 1336.9,2219.6 1338.6,2200.7 1340.1,2214.5 1341.9,2204.6 1343.1,2220 1344.1,2207.5 1345.4,2213.9 1346.9,2202.4 1347.8,2214 1349.8,2202 1350.7,2218 1351.8,2198.7 1353.2,2213.1 1354.8,2202.2 1356.6,2215.1 1358.6,2196.5 1359.5,2219.4 1361.3,2201.8 1362.7,2216.9 1364.5,2204.4 1365.7,2216.6 1367.4,2206.1 1368.9,2223.1 1370.3,2208.1 1371.9,2220.7 1372.9,2210.7 1374.9,2226 1376.1,2208.3 1377.7,2222 1378.9,2210.1 1380.2,2225.2 1381.1,2215 1382.5,2230.9 1383.3,2215.5 1384.3,2232.1 1385.5,2219.6 1387.5,2227.8 1388.9,2215.1 1390.1,2225.4 1391.1,2209.8 1392.2,2223.5 1393.5,2211 1395.3,2220 1396.2,2206.6 1397.6,2219.2 1399.4,2212.2 1401,2223.6 1402.8,2207.1 1404,2217.5 1405.7,2208.3 1407.3,2219.1 1409.2,2210.9 1410.4,2224.2 1411.8,2208.6 1412.8,2220.8 1414.8,2208.5 1416.7,2218.6 1418,2209.7 1419.7,2220.6 1420.8,2211.6 1421.9,2223.9 1423.9,2210.9 1425.7,2222.8 1427.2,2214.5 1428.6,2225 1429.5,2218 1430.7,2228.6 1432.6,2222.8 1433.6,2231.7 1435.3,2226.9 1437,2240.1 1439,2231.9 1440.2,2240 1441.2,2233.2 1443.2,2238.2 1444.9,2235.9 1446.8,2241.1 1448,2237.3 1449.8,2245.3 1450.7,2236.2 1452.2,2244.4 1454.3,2239 1456.1,2245.9 1458.1,2240.1 1459.4,2247.1 1461.3,2239.4 1463,2249.2 1464.5,2241.3 1466,2244.3 1467,2238.1 1468,2248.3 1469.1,2239.6 1470,2246.2 1471.3,2238.9 1473.3,2246.3 1474.8,2240.1 1476.4,2247.8 1477.5,2243.2 1479.1,2249.7 1480.6,2245.3 1481.6,2249.6 1482.9,2243.4 1483.7,2250.8 1485.2,2247.6 1486.2,2254.7 1488.1,2245.9 1489.7,2252.6 1491.5,2248 1492.7,2251.6 1494.4,2247.7 1495.6,2255.3 1496.9,2245.9 1498.3,2252.7 1500.1,2249 1501.2,2255.2 1502.6,2249.5 1503.5,2253.8 1505.1,2248.3 1506.4,2255.9 1507.4,2249.3 1509.3,2254.7 1510.9,2249.5 1512.5,2256.2 1513.4,2248.6 1514.6,2255.6 1516.4,2248 1517.9,2254.2 1518.8,2251.1 1519.8,2253.3 1521.4,2248.9 1523.2,2254.7 1524.8,2249.7 1525.9,2255.3 1527.6,2251.4 1529.1,2256 1530.3,2250.8 1531.4,2257.4 1533.3,2254.3 1534.7,2258.6" fill="none" stroke="#ff00ff" stroke-width="3" stroke-linejoin="round" stroke-linecap="round"/>
<polyline points="1294.9,2217.4 1296.1,2230.3 1297.7,2218.6 1299.6,2231 1301,2225.1 1302.7,2236.4 1304.5,2231.9 1305.8,2247.5 1308.1,2234.1 1310.3,2243.1 1311.4,2232.9 1313.2,2237.3 1314.7,2227 1316.6,2237.2 1318.3,2225.5 1319.4,2236.6 1321.7,2218.7 1323.9,2230.4 1325.5,2217.2 1327.3,2232.8 1328.3,2215.1 1330.3,2224.3 1331.8,2207.2 1334.1,2230.9 1335.8,2210.4 1337,2225.8 1338.7,2214.1 1340.1,2225.7 1341.7,2215.7 1343.4,2225.9 1345,2211 1346.9,2227.3 1348.4,2215.1 1350,2224.9 1351.4,2212 1352.8,2227.6 1354.6,2207.8 1355.9,2225.9 1357.9,2213.1 1359.5,2228.1 1361.3,2213.1 1363.4,2226 1365.7,2211 1367,2227.8 1369.2,2213.9 1371.3,2226.5 1373.4,2212.9 1375.7,2228.1 1376.8,2217 1378.9,2228.2 1380.5,2223.4 1382.1,2236.9 1384.4,2228.2 1385.7,2236.7 1387.3,2219.6 1388.5,2235.2 1390.7,2216.3 1392.4,2231.4 1394.5,2218.6 1395.7,2229.5 1396.9,2213.7 1398.7,2226.4 1400.6,2215.9 1402.6,2227.7 1404,2217.9 1405,2226.5 1406.5,2215.2 1408.4,2227.8 1409.7,2212.6 1410.9,2224 1413.1,2214.6 1414.6,2230.5 1415.7,2215.2 1417.4,2227 1419.2,2218.4 1421.1,2228.5 1422.7,2216.7 1424.7,2224.4 1426.5,2222.6 1427.8,2231.8 1429.4,2224 1430.4,2232 1432.6,2228.7 1434.9,2240.1 1436.8,2231.3 1438.1,2243.8 1439.5,2237.1 1441.5,2242.8 1443.7,2237 1445,2248.6 1446.9,2239.2 1448.9,2249.1 1449.9,2241.8 1451.1,2250.8 1452.8,2240.8 1455.1,2249.9 1456.6,2243.6 1457.9,2253.6 1460.1,2242.8 1461.1,2250.3 1462.4,2245.9 1463.8,2252.5 1465.7,2244.1 1466.8,2250.7 1468.2,2241.6 1469.9,2249.6 1471.8,2245.1 1474.1,2252.6 1475.5,2246.4 1476.7,2253.8 1478.5,2245.6 1480.1,2254.2 1481.6,2249.5 1483,2255.5 1484.9,2249.1 1486.3,2254.9 1487.4,2250.5 1488.8,2255.7 1490.6,2250.5 1491.9,2254.8 1493.7,2251 1494.9,2257.8 1497.1,2251.4 1499.3,2258.2 1501.1,2252.1 1502.4,2258.9 1504.2,2252 1505.4,2258.3 1506.6,2249.9 1508.1,2257.9 1509.1,2251.5 1510.8,2258.8 1512.7,2253.8 1514.1,2256.7 1515.5,2251.9 1516.7,2256.8 1518.4,2252 1520.2,2257.7 1521.8,2252.8 1523.7,2257.4 1525.8,2252.7 1527.3,2257.7 1528.5,2252.4 1529.8,2257.7 1531.8,2255.5 1533.9,2258.9" fill="none" stroke="#0000ff" stroke-width="2.8" stroke-linejoin="round" stroke-linecap="round"/>
<polyline points="1294.9,2239.7 1296.3,2246.8 1297.2,2235.9 1298.7,2249.7 1299.8,2233 1300.9,2249.8 1301.7,2233.8 1302.6,2252 1303.8,2227.9 1305.2,2252.7 1306,2225 1306.7,2251.4 1308.1,2230 1308.9,2251.4 1310.1,2231.2 1311.2,2250.1 1312.5,2230.2 1313.9,2252.7 1314.8,2228.3 1315.7,2247.2 1317,2220.5 1318.4,2242.4 1319.5,2217.2 1320.6,2245.3 1321.3,2220 1322.3,2245.9 1323.7,2222.5 1324.7,2246.2 1325.9,2218.1 1326.7,2245.1 1327.8,2213.3 1328.8,2240.8 1329.6,2215.8 1330.7,2245.2 1332,2218 1333.1,2242.8 1334.3,2217.1 1335,2243.7 1336.4,2219.2 1337.3,2241.5 1338.2,2215.4 1339.5,2234.6 1340.7,2221.9 1341.5,2234 1342.8,2221 1344,2235.6 1344.8,2219.9 1345.8,2234.2 1346.7,2221.6 1347.7,2236 1348.5,2222.5 1349.2,2236.5 1350.1,2219.4 1351.4,2233.2 1352.7,2216.2 1353.8,2236.5 1355.1,2214 1356.2,2231.7 1357.3,2217.4 1358.3,2233.8 1359.3,2210.8 1360.3,2233.6 1361.7,2216.5 1362.6,2238.6 1363.3,2218 1364,2232.3 1364.8,2214.6 1365.7,2241.4 1366.8,2216.6 1368,2237.7 1368.9,2222.8 1370.2,2240.3 1371,2222.5 1371.8,2241.7 1372.8,2221.3 1374.1,2240.3 1375.1,2226 1375.7,2241.3 1376.8,2224.1 1377.9,2242.3 1378.5,2224.7 1379.5,2246.3 1380.7,2219.5 1382,2247.1 1382.9,2222 1383.9,2247.8 1384.9,2222.4 1386,2245.5 1387,2227.1 1387.9,2244.5 1389.3,2225.5 1390.7,2237.6 1391.7,2224 1392.8,2236.7 1393.6,2226 1394.8,2240.1 1395.5,2228.4 1396.7,2239.9 1397.5,2229.3 1398.5,2239.4 1399.2,2225.6 1400.1,2241.5 1401.5,2228.8 1402.9,2239.1 1403.7,2230.2 1404.7,2238.9 1405.9,2231.2 1407,2239.6 1408.1,2230.1 1408.9,2239.8 1409.9,2231.6 1410.7,2240 1411.4,2229.3 1412.5,2241.1 1413.9,2229.5 1415.2,2238.5 1416.3,2231.6 1417.6,2238.5 1418.7,2230.3 1419.6,2237 1420.3,2229.9 1421,2234.8 1422.2,2229.8 1423.6,2234.4 1424.8,2229.4 1425.9,2235.8 1426.7,2232.1 1428,2242.9 1428.9,2232.3 1430.2,2246 1431,2237.2 1431.7,2247.6 1432.6,2235.4 1434,2249 1434.8,2238.9 1435.9,2248.3 1436.7,2241 1437.6,2251.5 1438.7,2240.5 1439.5,2252.3 1440.8,2241.5 1442,2252.8 1442.9,2242.3 1443.6,2251.4 1444.3,2242.5 1445.3,2252.3 1446.6,2244 1447.9,2256 1448.7,2246.6 1449.6,2256.3 1450.9,2246.5 1452.2,2257.3 1452.9,2248.2 1454.2,2259.6 1455.4,2249.6 1456.4,2259.5 1457.3,2247.5 1458.4,2259.6 1459.2,2250.7 1459.9,2257.7 1460.7,2250.6 1461.7,2259.3 1462.9,2250.7 1464.2,2256.2 1465.6,2249.5 1466.2,2256.4 1467.6,2248.2 1468.8,2257.3 1470.2,2249.9 1470.9,2256.7 1472,2247.4 1473.3,2257.7 1473.9,2250.2 1475.1,2256.6 1476.1,2250 1477.2,2257.7 1477.9,2251.3 1479.1,2259.5 1480.5,2250.6 1481.7,2258.8 1482.7,2250.4 1484,2260.1 1484.7,2250.1 1485.7,2260.7 1486.3,2253 1487,2262.5 1488,2250.1 1489,2261.2 1490.3,2250.9 1491.1,2264.2 1492.3,2252.6 1493,2263.9 1494.2,2254.2 1495.1,2263.5 1496.2,2252.1 1497.4,2264.7 1498.1,2255.9 1498.7,2262.3 1500,2254.2 1500.6,2264.2 1501.3,2253.1 1502.5,2262.7 1503.5,2254 1505,2260.7 1506.1,2252.4 1507.2,2262.5 1508.1,2252.3 1509.1,2261.9 1510.2,2254 1511.6,2259.4 1512.8,2252.5 1513.8,2260.4 1514.5,2254.4 1515.4,2259.2 1516.3,2252.5 1517,2257.8 1517.6,2252.1 1518.8,2258.1 1519.4,2252.4 1520.1,2260 1521.4,2253.3 1522.4,2259.8 1523.2,2253.2 1524.5,2259.9 1525.2,2254.3 1526.5,2260.8 1527.5,2255.2 1528.7,2260.2 1530,2254.8 1531.1,2260.2 1531.9,2255.5 1533.2,2261.6 1534.6,2256" fill="none" stroke="#ff0000" stroke-width="3.2" stroke-linejoin="round" stroke-linecap="round"/>
<polyline points="1648.3,2228.2 1650,2240.5 1652.2,2234.9 1653.3,2244 1654.5,2236.4 1656.7,2247.6 1658.3,2234.5 1660.3,2251.1 1661.7,2246.3 1662.8,2257.1 1664.4,2241.6 1666.3,2253.6 1667.9,2240.4 1669.5,2254.4 1671.3,2246.2 1672.9,2263.5 1674.2,2241 1676.5,2253.6 1678.4,2238.6 1680.3,2263.1 1682.3,2244.2 1684.3,2259.3 1686.1,2242.8 1687.5,2257.9 1689.5,2244.2 1690.6,2259.3 1692.6,2250.5 1693.7,2258.8 1695.5,2243.1 1697.7,2265.8 1699,2246.4 1701.1,2257.4 1703.2,2238.6 1704.4,2265.9 1706.1,2248.1 1707.9,2258.9 1708.9,2244.5 1710.7,2264.8 1711.8,2241.1 1714,2255.9 1715.7,2243.3 1716.7,2260.6 1718.7,2249.5 1721,2260.4 1723.2,2239.1 1724.9,2261.4 1726.7,2245.8 1728.4,2260.3 1729.7,2241.9 1731,2254.3 1732.2,2234 1733.2,2260.2 1735.5,2241.7 1736.6,2261.4 1738.5,2245.9 1740.1,2251 1742,2238.1 1743.6,2247.3 1745.1,2240.7 1747,2249.2 1748.6,2240.9 1750.6,2250.9 1752.1,2229.9 1753.9,2248.8 1755.3,2237.2 1756.6,2241 1758,2235.1 1760.3,2241.9 1762.5,2233.8 1763.8,2238.2" fill="none" stroke="#800080" stroke-width="3.2" stroke-linejoin="round" stroke-linecap="round"/>
<polyline points="1648.3,2222.7 1650.4,2228.3 1651.8,2225.1 1654.3,2230.4 1656.8,2224.9 1658,2232.3 1659.2,2230.6 1661.7,2240.1 1663,2232.3 1665.5,2238.3 1668.1,2230.6 1670.4,2237.5 1672.4,2229.9 1673.7,2240.5 1676,2230.2 1678,2234.8 1679.2,2225.8 1681.3,2238.5 1683,2227.1 1684.2,2237.5 1685.8,2223.6 1688.4,2239.2 1690.7,2228.4 1692.5,2237.4 1694.3,2228.2 1696,2234.1 1697.7,2223.4 1699.1,2236.6 1701.4,2223.3 1703.8,2237 1705.9,2229.7 1707,2234.9 1709.4,2228.7 1711,2238.3 1712.5,2229.8 1714.2,2238.8 1715.8,2229.2 1717.8,2234.4 1720.4,2225.2 1722.6,2238.2 1725.1,2227.8 1726.6,2237 1728,2223.7 1729.4,2234.7 1731,2222.8 1732.5,2237.3 1734.4,2226.1 1735.8,2230.6 1737.1,2221.2 1738.5,2233.1 1741,2224.4 1743,2230.8 1744.2,2221.1 1746.2,2232.6 1748.3,2220.7 1750.2,2229.3 1752.4,2219.3 1754.3,2227.1 1755.6,2220.6 1757.8,2228.5 1760,2218.1 1761.5,2224.3 1763.4,2217" fill="none" stroke="#00ffff" stroke-width="3" stroke-linejoin="round" stroke-linecap="round"/>
<polyline points="1648.3,2224.2 1650.7,2233.1 1652.1,2226.9 1653.2,2234.5 1654.8,2232.2 1656.8,2237.1 1658.5,2233.1 1659.8,2240 1661.4,2237.7 1663.9,2244.3 1665.3,2239.6 1667.5,2245.7 1669.2,2236.7 1671.2,2246.9 1672.9,2238.7 1674.9,2243.4 1677.2,2233.9 1678.6,2243.7 1680,2236.4 1682,2246.7 1684.1,2236.5 1685.3,2244 1687,2236.9 1688.4,2244.9 1690.8,2237.1 1692.7,2245.1 1694.7,2233.4 1696.9,2245 1699.2,2235.9 1700.6,2244.5 1702.8,2235.8 1704.8,2246 1706.3,2234 1708.2,2242.9 1710,2235.8 1711.5,2245.9 1713,2234.9 1715.1,2245 1717.1,2237.7 1719.5,2244 1721.9,2232.9 1723.4,2246 1724.8,2235.8 1726.4,2243.7 1727.7,2230.4 1729.6,2240.9 1732,2235.5 1734.4,2242.6 1735.6,2229.4 1738.2,2238.8 1740.1,2232.1 1742.6,2241.8 1744.9,2229.6 1746.7,2235 1748.9,2226.3 1751.5,2236.1 1753.8,2229.9 1756.3,2233.5 1757.9,2224.2 1760.3,2232.9 1762.8,2224.4" fill="none" stroke="#ff00ff" stroke-width="3" stroke-linejoin="round" stroke-linecap="round"/>
<polyline points="1648.3,2227.6 1650,2237.5 1652.2,2234.3 1654.4,2245.6 1656.1,2235.6 1657.7,2251.1 1658.8,2239.3 1660.4,2254.8 1662,2243.1 1663.4,2253.1 1664.9,2245.2 1666.7,2260.6 1668.7,2244.3 1670.8,2261.6 1671.9,2241.2 1673.8,2258.5 1675.9,2243.4 1677.6,2256.4 1679.5,2240.8 1680.8,2260.3 1682.2,2240 1683.4,2255.3 1684.9,2248.2 1686.3,2257.5 1687.4,2238.3 1689.7,2263.1 1691.4,2247.4 1693.2,2257 1694.2,2246 1695.9,2260.3 1697.1,2244.5 1698.6,2256.7 1700.2,2239.5 1702.3,2262.3 1704.3,2243 1705.9,2259.5 1707.8,2248.4 1709.3,2261.3 1710.8,2245.2 1712,2260.7 1713.6,2246.9 1715.6,2261.1 1716.9,2240.9 1718.2,2259.3 1719.6,2240.8 1721.8,2261.7 1723.5,2241.1 1725.2,2256.5 1726.7,2237 1728.5,2260.9 1730.3,2240.7 1731.5,2252.4 1732.7,2238.1 1734.3,2251.6 1736.3,2242.3 1737.7,2254.7 1739.9,2234.6 1741.4,2255.7 1743.5,2237.4 1745.2,2249.2 1747,2233.1 1748.9,2245.5 1751.2,2233.8 1752.5,2244.1 1754.5,2232.6 1756.5,2242.4 1758.5,2234 1760.2,2240.1 1762.1,2227 1763.5,2236.2" fill="none" stroke="#ff0000" stroke-width="3.4" stroke-linejoin="round" stroke-linecap="round"/>
<polyline points="1640,2164.3 1647.1,2167.9 1651.8,2175 1657.8,2185.7 1663.7,2201.1 1675.5,2192.8 1679.1,2207 1690.9,2195.1 1696.8,2210.5 1702.8,2197.5 1711.1,2212.9 1717,2198.7 1722.9,2212.9 1727.6,2198.7 1737.1,2198.7 1741.9,2212.9 1746.6,2212.9 1752.5,2203.4 1765.5,2198.7" fill="none" stroke="#000000" stroke-width="3.6" stroke-linejoin="round" stroke-linecap="round"/>
<polyline points="1288.9,2815.4 1291.1,2809.7 1293.3,2803.9 1295.5,2798.1 1297.8,2792.3 1300,2786.6 1302.2,2799.9 1304.4,2813.2 1306.6,2826.5 1308.9,2814.7 1311.1,2802.8 1313.3,2791 1315.5,2802.8 1317.7,2814.7 1320,2826.5 1322.2,2819.9 1324.4,2813.2 1326.6,2806.5 1328.9,2799.9 1331.1,2807.3 1333.3,2814.7 1335.5,2822.1 1337.7,2826.5 1340,2831 1342.2,2835.4 1344.4,2836.9 1346.6,2838.4 1348.8,2839.9 1351.1,2841.3 1353.3,2842.8 1355.5,2844.3 1357.7,2844.4 1359.9,2844.6 1362.2,2844.7 1364.4,2844.8 1366.6,2845 1368.8,2845.1 1371,2845.3 1373.3,2845.4 1375.5,2845.5 1377.7,2845.7 1379.9,2845.8 1382.1,2846 1384.4,2846.1 1386.6,2846.2 1388.8,2846.4 1391,2846.5 1393.2,2846.7 1395.5,2846.8 1397.7,2846.9 1399.9,2847.1 1402.1,2847.2 1404.4,2847.3 1406.6,2847.5 1408.8,2847.6 1411,2847.8 1413.2,2847.9 1415.5,2848 1417.7,2848.2 1419.9,2848.3 1422.1,2848.5 1424.3,2848.6 1426.6,2848.7 1428.8,2848.6 1431,2848.5 1433.2,2848.4 1435.4,2848.2 1437.7,2848.1 1439.9,2848 1442.1,2847.9 1444.3,2847.7 1446.5,2847.6 1448.8,2847.5 1451,2847.4 1453.2,2847.3 1455.4,2847.1 1457.6,2847 1459.9,2846.9 1462.1,2846.8 1464.3,2846.6 1466.5,2846.5 1468.7,2842.6 1471,2838.7 1473.2,2834.9 1475.4,2831 1477.6,2831 1479.9,2831 1482.1,2831 1484.3,2831 1486.5,2831 1488.7,2831 1491,2831 1493.2,2831 1495.4,2831 1497.6,2831 1499.8,2831 1502.1,2831 1504.3,2831 1506.5,2831 1508.7,2831 1510.9,2831 1513.2,2826.1 1515.4,2821.2 1517.6,2816.3 1519.8,2811.4 1522,2806.5 1524.3,2806.7 1526.5,2806.8 1528.7,2806.9 1530.9,2807 1533.1,2807.1 1535.4,2807.2 1537.6,2807.4 1539.8,2807.5 1542,2807.6 1544.2,2807.7 1546.5,2807.8 1548.7,2807.9 1550.9,2808.1 1553.1,2808.2 1555.4,2808.3 1557.6,2808.4 1559.8,2808.5 1562,2808.6 1564.2,2808.8 1566.5,2809.3 1568.7,2809.9 1570.9,2810.4 1573.1,2811 1575.3,2811.5 1577.6,2812.1 1579.8,2812.6 1582,2813.2 1584.2,2813.8 1586.4,2814.3 1588.7,2814.9 1590.9,2815.4 1593.1,2815.6 1595.3,2815.7 1597.5,2815.8 1599.8,2816 1602,2816.1 1604.2,2816.3 1606.4,2816.4 1608.6,2816.5 1610.9,2816.7 1613.1,2816.8 1615.3,2817 1617.5,2817.1 1619.7,2817.2 1622,2817.4 1624.2,2817.5 1626.4,2817.6 1628.6,2824.3 1630.9,2831 1633.1,2837.6 1635.3,2844.3 1637.5,2844.5 1639.7,2844.7 1642,2845 1644.2,2845.2 1646.4,2845.4 1648.6,2845.6 1650.8,2845.8 1653.1,2846.1 1655.3,2846.3 1657.5,2846.5 1659.7,2846.7 1661.9,2847 1664.2,2847.2 1666.4,2847.4 1668.6,2847.6 1670.8,2847.8 1673,2848.1 1675.3,2848.3 1677.5,2848.5 1679.7,2848.7 1681.9,2815.4 1684.1,2782.1 1686.4,2813.2 1688.6,2844.3 1690.8,2832.7 1693,2821.2 1695.2,2809.7 1697.5,2798.1 1699.7,2786.6 1701.9,2794 1704.1,2801.4 1706.4,2809.3 1708.6,2811.3 1710.8,2814.8 1713,2818 1715.2,2819.6 1717.5,2822.6 1719.7,2827.7 1721.9,2827 1724.1,2830.9 1726.3,2831.1 1728.6,2834.3 1730.8,2835 1733,2837.5 1735.2,2838.6 1737.4,2839.9 1739.7,2841.2 1741.9,2840 1744.1,2839.3 1746.3,2841.5 1748.5,2840.8 1750.8,2841.9 1753,2840.3 1755.2,2841.5 1757.4,2840.1 1759.6,2840.8 1761.9,2842.8 1764.1,2840.7 1766.3,2842.8 1768.5,2842.9 1770.7,2841.3 1773,2842.2 1775.2,2842 1777.4,2842.6 1779.6,2840.8 1781.9,2841.4 1784.1,2842.3 1786.3,2840.6 1788.5,2839.7 1790.7,2841.5 1793,2839.5 1795.2,2841.4 1797.4,2841.3 1799.6,2840.6 1801.8,2840.3 1804.1,2840.9 1806.3,2819.9 1808.5,2799.9 1810.7,2779.9 1812.9,2759.9 1815.2,2739.9 1817.4,2719.9 1819.6,2702.2 1821.8,2684.4 1824,2666.6 1826.3,2682.2 1828.5,2697.7 1830.7,2713.3 1832.9,2728.8 1835.1,2742.1 1837.4,2755.5 1839.6,2768.8 1841.8,2782.1 1844,2783 1846.2,2783.9 1848.5,2784.8 1850.7,2785.7 1852.9,2786.6 1855.2,2788.2 1857.6,2789.9 1859.9,2791.6 1862.2,2793.2" fill="none" stroke="#ff00ff" stroke-width="3.6" stroke-linejoin="round" stroke-linecap="round"/>
<polyline points="1288.9,2759.9 1293.3,2773.2 1300,2715.5 1306.6,2773.2 1313.3,2724.4 1320,2786.6 1328.9,2742.1 1335.5,2764.4 1340,2808.8 1344.4,2826.5 1355.5,2839.9 1391,2848.7 1426.6,2853.2 1466.5,2855.4 1475.4,2851 1515.4,2846.5 1522,2842.1 1564.2,2842.1 1573.1,2851 1590.9,2848.7 1626.4,2844.3 1635.3,2851 1679.7,2855.4 1681.9,2782.1 1686.4,2826.5 1690.8,2857.6 1699.7,2768.8 1705.5,2768.8 1707.2,2766 1709.5,2780.6 1711.9,2763.6 1714.1,2779.7 1717.7,2769.3 1720.7,2783.5 1723.2,2767.3 1726,2781.1 1728.6,2773.1 1731,2786.7 1733.4,2773.9 1735,2780.7 1737.8,2771 1740,2782.2 1742.5,2768.6 1745,2781.5 1746.6,2771.9 1749.5,2783.6 1751.3,2771.8 1755.1,2783.4 1757.8,2775.7 1760.8,2786 1764.5,2777 1767.2,2784.5 1770.8,2776.5 1773.8,2784.6 1777.2,2775.1 1780.2,2789.5 1782.3,2777.4 1783.9,2786.6 1785.8,2776.3 1789,2784.8 1791.1,2779.7 1794.7,2788.7 1797.7,2779.9 1801.2,2788.3 1806.3,2751 1812.9,2684.4 1819.6,2573.4 1824.9,2525.9 1830.7,2596.9 1841.4,2751 1848.5,2786.6 1862.2,2802.1" fill="none" stroke="#808000" stroke-width="3.6" stroke-linejoin="round" stroke-linecap="round"/>
<polyline points="1288.9,2773.2 1300,2715.5 1306.6,2759.9 1313.3,2728.8 1320,2773.2 1328.9,2746.6 1335.5,2759.9 1342.2,2826.5 1355.5,2831 1391,2842.1 1426.6,2846.5 1466.5,2848.7 1475.4,2843.4 1510.9,2842.1 1522,2817.6 1564.2,2813.2 1573.1,2817.6 1590.9,2813.2 1626.4,2816.8 1635.3,2848.7 1679.7,2853.2 1683.3,2775.5 1687.7,2826.5 1690.8,2853.2 1699.7,2764.4 1705.5,2773.2 1707.2,2773.4 1710.2,2792.1 1712,2774.2 1715,2791.4 1717,2778 1719.7,2789.7 1722.6,2776.8 1725.2,2789.7 1728.2,2781.9 1730.4,2790.8 1733.6,2781.3 1735.7,2790.2 1737.7,2776 1740.3,2797 1742.8,2781.6 1745.7,2793.5 1748.1,2778.6 1750.5,2796.9 1752.3,2779.7 1753.9,2793.1 1757.6,2783.1 1759.2,2790.6 1761.2,2778.2 1763.6,2794.5 1766.2,2780.7 1768.4,2800.2 1770.1,2783.6 1771.8,2792.2 1774.7,2779.4 1776.8,2795.3 1778.6,2783.1 1782.1,2792.4 1784.9,2781.4 1786.8,2795.9 1789.8,2786.7 1793.4,2797.1 1797.1,2777.6 1799.5,2803.7 1801.4,2779.4 1804.1,2786.6 1810.7,2706.6 1819.6,2613.4 1823.6,2618.2 1828.5,2631.1 1835.1,2675.5 1848.5,2702.2 1862.2,2726.6" fill="none" stroke="#ff0000" stroke-width="3.6" stroke-linejoin="round" stroke-linecap="round"/>
<polyline points="1289.1,2797.2 1300.2,2761.7 1306.9,2819.4 1313.5,2770.6 1320.2,2819.4 1329.1,2779.5 1335.7,2810.5 1342.4,2832.7 1355.7,2841.6 1391.3,2845.2 1426.8,2846.1 1466.8,2847 1475.6,2832.7 1511.2,2835 1522.3,2806.1 1564.5,2812.8 1573.3,2819.4 1591.1,2817.2 1626.6,2821.6 1635.5,2843.8 1679.9,2848.3 1684.4,2779.5 1688.8,2846.1 1693.2,2855 1699.9,2779.5 1705.7,2788.3 1707.5,2795.8 1710.5,2811.5 1712.4,2794.2 1714.9,2814.3 1717,2793.6 1720.5,2811 1722.3,2787.8 1724.6,2803.5 1726.3,2786.5 1728,2806 1730.6,2789.4 1734.1,2807.2 1737.4,2786 1741,2812.3 1743,2791.1 1746.2,2805.7 1748.4,2796.3 1752,2812.1 1754.2,2794.6 1757.2,2812 1759.5,2788.5 1761.2,2814.8 1764.8,2798.7 1767.6,2816.9 1770.5,2790.1 1774.2,2812.2 1777.4,2791.8 1780.6,2813.2 1783.2,2791.9 1786.1,2806.6 1789.8,2788.5 1793.2,2812.8 1796.4,2788.6 1799.6,2818.7 1801.6,2800.3 1804.3,2788.3 1813.2,2699.5 1824.3,2664 1833.1,2699.5 1839.8,2806.1 1848.7,2812.8 1862.5,2817.2" fill="none" stroke="#0000ff" stroke-width="3.6" stroke-linejoin="round" stroke-linecap="round"/>
<polyline points="1288.9,2795.4 1300,2759.9 1306.6,2817.6 1313.3,2768.8 1320,2817.6 1328.9,2777.7 1335.5,2808.8 1342.2,2831 1355.5,2839.9 1391,2843.4 1426.6,2844.3 1466.5,2845.2 1475.4,2831 1510.9,2833.2 1522,2804.3 1564.2,2811 1573.1,2817.6 1590.9,2815.4 1626.4,2819.9 1635.3,2842.1 1679.7,2846.5 1684.1,2777.7 1688.6,2844.3 1693,2853.2 1699.7,2777.7 1705.5,2786.6 1707.2,2794 1710.2,2809.7 1712.2,2792.4 1714.7,2812.5 1716.8,2791.9 1720.3,2809.3 1722.1,2786 1724.3,2801.7 1726.1,2784.8 1727.8,2804.2 1730.4,2787.6 1733.9,2805.4 1737.1,2784.3 1740.8,2810.5 1742.8,2789.3 1746,2803.9 1748.1,2794.6 1751.7,2810.4 1753.9,2792.8 1756.9,2810.3 1759.3,2786.7 1761,2813 1764.6,2796.9 1767.3,2815.1 1770.3,2788.3 1774,2810.5 1777.1,2790 1780.3,2811.4 1782.9,2790.1 1785.9,2804.8 1789.5,2786.7 1793,2811.1 1796.1,2786.8 1799.4,2816.9 1801.4,2798.5 1804.1,2786.6 1812.9,2697.7 1824,2662.2 1832.9,2697.7 1839.6,2804.3 1848.5,2811 1862.2,2815.4" fill="none" stroke="#000080" stroke-width="3.6" stroke-linejoin="round" stroke-linecap="round"/>
<polyline points="1288.9,2808.8 1300,2773.2 1306.6,2826.5 1313.3,2782.1 1320,2831 1328.9,2795.4 1335.5,2826.5 1342.2,2837.6 1355.5,2848.7 1391,2853.2 1426.6,2857.6 1466.5,2857.6 1475.4,2853.2 1510.9,2851 1522,2831 1564.2,2828.7 1590.9,2831 1626.4,2837.6 1635.3,2853.2 1679.7,2857.6 1684.1,2786.6 1688.6,2848.7 1693,2857.6 1699.7,2786.6 1705.5,2795.4 1707.2,2791.2 1710.8,2822 1713.2,2788.4 1716.9,2813.4 1718.6,2795.1 1722.3,2818.5 1725,2797.1 1727.6,2821.6 1730.8,2795.6 1732.7,2812.6 1734.8,2800.3 1737.7,2813.1 1739.5,2790.7 1742.5,2825.7 1744.5,2801.8 1746.1,2817.8 1749,2799.4 1751.2,2821.9 1752.9,2799.9 1755.8,2813.1 1758.3,2798.4 1761,2819.6 1763.3,2796.5 1766.5,2821.5 1769.1,2789.4 1772.5,2822.6 1775.9,2799.6 1779.3,2823.6 1782.3,2803.4 1784.2,2821.2 1787.2,2804.5 1789.5,2825.9 1791.8,2795.3 1794,2824.1 1796.1,2802.9 1799.5,2813.3 1801.3,2794.1 1804.1,2808.8 1812.9,2737.7 1824,2711.1 1832.9,2746.6 1839.6,2791 1848.5,2795.4 1862.2,2799.9" fill="none" stroke="#008000" stroke-width="3.6" stroke-linejoin="round" stroke-linecap="round"/>
<rect x="397.3" y="43.9" width="220.7" height="105.4" fill="#2e2e8a"/>
<text x="426.7" y="119" font-size="64.5" textLength="140.2" lengthAdjust="spacingAndGlyphs" fill="#fff">1 DIV</text>
<rect x="1420.3" y="44" width="260.2" height="105.1" fill="#333394"/>
<text x="1458.2" y="118.4" font-size="61" textLength="38.1" lengthAdjust="spacingAndGlyphs" fill="#fff">≥</text>
<text x="1521.9" y="118.4" font-size="63.7" textLength="141.7" lengthAdjust="spacingAndGlyphs" fill="#fff">7 DIV</text>
<text x="34.1" y="172.8" font-size="78.5" textLength="45.6" lengthAdjust="spacingAndGlyphs">A</text>
<text x="81.8" y="167.8" font-size="72" textLength="20.1" lengthAdjust="spacingAndGlyphs">)</text>
<line x1="246.2" y1="173" x2="246.2" y2="601.6" stroke="#c4c4c4" stroke-width="3.2"/>
<line x1="243" y1="171.4" x2="243" y2="601.6" stroke="#2a2a2a" stroke-width="3.3"/>
<line x1="231.5" y1="600" x2="243" y2="600" stroke="#000" stroke-width="2.8"/>
<line x1="237" y1="546.6" x2="243" y2="546.6" stroke="#000" stroke-width="2.8"/>
<line x1="231.5" y1="493.2" x2="243" y2="493.2" stroke="#000" stroke-width="2.8"/>
<line x1="237" y1="439.9" x2="243" y2="439.9" stroke="#000" stroke-width="2.8"/>
<line x1="231.5" y1="386.5" x2="243" y2="386.5" stroke="#000" stroke-width="2.8"/>
<line x1="237" y1="333.1" x2="243" y2="333.1" stroke="#000" stroke-width="2.8"/>
<line x1="231.5" y1="279.8" x2="243" y2="279.8" stroke="#000" stroke-width="2.8"/>
<line x1="237" y1="226.4" x2="243" y2="226.4" stroke="#000" stroke-width="2.8"/>
<line x1="231.5" y1="173" x2="243" y2="173" stroke="#000" stroke-width="2.8"/>
<text x="175.6" y="609.8" font-size="37.3">0</text>
<text x="160.3" y="503.1" font-size="37.3">0.2</text>
<text x="159.9" y="396.3" font-size="37.3">0.4</text>
<text x="160.2" y="289.6" font-size="37.3">0.6</text>
<text x="160.2" y="182.8" font-size="37.3">0.8</text>
<text x="137.2" y="560.1" font-size="45.8" textLength="308" lengthAdjust="spacingAndGlyphs" transform="rotate(-90 137.2 560.1)">RATIO F340/F380</text>
<text x="281" y="238.1" font-size="33.8" textLength="81.2" lengthAdjust="spacingAndGlyphs">1 min</text>
<rect x="294" y="253.6" width="53" height="17.8" fill="#000"/>
<rect x="320" y="575" width="213" height="23" fill="#000"/>
<text x="383.4" y="644.6" font-size="38.7" textLength="46" lengthAdjust="spacingAndGlyphs">Aβ</text>
<text x="434.1" y="655" font-size="28" textLength="32.1" lengthAdjust="spacingAndGlyphs">42</text>
<rect x="693.8" y="575" width="42.2" height="30" fill="#000"/>
<text x="655.7" y="645.2" font-size="39.2" textLength="117.3" lengthAdjust="spacingAndGlyphs">NMDA</text>
<text x="31.4" y="750.2" font-size="78.5" textLength="44.5" lengthAdjust="spacingAndGlyphs">B</text>
<text x="78.2" y="745.2" font-size="72" textLength="20.1" lengthAdjust="spacingAndGlyphs">)</text>
<line x1="246.2" y1="751.3" x2="246.2" y2="1181.2" stroke="#c4c4c4" stroke-width="3.2"/>
<line x1="243" y1="749.7" x2="243" y2="1181.2" stroke="#2a2a2a" stroke-width="3.3"/>
<line x1="231.5" y1="1179.6" x2="243" y2="1179.6" stroke="#000" stroke-width="2.8"/>
<line x1="237" y1="1126.1" x2="243" y2="1126.1" stroke="#000" stroke-width="2.8"/>
<line x1="231.5" y1="1072.5" x2="243" y2="1072.5" stroke="#000" stroke-width="2.8"/>
<line x1="237" y1="1019" x2="243" y2="1019" stroke="#000" stroke-width="2.8"/>
<line x1="231.5" y1="965.4" x2="243" y2="965.4" stroke="#000" stroke-width="2.8"/>
<line x1="237" y1="911.9" x2="243" y2="911.9" stroke="#000" stroke-width="2.8"/>
<line x1="231.5" y1="858.4" x2="243" y2="858.4" stroke="#000" stroke-width="2.8"/>
<line x1="237" y1="804.8" x2="243" y2="804.8" stroke="#000" stroke-width="2.8"/>
<line x1="231.5" y1="751.3" x2="243" y2="751.3" stroke="#000" stroke-width="2.8"/>
<text x="175.6" y="1190.9" font-size="37.3">0</text>
<text x="160.3" y="1083.9" font-size="37.3">0.2</text>
<text x="159.9" y="976.8" font-size="37.3">0.4</text>
<text x="160.2" y="869.7" font-size="37.3">0.6</text>
<text x="160.2" y="762.6" font-size="37.3">0.8</text>
<text x="135.6" y="1122.7" font-size="43.6" textLength="304.9" lengthAdjust="spacingAndGlyphs" transform="rotate(-90 135.6 1122.7)">RATIO F340/F380</text>
<rect x="459.7" y="839" width="185.2" height="23.2" fill="#000"/>
<text x="505.9" y="818.2" font-size="49" textLength="52" lengthAdjust="spacingAndGlyphs">Aβ</text>
<text x="565.9" y="828.5" font-size="33.4" textLength="36.7" lengthAdjust="spacingAndGlyphs">42</text>
<rect x="359.7" y="1158" width="286.5" height="23" fill="#000"/>
<text x="436.7" y="1223" font-size="39" textLength="114.6" lengthAdjust="spacingAndGlyphs">MK801</text>
<rect x="736" y="1158" width="38" height="23" fill="#000"/>
<text x="699.7" y="1223" font-size="39" textLength="109.7" lengthAdjust="spacingAndGlyphs">NMDA</text>
<text x="31" y="1326.5" font-size="78.5" textLength="46.1" lengthAdjust="spacingAndGlyphs">C</text>
<text x="77.8" y="1321.5" font-size="72" textLength="20.6" lengthAdjust="spacingAndGlyphs">)</text>
<line x1="246.2" y1="1331" x2="246.2" y2="1759.2" stroke="#c4c4c4" stroke-width="3.2"/>
<line x1="243" y1="1329.4" x2="243" y2="1759.2" stroke="#2a2a2a" stroke-width="3.3"/>
<line x1="231.5" y1="1757.6" x2="243" y2="1757.6" stroke="#000" stroke-width="2.8"/>
<line x1="237" y1="1704.3" x2="243" y2="1704.3" stroke="#000" stroke-width="2.8"/>
<line x1="231.5" y1="1650.9" x2="243" y2="1650.9" stroke="#000" stroke-width="2.8"/>
<line x1="237" y1="1597.6" x2="243" y2="1597.6" stroke="#000" stroke-width="2.8"/>
<line x1="231.5" y1="1544.3" x2="243" y2="1544.3" stroke="#000" stroke-width="2.8"/>
<line x1="237" y1="1491" x2="243" y2="1491" stroke="#000" stroke-width="2.8"/>
<line x1="231.5" y1="1437.7" x2="243" y2="1437.7" stroke="#000" stroke-width="2.8"/>
<line x1="237" y1="1384.3" x2="243" y2="1384.3" stroke="#000" stroke-width="2.8"/>
<line x1="231.5" y1="1331" x2="243" y2="1331" stroke="#000" stroke-width="2.8"/>
<text x="175.6" y="1768.9" font-size="37.3">0</text>
<text x="160.3" y="1662.3" font-size="37.3">0.2</text>
<text x="159.9" y="1555.6" font-size="37.3">0.4</text>
<text x="160.2" y="1449" font-size="37.3">0.6</text>
<text x="160.2" y="1342.3" font-size="37.3">0.8</text>
<text x="136" y="1703.1" font-size="43.6" textLength="304.5" lengthAdjust="spacingAndGlyphs" transform="rotate(-90 136 1703.1)">RATIO F340/F380</text>
<rect x="367.7" y="1416.5" width="171.9" height="23.5" fill="#000"/>
<text x="411.6" y="1393.7" font-size="49" textLength="52" lengthAdjust="spacingAndGlyphs">Aβ</text>
<text x="471.8" y="1404" font-size="33.4" textLength="37.5" lengthAdjust="spacingAndGlyphs">42</text>
<rect x="303" y="1733" width="240" height="23" fill="#000"/>
<text x="384.7" y="1796" font-size="39" textLength="71.1" lengthAdjust="spacingAndGlyphs">NA7</text>
<rect x="700.8" y="1733" width="48.6" height="23" fill="#000"/>
<text x="672.9" y="1796" font-size="39" textLength="109.8" lengthAdjust="spacingAndGlyphs">NMDA</text>
<text x="30.8" y="1904.8" font-size="78.5" textLength="56.9" lengthAdjust="spacingAndGlyphs">D</text>
<text x="84.9" y="1899.8" font-size="72" textLength="20.1" lengthAdjust="spacingAndGlyphs">)</text>
<line x1="244.4" y1="1913.9" x2="244.4" y2="2342.9" stroke="#7f7f7f" stroke-width="5.5"/>
<line x1="232.9" y1="2341.3" x2="244.4" y2="2341.3" stroke="#444" stroke-width="2.8"/>
<line x1="238.4" y1="2288.1" x2="244.4" y2="2288.1" stroke="#444" stroke-width="2.8"/>
<line x1="232.9" y1="2234.9" x2="244.4" y2="2234.9" stroke="#444" stroke-width="2.8"/>
<line x1="238.4" y1="2181.6" x2="244.4" y2="2181.6" stroke="#444" stroke-width="2.8"/>
<line x1="232.9" y1="2128.4" x2="244.4" y2="2128.4" stroke="#444" stroke-width="2.8"/>
<line x1="238.4" y1="2075.2" x2="244.4" y2="2075.2" stroke="#444" stroke-width="2.8"/>
<line x1="232.9" y1="2022" x2="244.4" y2="2022" stroke="#444" stroke-width="2.8"/>
<line x1="238.4" y1="1968.7" x2="244.4" y2="1968.7" stroke="#444" stroke-width="2.8"/>
<line x1="232.9" y1="1915.5" x2="244.4" y2="1915.5" stroke="#444" stroke-width="2.8"/>
<text x="194.3" y="2351.6" font-size="37.3">0</text>
<text x="161.7" y="2245.2" font-size="37.3">0.2</text>
<text x="161.3" y="2138.7" font-size="37.3">0.4</text>
<text x="161.6" y="2032.3" font-size="37.3">0.6</text>
<text x="161.6" y="1925.8" font-size="37.3">0.8</text>
<text x="136" y="2289.1" font-size="43.6" textLength="307.6" lengthAdjust="spacingAndGlyphs" transform="rotate(-90 136 2289.1)">RATIO F340/F380</text>
<rect x="436" y="1998" width="127" height="23" fill="#000"/>
<text x="452.9" y="1978" font-size="49" textLength="52" lengthAdjust="spacingAndGlyphs">Aβ</text>
<text x="512.8" y="1988.3" font-size="33.4" textLength="36.4" lengthAdjust="spacingAndGlyphs">42</text>
<rect x="326.4" y="2321" width="236.6" height="24" fill="#000"/>
<text x="339.4" y="2386.6" font-size="39" textLength="218.3" lengthAdjust="spacingAndGlyphs">ω-Agatoxine</text>
<rect x="744.8" y="2321" width="31.2" height="24" fill="#000"/>
<text x="699.7" y="2387" font-size="39" textLength="111.8" lengthAdjust="spacingAndGlyphs">NMDA</text>
<text x="32.7" y="2492.8" font-size="78.5" textLength="37.8" lengthAdjust="spacingAndGlyphs">E</text>
<text x="70.9" y="2487.8" font-size="72" textLength="21.5" lengthAdjust="spacingAndGlyphs">)</text>
<line x1="244.7" y1="2486.6" x2="244.7" y2="2914.6" stroke="#c4c4c4" stroke-width="3.2"/>
<line x1="241.5" y1="2485" x2="241.5" y2="2914.6" stroke="#2a2a2a" stroke-width="3.3"/>
<line x1="230" y1="2913" x2="241.5" y2="2913" stroke="#000" stroke-width="2.8"/>
<line x1="235.5" y1="2859.7" x2="241.5" y2="2859.7" stroke="#000" stroke-width="2.8"/>
<line x1="230" y1="2806.4" x2="241.5" y2="2806.4" stroke="#000" stroke-width="2.8"/>
<line x1="235.5" y1="2753.1" x2="241.5" y2="2753.1" stroke="#000" stroke-width="2.8"/>
<line x1="230" y1="2699.8" x2="241.5" y2="2699.8" stroke="#000" stroke-width="2.8"/>
<line x1="235.5" y1="2646.5" x2="241.5" y2="2646.5" stroke="#000" stroke-width="2.8"/>
<line x1="230" y1="2593.2" x2="241.5" y2="2593.2" stroke="#000" stroke-width="2.8"/>
<line x1="235.5" y1="2539.9" x2="241.5" y2="2539.9" stroke="#000" stroke-width="2.8"/>
<line x1="230" y1="2486.6" x2="241.5" y2="2486.6" stroke="#000" stroke-width="2.8"/>
<text x="174.1" y="2924.3" font-size="37.3">0</text>
<text x="158.8" y="2817.7" font-size="37.3">0.2</text>
<text x="158.4" y="2711.1" font-size="37.3">0.4</text>
<text x="158.7" y="2604.5" font-size="37.3">0.6</text>
<text x="158.7" y="2497.9" font-size="37.3">0.8</text>
<text x="135.6" y="2856.1" font-size="43.6" textLength="306.9" lengthAdjust="spacingAndGlyphs" transform="rotate(-90 135.6 2856.1)">RATIO F340/F380</text>
<rect x="464.3" y="2577.7" width="190.5" height="23.3" fill="#000"/>
<text x="509.1" y="2553.7" font-size="49" textLength="56.8" lengthAdjust="spacingAndGlyphs">Aβ</text>
<text x="579.9" y="2564" font-size="33.4" textLength="37.1" lengthAdjust="spacingAndGlyphs">42</text>
<rect x="395" y="2893" width="266.5" height="23" fill="#000"/>
<text x="493.2" y="2956" font-size="39" textLength="67.1" lengthAdjust="spacingAndGlyphs">TTX</text>
<rect x="746" y="2893" width="51.4" height="23" fill="#000"/>
<text x="706.1" y="2957" font-size="39" textLength="121.4" lengthAdjust="spacingAndGlyphs">NMDA</text>
<text x="1054.4" y="169.6" font-size="78.5" textLength="37.7" lengthAdjust="spacingAndGlyphs">F</text>
<text x="1092.9" y="164.6" font-size="72" textLength="21.2" lengthAdjust="spacingAndGlyphs">)</text>
<line x1="1266.5" y1="167.8" x2="1266.5" y2="598.6" stroke="#7f7f7f" stroke-width="5.5"/>
<line x1="1255" y1="597" x2="1266.5" y2="597" stroke="#444" stroke-width="2.8"/>
<line x1="1260.5" y1="543.5" x2="1266.5" y2="543.5" stroke="#444" stroke-width="2.8"/>
<line x1="1255" y1="490.1" x2="1266.5" y2="490.1" stroke="#444" stroke-width="2.8"/>
<line x1="1260.5" y1="436.6" x2="1266.5" y2="436.6" stroke="#444" stroke-width="2.8"/>
<line x1="1255" y1="383.2" x2="1266.5" y2="383.2" stroke="#444" stroke-width="2.8"/>
<line x1="1260.5" y1="329.8" x2="1266.5" y2="329.8" stroke="#444" stroke-width="2.8"/>
<line x1="1255" y1="276.3" x2="1266.5" y2="276.3" stroke="#444" stroke-width="2.8"/>
<line x1="1260.5" y1="222.8" x2="1266.5" y2="222.8" stroke="#444" stroke-width="2.8"/>
<line x1="1255" y1="169.4" x2="1266.5" y2="169.4" stroke="#444" stroke-width="2.8"/>
<text x="1206.1" y="612.8" font-size="37.3">0</text>
<text x="1185.3" y="505.9" font-size="37.3">0.2</text>
<text x="1184.9" y="399" font-size="37.3">0.4</text>
<text x="1185.2" y="292.1" font-size="37.3">0.6</text>
<text x="1185.2" y="185.2" font-size="37.3">0.8</text>
<rect x="1366" y="574.5" width="202.6" height="28.5" fill="#000"/>
<text x="1427.5" y="645" font-size="38.7" textLength="43.9" lengthAdjust="spacingAndGlyphs">Aβ</text>
<text x="1475.4" y="655" font-size="28" textLength="31.5" lengthAdjust="spacingAndGlyphs">42</text>
<rect x="1650.5" y="574.5" width="40.2" height="28.5" fill="#000"/>
<text x="1622.6" y="646" font-size="39" textLength="107.5" lengthAdjust="spacingAndGlyphs">NMDA</text>
<text x="1052.3" y="749" font-size="78.5" textLength="56.6" lengthAdjust="spacingAndGlyphs">G</text>
<text x="1106.6" y="744" font-size="72" textLength="21.4" lengthAdjust="spacingAndGlyphs">)</text>
<line x1="1268.2" y1="755.6" x2="1268.2" y2="1183.6" stroke="#c4c4c4" stroke-width="3.2"/>
<line x1="1265" y1="754" x2="1265" y2="1183.6" stroke="#2a2a2a" stroke-width="3.3"/>
<line x1="1253.5" y1="1182" x2="1265" y2="1182" stroke="#000" stroke-width="2.8"/>
<line x1="1259" y1="1128.7" x2="1265" y2="1128.7" stroke="#000" stroke-width="2.8"/>
<line x1="1253.5" y1="1075.4" x2="1265" y2="1075.4" stroke="#000" stroke-width="2.8"/>
<line x1="1259" y1="1022.1" x2="1265" y2="1022.1" stroke="#000" stroke-width="2.8"/>
<line x1="1253.5" y1="968.8" x2="1265" y2="968.8" stroke="#000" stroke-width="2.8"/>
<line x1="1259" y1="915.5" x2="1265" y2="915.5" stroke="#000" stroke-width="2.8"/>
<line x1="1253.5" y1="862.2" x2="1265" y2="862.2" stroke="#000" stroke-width="2.8"/>
<line x1="1259" y1="808.9" x2="1265" y2="808.9" stroke="#000" stroke-width="2.8"/>
<line x1="1253.5" y1="755.6" x2="1265" y2="755.6" stroke="#000" stroke-width="2.8"/>
<text x="1196.6" y="1193.3" font-size="37.3">0</text>
<text x="1181.3" y="1086.7" font-size="37.3">0.2</text>
<text x="1180.9" y="980.1" font-size="37.3">0.4</text>
<text x="1181.2" y="873.5" font-size="37.3">0.6</text>
<text x="1181.2" y="766.9" font-size="37.3">0.8</text>
<text x="1156.5" y="1121" font-size="43.6" textLength="301.5" lengthAdjust="spacingAndGlyphs" transform="rotate(-90 1156.5 1121)">RATIO F340/F380</text>
<rect x="1438" y="839" width="125.4" height="23" fill="#000"/>
<text x="1449.9" y="818" font-size="49" textLength="51.7" lengthAdjust="spacingAndGlyphs">Aβ</text>
<text x="1510.2" y="828.3" font-size="33.4" textLength="39.6" lengthAdjust="spacingAndGlyphs">42</text>
<rect x="1332" y="1159" width="233.5" height="24" fill="#000"/>
<text x="1400.1" y="1224" font-size="39" textLength="111.6" lengthAdjust="spacingAndGlyphs">MK801</text>
<rect x="1726.7" y="1159" width="38.8" height="24" fill="#000"/>
<text x="1680.4" y="1224" font-size="39" textLength="111.4" lengthAdjust="spacingAndGlyphs">NMDA</text>
<text x="1053" y="1331" font-size="78.5" textLength="56.9" lengthAdjust="spacingAndGlyphs">H</text>
<text x="1106.6" y="1326" font-size="72" textLength="21.4" lengthAdjust="spacingAndGlyphs">)</text>
<line x1="1271.8" y1="1334" x2="1271.8" y2="1762.1" stroke="#c4c4c4" stroke-width="3.2"/>
<line x1="1268.6" y1="1332.4" x2="1268.6" y2="1762.1" stroke="#2a2a2a" stroke-width="3.3"/>
<line x1="1257.1" y1="1760.5" x2="1268.6" y2="1760.5" stroke="#000" stroke-width="2.8"/>
<line x1="1262.6" y1="1707.2" x2="1268.6" y2="1707.2" stroke="#000" stroke-width="2.8"/>
<line x1="1257.1" y1="1653.9" x2="1268.6" y2="1653.9" stroke="#000" stroke-width="2.8"/>
<line x1="1262.6" y1="1600.6" x2="1268.6" y2="1600.6" stroke="#000" stroke-width="2.8"/>
<line x1="1257.1" y1="1547.2" x2="1268.6" y2="1547.2" stroke="#000" stroke-width="2.8"/>
<line x1="1262.6" y1="1493.9" x2="1268.6" y2="1493.9" stroke="#000" stroke-width="2.8"/>
<line x1="1257.1" y1="1440.6" x2="1268.6" y2="1440.6" stroke="#000" stroke-width="2.8"/>
<line x1="1262.6" y1="1387.3" x2="1268.6" y2="1387.3" stroke="#000" stroke-width="2.8"/>
<line x1="1257.1" y1="1334" x2="1268.6" y2="1334" stroke="#000" stroke-width="2.8"/>
<text x="1204.6" y="1771.8" font-size="37.3">0</text>
<text x="1181.3" y="1665.2" font-size="37.3">0.2</text>
<text x="1180.9" y="1558.6" font-size="37.3">0.4</text>
<text x="1181.2" y="1452" font-size="37.3">0.6</text>
<text x="1181.2" y="1345.3" font-size="37.3">0.8</text>
<text x="1159.5" y="1701" font-size="43.6" textLength="301.5" lengthAdjust="spacingAndGlyphs" transform="rotate(-90 1159.5 1701)">RATIO F340/F380</text>
<rect x="1449" y="1417" width="176.6" height="23" fill="#000"/>
<text x="1497.9" y="1394" font-size="49" textLength="51.7" lengthAdjust="spacingAndGlyphs">Aβ</text>
<text x="1558.2" y="1404.3" font-size="33.4" textLength="37.5" lengthAdjust="spacingAndGlyphs">42</text>
<rect x="1346" y="1733.6" width="298.7" height="24.7" fill="#000"/>
<text x="1451.2" y="1798" font-size="39" textLength="77.4" lengthAdjust="spacingAndGlyphs">NA7</text>
<rect x="1745.7" y="1733.6" width="48.1" height="24.7" fill="#000"/>
<text x="1722.9" y="1798" font-size="39" textLength="109.8" lengthAdjust="spacingAndGlyphs">NMDA</text>
<text x="1049.8" y="1904.8" font-size="78.5" textLength="29.2" lengthAdjust="spacingAndGlyphs">I</text>
<text x="1076" y="1899.8" font-size="72" textLength="21.2" lengthAdjust="spacingAndGlyphs">)</text>
<line x1="1270.2" y1="1913" x2="1270.2" y2="2343.6" stroke="#c4c4c4" stroke-width="3.2"/>
<line x1="1267" y1="1911.4" x2="1267" y2="2343.6" stroke="#2a2a2a" stroke-width="3.3"/>
<line x1="1255.5" y1="2342" x2="1267" y2="2342" stroke="#000" stroke-width="2.8"/>
<line x1="1261" y1="2288.4" x2="1267" y2="2288.4" stroke="#000" stroke-width="2.8"/>
<line x1="1255.5" y1="2234.8" x2="1267" y2="2234.8" stroke="#000" stroke-width="2.8"/>
<line x1="1261" y1="2181.1" x2="1267" y2="2181.1" stroke="#000" stroke-width="2.8"/>
<line x1="1255.5" y1="2127.5" x2="1267" y2="2127.5" stroke="#000" stroke-width="2.8"/>
<line x1="1261" y1="2073.9" x2="1267" y2="2073.9" stroke="#000" stroke-width="2.8"/>
<line x1="1255.5" y1="2020.2" x2="1267" y2="2020.2" stroke="#000" stroke-width="2.8"/>
<line x1="1261" y1="1966.6" x2="1267" y2="1966.6" stroke="#000" stroke-width="2.8"/>
<line x1="1255.5" y1="1913" x2="1267" y2="1913" stroke="#000" stroke-width="2.8"/>
<text x="1197.1" y="2353.3" font-size="37.3">0</text>
<text x="1181.8" y="2246.1" font-size="37.3">0.2</text>
<text x="1181.4" y="2138.8" font-size="37.3">0.4</text>
<text x="1181.7" y="2031.6" font-size="37.3">0.6</text>
<text x="1181.7" y="1924.3" font-size="37.3">0.8</text>
<text x="1159.5" y="2285.1" font-size="43.6" textLength="305.5" lengthAdjust="spacingAndGlyphs" transform="rotate(-90 1159.5 2285.1)">RATIO F340/F380</text>
<rect x="1526.6" y="1999" width="132.9" height="23.4" fill="#000"/>
<text x="1542.9" y="1977" font-size="49" textLength="54.8" lengthAdjust="spacingAndGlyphs">Aβ</text>
<text x="1606.2" y="1987.3" font-size="33.4" textLength="38.5" lengthAdjust="spacingAndGlyphs">42</text>
<rect x="1406.5" y="2319" width="254.5" height="30" fill="#000"/>
<text x="1422.3" y="2386.5" font-size="39" textLength="229.5" lengthAdjust="spacingAndGlyphs">ω-Agatoxine</text>
<rect x="1749.3" y="2319" width="33.2" height="30" fill="#000"/>
<text x="1706.8" y="2388" font-size="39" textLength="113.2" lengthAdjust="spacingAndGlyphs">NMDA</text>
<text x="1052.3" y="2489.3" font-size="78.5" textLength="31.9" lengthAdjust="spacingAndGlyphs">J</text>
<text x="1083.1" y="2484.3" font-size="72" textLength="20.1" lengthAdjust="spacingAndGlyphs">)</text>
<line x1="1266.2" y1="2494" x2="1266.2" y2="2922.1" stroke="#c4c4c4" stroke-width="3.2"/>
<line x1="1263" y1="2492.4" x2="1263" y2="2922.1" stroke="#2a2a2a" stroke-width="3.3"/>
<line x1="1251.5" y1="2920.5" x2="1263" y2="2920.5" stroke="#000" stroke-width="2.8"/>
<line x1="1257" y1="2867.2" x2="1263" y2="2867.2" stroke="#000" stroke-width="2.8"/>
<line x1="1251.5" y1="2813.9" x2="1263" y2="2813.9" stroke="#000" stroke-width="2.8"/>
<line x1="1257" y1="2760.6" x2="1263" y2="2760.6" stroke="#000" stroke-width="2.8"/>
<line x1="1251.5" y1="2707.2" x2="1263" y2="2707.2" stroke="#000" stroke-width="2.8"/>
<line x1="1257" y1="2653.9" x2="1263" y2="2653.9" stroke="#000" stroke-width="2.8"/>
<line x1="1251.5" y1="2600.6" x2="1263" y2="2600.6" stroke="#000" stroke-width="2.8"/>
<line x1="1257" y1="2547.3" x2="1263" y2="2547.3" stroke="#000" stroke-width="2.8"/>
<line x1="1251.5" y1="2494" x2="1263" y2="2494" stroke="#000" stroke-width="2.8"/>
<text x="1197.6" y="2934.8" font-size="37.3">0</text>
<text x="1182.3" y="2828.2" font-size="37.3">0.2</text>
<text x="1181.9" y="2721.6" font-size="37.3">0.4</text>
<text x="1182.2" y="2615" font-size="37.3">0.6</text>
<text x="1182.2" y="2508.3" font-size="37.3">0.8</text>
<text x="1157.5" y="2864.6" font-size="43.6" textLength="301.7" lengthAdjust="spacingAndGlyphs" transform="rotate(-90 1157.5 2864.6)">RATIO F340/F380</text>
<rect x="1432.6" y="2579" width="142.1" height="23.4" fill="#000"/>
<text x="1455.9" y="2553" font-size="49" textLength="51.7" lengthAdjust="spacingAndGlyphs">Aβ</text>
<text x="1516.2" y="2563.3" font-size="33.4" textLength="36.4" lengthAdjust="spacingAndGlyphs">42</text>
<rect x="1328.7" y="2892" width="249.3" height="26" fill="#000"/>
<text x="1426.9" y="2958" font-size="39" textLength="61.5" lengthAdjust="spacingAndGlyphs">TTX</text>
<rect x="1776" y="2892" width="37" height="26" fill="#000"/>
<text x="1731.9" y="2958" font-size="39" textLength="110.8" lengthAdjust="spacingAndGlyphs">NMDA</text>
<text x="36.6" y="3046" font-size="64" textLength="35.5" lengthAdjust="spacingAndGlyphs">K</text>
<text x="71.6" y="3040" font-size="57" textLength="19.6" lengthAdjust="spacingAndGlyphs">)</text>
<text x="149.2" y="3437.1" font-size="49.4" textLength="255.1" lengthAdjust="spacingAndGlyphs" transform="rotate(-90 149.2 3437.1)">% Activation</text>
<line x1="238.5" y1="3545" x2="250.5" y2="3545" stroke="#111" stroke-width="3"/>
<line x1="244.5" y1="3485" x2="250.5" y2="3485" stroke="#111" stroke-width="3"/>
<line x1="238.5" y1="3425" x2="250.5" y2="3425" stroke="#111" stroke-width="3"/>
<line x1="244.5" y1="3365" x2="250.5" y2="3365" stroke="#111" stroke-width="3"/>
<line x1="238.5" y1="3305" x2="250.5" y2="3305" stroke="#111" stroke-width="3"/>
<line x1="244.5" y1="3245" x2="250.5" y2="3245" stroke="#111" stroke-width="3"/>
<line x1="238.5" y1="3185" x2="250.5" y2="3185" stroke="#111" stroke-width="3"/>
<line x1="244.5" y1="3125" x2="250.5" y2="3125" stroke="#111" stroke-width="3"/>
<line x1="238.5" y1="3065" x2="250.5" y2="3065" stroke="#111" stroke-width="3"/>
<text x="191.9" y="3563.5" font-size="38">0</text>
<text x="181.2" y="3443.5" font-size="38">25</text>
<text x="181.3" y="3323.5" font-size="38">50</text>
<text x="181.2" y="3203.5" font-size="38">75</text>
<text x="170.1" y="3083.5" font-size="38">100</text>
<line x1="250.5" y1="3063.5" x2="250.5" y2="3547" stroke="#111" stroke-width="4.2"/>
<rect x="270.2" y="3066.9" width="102.2" height="478.1" fill="#c0c0c0" stroke="#1a1a1a" stroke-width="3.8"/>
<rect x="391" y="3379.4" width="108" height="166.6" fill="#000"/>
<rect x="524.3" y="3243.7" width="104.7" height="302.3" fill="#000"/>
<rect x="653.8" y="3155.8" width="107.5" height="390.2" fill="#000"/>
<rect x="784.4" y="3129" width="107.6" height="417" fill="#000"/>
<line x1="321.5" y1="3019.5" x2="321.5" y2="3068" stroke="#111" stroke-width="3.4"/>
<line x1="319.8" y1="3022.1" x2="336.5" y2="3022.1" stroke="#222" stroke-width="5.2"/>
<line x1="444.4" y1="3354" x2="444.4" y2="3380" stroke="#111" stroke-width="3.4"/>
<line x1="436.9" y1="3355.6" x2="451.9" y2="3355.6" stroke="#111" stroke-width="3.4"/>
<line x1="573" y1="3199.4" x2="573" y2="3244" stroke="#111" stroke-width="3.4"/>
<line x1="565.5" y1="3201" x2="580.5" y2="3201" stroke="#111" stroke-width="3.4"/>
<line x1="708.8" y1="3120.6" x2="708.8" y2="3156" stroke="#111" stroke-width="3.4"/>
<line x1="701.3" y1="3122.2" x2="716.3" y2="3122.2" stroke="#111" stroke-width="3.4"/>
<line x1="839" y1="3078.4" x2="839" y2="3130" stroke="#111" stroke-width="3.4"/>
<line x1="831.5" y1="3080" x2="846.5" y2="3080" stroke="#111" stroke-width="3.4"/>
<text x="439.2" y="3330.7" font-size="60.1" textLength="20.1" lengthAdjust="spacingAndGlyphs">*</text>
<text x="577" y="3197.2" font-size="59.8" textLength="25" lengthAdjust="spacingAndGlyphs">*</text>
<line x1="241.5" y1="3546.5" x2="893" y2="3546.5" stroke="#222" stroke-width="5.2"/>
<text x="376.1" y="3596.6" font-size="40" textLength="120" lengthAdjust="spacingAndGlyphs">MK801</text>
<text x="534.1" y="3596.6" font-size="40" textLength="75" lengthAdjust="spacingAndGlyphs">NA7</text>
<text x="650.8" y="3596.6" font-size="40" textLength="108.7" lengthAdjust="spacingAndGlyphs">ω-Aga</text>
<text x="807" y="3596.6" font-size="40" textLength="62" lengthAdjust="spacingAndGlyphs">TTX</text>
<rect x="248.1" y="3623.6" width="655.3" height="56.8" fill="#fff" stroke="#111" stroke-width="5.2"/>
<text x="430.9" y="3665.5" font-size="37.6" textLength="46.6" lengthAdjust="spacingAndGlyphs">Aβ</text>
<text x="477.1" y="3674.3" font-size="22" textLength="28.8" lengthAdjust="spacingAndGlyphs">42</text>
<text x="513.3" y="3665.5" font-size="38.8" textLength="164.6" lengthAdjust="spacingAndGlyphs">Oligomers</text>
<text x="1055.3" y="3046" font-size="64" textLength="31.5" lengthAdjust="spacingAndGlyphs">L</text>
<text x="1088.6" y="3040" font-size="57" textLength="20.1" lengthAdjust="spacingAndGlyphs">)</text>
<text x="1161" y="3437.1" font-size="49.4" textLength="255.1" lengthAdjust="spacingAndGlyphs" transform="rotate(-90 1161 3437.1)">% Activation</text>
<line x1="1247.5" y1="3548.5" x2="1259.5" y2="3548.5" stroke="#111" stroke-width="3"/>
<line x1="1253.5" y1="3488.2" x2="1259.5" y2="3488.2" stroke="#111" stroke-width="3"/>
<line x1="1247.5" y1="3428" x2="1259.5" y2="3428" stroke="#111" stroke-width="3"/>
<line x1="1253.5" y1="3367.8" x2="1259.5" y2="3367.8" stroke="#111" stroke-width="3"/>
<line x1="1247.5" y1="3307.5" x2="1259.5" y2="3307.5" stroke="#111" stroke-width="3"/>
<line x1="1253.5" y1="3247.2" x2="1259.5" y2="3247.2" stroke="#111" stroke-width="3"/>
<line x1="1247.5" y1="3187" x2="1259.5" y2="3187" stroke="#111" stroke-width="3"/>
<line x1="1253.5" y1="3126.8" x2="1259.5" y2="3126.8" stroke="#111" stroke-width="3"/>
<line x1="1247.5" y1="3066.5" x2="1259.5" y2="3066.5" stroke="#111" stroke-width="3"/>
<text x="1202.4" y="3567" font-size="38">0</text>
<text x="1191.7" y="3446.5" font-size="38">25</text>
<text x="1191.8" y="3326" font-size="38">50</text>
<text x="1191.7" y="3205.5" font-size="38">75</text>
<text x="1180.6" y="3085" font-size="38">100</text>
<line x1="1259.5" y1="3065" x2="1259.5" y2="3550.5" stroke="#111" stroke-width="4.2"/>
<rect x="1272.9" y="3068.4" width="102.7" height="480.1" fill="#c0c0c0" stroke="#1a1a1a" stroke-width="3.8"/>
<rect x="1399.6" y="3376" width="108.8" height="173.5" fill="#000"/>
<rect x="1522.4" y="3205" width="107.2" height="344.5" fill="#000"/>
<rect x="1664.9" y="3287.3" width="107.7" height="262.2" fill="#000"/>
<rect x="1786.6" y="3423" width="109.4" height="126.5" fill="#000"/>
<line x1="1323.5" y1="3044.7" x2="1323.5" y2="3068" stroke="#111" stroke-width="3.4"/>
<line x1="1316" y1="3046.3" x2="1331" y2="3046.3" stroke="#111" stroke-width="3.4"/>
<line x1="1451.5" y1="3329.5" x2="1451.5" y2="3377" stroke="#111" stroke-width="3.4"/>
<line x1="1444" y1="3331.1" x2="1459" y2="3331.1" stroke="#111" stroke-width="3.4"/>
<line x1="1574.6" y1="3184" x2="1574.6" y2="3206" stroke="#111" stroke-width="3.4"/>
<line x1="1567.1" y1="3185.6" x2="1582.1" y2="3185.6" stroke="#111" stroke-width="3.4"/>
<line x1="1716.6" y1="3193" x2="1716.6" y2="3288" stroke="#111" stroke-width="3.4"/>
<line x1="1709.1" y1="3194.6" x2="1724.1" y2="3194.6" stroke="#111" stroke-width="3.4"/>
<line x1="1838.3" y1="3377" x2="1838.3" y2="3424" stroke="#111" stroke-width="3.4"/>
<line x1="1830.8" y1="3378.6" x2="1845.8" y2="3378.6" stroke="#111" stroke-width="3.4"/>
<text x="1452.7" y="3330.7" font-size="60.1" textLength="20.7" lengthAdjust="spacingAndGlyphs">*</text>
<text x="1579.1" y="3165.2" font-size="59.8" textLength="20.7" lengthAdjust="spacingAndGlyphs">*</text>
<text x="1728.1" y="3189.4" font-size="62.1" textLength="21.8" lengthAdjust="spacingAndGlyphs">*</text>
<text x="1841.1" y="3379.9" font-size="60.1" textLength="21.2" lengthAdjust="spacingAndGlyphs">*</text>
<line x1="1250.5" y1="3550" x2="1897" y2="3550" stroke="#222" stroke-width="5.2"/>
<text x="1395" y="3596.6" font-size="40" textLength="116.2" lengthAdjust="spacingAndGlyphs">MK801</text>
<text x="1546.2" y="3596.6" font-size="40" textLength="72.9" lengthAdjust="spacingAndGlyphs">NA7</text>
<text x="1667.5" y="3596.6" font-size="40" textLength="105.1" lengthAdjust="spacingAndGlyphs">ω-Aga</text>
<text x="1806.7" y="3596.6" font-size="40" textLength="61" lengthAdjust="spacingAndGlyphs">TTX</text>
<rect x="1259.2" y="3623.6" width="655.9" height="56.8" fill="#fff" stroke="#111" stroke-width="5.2"/>
<text x="1439.4" y="3665.5" font-size="37.6" textLength="46.6" lengthAdjust="spacingAndGlyphs">Aβ</text>
<text x="1485.6" y="3674.3" font-size="22" textLength="28.7" lengthAdjust="spacingAndGlyphs">42</text>
<text x="1522.3" y="3665.5" font-size="38.8" textLength="163.6" lengthAdjust="spacingAndGlyphs">Oligomers</text>
</svg></body></html>
